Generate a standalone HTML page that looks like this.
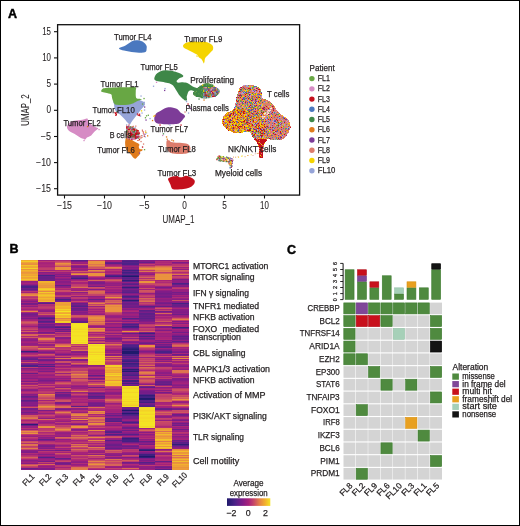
<!DOCTYPE html>
<html><head><meta charset="utf-8"><style>
html,body{margin:0;padding:0;background:#fff;}
body{width:520px;height:526px;overflow:hidden;position:relative;}
svg{position:absolute;left:0;top:0;font-family:"Liberation Sans", sans-serif;fill:#231f20;will-change:transform;}
text{stroke:#231f20;stroke-width:0.25px;}
text[font-weight]{stroke:#000;stroke-width:0.45px;}
.ax{stroke-width:0.08px;}
.frame{position:absolute;left:0;top:0;width:520px;height:526px;box-sizing:border-box;border:1px solid #000;}
</style></head><body>
<svg width="520" height="526" viewBox="0 0 520 526">
<text x="8.0" y="18.0" font-size="12.5" font-weight="bold" fill="#000">A</text>
<rect x="57.6" y="24.7" width="242.0" height="170.4" fill="none" stroke="#111" stroke-width="1.3"/>
<line x1="54" y1="31.7" x2="57.6" y2="31.7" stroke="#111" stroke-width="1.1"/>
<text x="51.0" y="34.7" font-size="10.2" text-anchor="end" textLength="8.8" lengthAdjust="spacingAndGlyphs" class="ax">15</text>
<line x1="54" y1="57.9" x2="57.6" y2="57.9" stroke="#111" stroke-width="1.1"/>
<text x="51.0" y="60.9" font-size="10.2" text-anchor="end" textLength="8.8" lengthAdjust="spacingAndGlyphs" class="ax">10</text>
<line x1="54" y1="84.1" x2="57.6" y2="84.1" stroke="#111" stroke-width="1.1"/>
<text x="51.0" y="87.1" font-size="10.2" text-anchor="end" textLength="4.6" lengthAdjust="spacingAndGlyphs" class="ax">5</text>
<line x1="54" y1="110.3" x2="57.6" y2="110.3" stroke="#111" stroke-width="1.1"/>
<text x="51.0" y="113.3" font-size="10.2" text-anchor="end" textLength="4.6" lengthAdjust="spacingAndGlyphs" class="ax">0</text>
<line x1="54" y1="136.5" x2="57.6" y2="136.5" stroke="#111" stroke-width="1.1"/>
<text x="51.0" y="139.5" font-size="10.2" text-anchor="end" textLength="10.3" lengthAdjust="spacingAndGlyphs" class="ax">−5</text>
<line x1="54" y1="162.6" x2="57.6" y2="162.6" stroke="#111" stroke-width="1.1"/>
<text x="51.0" y="165.6" font-size="10.2" text-anchor="end" textLength="15.0" lengthAdjust="spacingAndGlyphs" class="ax">−10</text>
<line x1="54" y1="188.7" x2="57.6" y2="188.7" stroke="#111" stroke-width="1.1"/>
<text x="51.0" y="191.7" font-size="10.2" text-anchor="end" textLength="15.0" lengthAdjust="spacingAndGlyphs" class="ax">−15</text>
<line x1="64.5" y1="195.1" x2="64.5" y2="198.5" stroke="#111" stroke-width="1.1"/>
<text x="64.5" y="209.4" font-size="10.2" text-anchor="middle" textLength="15.0" lengthAdjust="spacingAndGlyphs" class="ax">−15</text>
<line x1="104.5" y1="195.1" x2="104.5" y2="198.5" stroke="#111" stroke-width="1.1"/>
<text x="104.5" y="209.4" font-size="10.2" text-anchor="middle" textLength="15.0" lengthAdjust="spacingAndGlyphs" class="ax">−10</text>
<line x1="144.5" y1="195.1" x2="144.5" y2="198.5" stroke="#111" stroke-width="1.1"/>
<text x="144.5" y="209.4" font-size="10.2" text-anchor="middle" textLength="10.3" lengthAdjust="spacingAndGlyphs" class="ax">−5</text>
<line x1="184.5" y1="195.1" x2="184.5" y2="198.5" stroke="#111" stroke-width="1.1"/>
<text x="184.5" y="209.4" font-size="10.2" text-anchor="middle" textLength="4.6" lengthAdjust="spacingAndGlyphs" class="ax">0</text>
<line x1="224.5" y1="195.1" x2="224.5" y2="198.5" stroke="#111" stroke-width="1.1"/>
<text x="224.5" y="209.4" font-size="10.2" text-anchor="middle" textLength="4.6" lengthAdjust="spacingAndGlyphs" class="ax">5</text>
<line x1="264.5" y1="195.1" x2="264.5" y2="198.5" stroke="#111" stroke-width="1.1"/>
<text x="264.5" y="209.4" font-size="10.2" text-anchor="middle" textLength="8.8" lengthAdjust="spacingAndGlyphs" class="ax">10</text>
<text x="178.5" y="223.4" font-size="10.5" text-anchor="middle" textLength="32.0" lengthAdjust="spacingAndGlyphs" class="ax">UMAP_1</text>
<text x="29.4" y="110.0" font-size="10.5" text-anchor="middle" textLength="31.4" lengthAdjust="spacingAndGlyphs" transform="rotate(-90 29.4 110.0)" class="ax">UMAP_2</text>
<path d="M119.0,48.4C119.0,48.0 120.2,47.7 121.0,47.3C121.8,46.9 123.0,46.7 124.0,46.2C125.0,45.8 126.0,45.2 127.0,44.6C128.0,44.0 129.0,43.1 130.0,42.5C131.0,41.9 132.0,41.2 133.0,40.8C134.0,40.4 134.9,40.2 136.0,40.2C137.1,40.2 138.4,40.3 139.5,40.5C140.6,40.7 141.6,41.1 142.5,41.6C143.4,42.1 144.3,42.8 145.0,43.5C145.7,44.2 146.3,45.1 146.6,46.0C146.9,46.9 146.7,48.1 146.6,49.0C146.5,49.9 146.6,50.9 146.0,51.5C145.4,52.1 144.2,52.4 143.0,52.6C141.8,52.8 140.5,52.8 139.0,52.7C137.5,52.6 135.7,52.4 134.0,52.2C132.3,52.0 130.7,51.8 129.0,51.5C127.3,51.2 125.3,50.9 124.0,50.6C122.7,50.3 121.8,50.2 121.0,49.8C120.2,49.4 119.0,48.8 119.0,48.4Z" fill="#4a78bf"/>
<path d="M183.0,45.7C183.1,44.9 184.1,44.0 184.9,43.4C185.7,42.8 186.6,42.5 188.0,42.2C189.4,41.9 191.2,41.6 193.4,41.5C195.6,41.4 198.8,41.7 201.1,41.8C203.4,41.9 205.5,41.8 207.2,42.2C208.9,42.6 210.1,43.5 211.1,44.2C212.1,44.9 212.7,45.6 213.0,46.5C213.3,47.4 213.3,48.6 213.0,49.5C212.7,50.4 211.8,51.0 211.1,51.8C210.4,52.6 209.6,53.4 208.8,54.2C208.0,55.0 207.2,55.7 206.5,56.5C205.8,57.3 205.2,57.9 204.9,58.8C204.6,59.7 204.7,61.0 204.5,61.8C204.3,62.6 204.1,63.5 203.8,63.4C203.5,63.3 203.1,61.9 202.6,61.1C202.1,60.3 201.7,59.4 201.1,58.8C200.5,58.1 199.4,57.9 198.8,57.2C198.2,56.6 198.2,55.5 197.6,54.9C196.9,54.3 196.0,54.0 194.9,53.4C193.8,52.8 192.4,52.1 191.1,51.5C189.8,50.9 188.3,50.1 187.2,49.5C186.0,48.9 184.9,48.6 184.2,48.0C183.5,47.4 182.9,46.5 183.0,45.7Z" fill="#f5d400"/>
<path d="M154.3,78.5C154.4,77.8 154.8,76.5 155.3,75.6C155.8,74.7 156.3,73.9 157.2,73.2C158.1,72.5 159.2,71.8 160.6,71.3C162.0,70.8 163.6,70.4 165.4,70.3C167.2,70.2 169.3,70.5 171.2,70.8C173.1,71.1 175.3,71.8 176.9,72.2C178.5,72.7 179.8,73.1 180.8,73.7C181.9,74.3 182.9,75.0 183.2,75.6C183.5,76.2 183.3,76.7 182.7,77.1C182.1,77.5 180.6,77.6 179.8,78.0C179.0,78.4 178.4,79.0 177.9,79.5C177.4,80.0 176.6,80.7 176.6,81.2C176.6,81.7 177.1,82.4 177.9,82.6C178.8,82.8 180.3,82.3 181.7,82.3C183.1,82.3 185.2,82.5 186.5,82.8C187.8,83.1 188.4,83.7 189.4,84.3C190.4,84.9 191.3,85.7 192.3,86.2C193.3,86.8 194.2,87.1 195.2,87.6C196.2,88.1 198.1,88.4 198.1,89.1C198.1,89.8 196.3,91.3 195.2,91.5C194.1,91.7 192.4,90.3 191.3,90.3C190.2,90.3 189.3,90.7 188.7,91.3C188.1,91.9 187.8,93.0 187.5,93.9C187.2,94.8 186.8,95.8 186.7,96.8C186.6,97.8 187.2,99.5 187.0,100.1C186.8,100.7 186.3,100.8 185.6,100.6C184.9,100.4 183.7,99.5 182.7,98.7C181.7,97.9 180.6,96.8 179.8,95.8C179.0,94.8 178.5,93.9 177.9,92.9C177.3,91.9 176.7,91.0 176.0,90.0C175.3,89.0 174.7,87.6 174.0,86.7C173.3,85.8 172.9,85.3 172.1,84.8C171.3,84.2 170.2,83.6 169.2,83.3C168.2,83.0 167.2,83.0 166.3,82.8C165.4,82.6 164.6,82.1 163.5,81.9C162.4,81.7 160.7,81.6 159.6,81.4C158.5,81.2 157.5,81.2 156.7,80.9C155.9,80.7 155.2,80.3 154.8,79.9C154.4,79.5 154.2,79.2 154.3,78.5Z" fill="#3e8748"/>
<path d="M113.5,101.0C114.5,100.3 117.2,100.3 120.0,100.0C122.8,99.7 127.0,99.1 130.0,99.0C133.0,98.9 135.8,99.1 138.0,99.5C140.2,99.9 141.8,100.8 143.0,101.5C144.2,102.2 144.9,103.2 145.0,104.0C145.1,104.8 144.4,105.6 143.7,106.5C143.0,107.4 141.9,108.3 141.0,109.5C140.1,110.7 139.1,112.1 138.0,113.5C136.9,114.9 135.6,116.6 134.5,118.0C133.4,119.4 132.3,120.9 131.5,122.0C130.7,123.1 130.6,124.3 129.9,124.4C129.2,124.5 128.5,123.5 127.5,122.5C126.5,121.5 125.2,119.8 124.0,118.5C122.8,117.2 121.3,115.6 120.0,114.5C118.7,113.4 117.1,112.8 116.2,111.7C115.3,110.6 114.9,109.2 114.5,108.0C114.1,106.8 114.2,105.5 114.0,104.3C113.8,103.1 112.5,101.7 113.5,101.0Z" fill="#96a4d8"/>
<path d="M101.3,90.5C101.5,90.0 102.1,88.9 103.0,88.5C103.9,88.1 104.4,88.1 106.6,87.9C108.8,87.7 113.1,87.5 116.2,87.4C119.3,87.3 121.8,87.3 125.0,87.3C128.2,87.3 133.4,86.7 135.2,87.2C137.0,87.8 135.7,89.3 135.8,90.6C135.9,91.9 135.6,93.7 135.7,95.0C135.8,96.3 135.9,97.7 136.5,98.3C137.1,98.9 138.1,98.6 139.0,98.8C139.9,99.0 141.8,99.0 141.8,99.3C141.8,99.6 140.0,100.1 139.0,100.5C138.0,100.9 137.0,101.3 136.0,101.8C135.0,102.3 134.3,103.0 133.0,103.5C131.7,104.0 129.8,104.5 128.0,104.8C126.2,105.0 124.0,105.0 122.0,105.0C120.0,105.0 117.3,105.0 116.0,104.8C114.7,104.5 114.8,104.4 114.2,103.5C113.6,102.6 112.9,100.6 112.5,99.5C112.1,98.4 112.2,97.8 111.9,96.9C111.7,96.0 112.0,95.0 111.0,94.3C110.0,93.6 107.2,93.1 105.6,92.7C104.0,92.3 102.3,92.2 101.6,91.8C100.9,91.4 101.1,91.0 101.3,90.5Z" fill="#68a744"/>
<path d="M67.0,126.5C67.1,125.8 67.3,125.2 67.8,124.6C68.2,124.0 69.0,123.3 69.7,122.7C70.4,122.1 71.0,121.6 72.0,121.2C73.0,120.8 74.4,120.6 75.8,120.4C77.2,120.2 79.1,120.2 80.5,120.0C81.9,119.8 83.1,119.5 84.3,119.2C85.5,119.0 86.8,118.2 87.4,118.5C88.1,118.8 87.7,120.3 88.2,121.2C88.7,122.1 89.7,123.0 90.5,123.8C91.3,124.6 91.9,125.2 92.8,125.8C93.7,126.4 94.9,126.8 95.8,127.3C96.7,127.8 98.2,128.0 98.2,128.5C98.2,129.0 96.6,129.7 95.8,130.4C95.0,131.1 94.3,131.9 93.5,132.7C92.7,133.5 92.2,134.6 91.2,135.4C90.2,136.2 88.4,136.6 87.4,137.3C86.4,138.0 85.8,139.3 85.1,139.6C84.4,139.8 84.3,139.1 83.5,138.8C82.7,138.5 81.5,138.2 80.5,137.7C79.5,137.2 78.4,136.5 77.4,135.8C76.4,135.2 75.3,134.4 74.3,133.8C73.3,133.2 72.1,132.8 71.2,132.3C70.3,131.8 69.5,131.4 68.9,130.8C68.3,130.2 67.7,129.5 67.4,128.8C67.1,128.1 66.9,127.2 67.0,126.5Z" fill="#d68cc4"/>
<path d="M125.9,138.3C126.4,138.0 127.3,137.9 128.1,138.0C128.9,138.1 129.9,138.6 130.8,139.1C131.7,139.6 132.6,140.4 133.5,141.0C134.4,141.6 135.4,142.2 136.2,142.6C137.0,143.0 137.8,143.0 138.3,143.4C138.8,143.8 139.3,144.2 139.4,144.8C139.5,145.4 138.7,146.2 138.8,146.9C138.9,147.6 139.3,148.7 139.9,149.1C140.5,149.5 142.2,149.3 142.6,149.6C143.0,149.9 142.5,150.3 142.1,150.7C141.7,151.1 140.3,151.2 139.9,151.8C139.5,152.4 140.0,153.7 139.7,154.5C139.3,155.3 138.5,155.9 137.8,156.6C137.1,157.3 136.3,158.6 135.6,158.8C134.9,159.0 134.2,158.3 133.5,157.7C132.8,157.1 132.0,155.8 131.3,155.0C130.6,154.2 130.0,153.6 129.2,152.8C128.4,152.0 127.1,151.3 126.5,150.2C125.9,149.1 125.6,147.7 125.4,146.4C125.2,145.1 125.1,143.7 125.1,142.6C125.1,141.5 125.3,140.6 125.4,139.9C125.5,139.2 125.5,138.6 125.9,138.3Z" fill="#e07b1c"/>
<path d="M154.3,118.1C154.4,117.0 154.7,115.7 155.3,114.7C155.9,113.7 156.7,113.0 157.7,112.3C158.7,111.6 160.0,111.0 161.1,110.4C162.2,109.8 163.2,109.0 164.4,108.5C165.6,108.0 167.0,107.5 168.3,107.3C169.6,107.1 170.8,107.3 172.1,107.5C173.4,107.7 174.9,108.0 176.0,108.5C177.1,109.0 178.0,109.7 178.8,110.4C179.6,111.1 179.9,112.1 180.8,112.8C181.7,113.5 183.4,114.1 184.1,114.7C184.8,115.3 185.2,115.9 185.1,116.6C184.9,117.3 183.9,118.1 183.2,119.0C182.5,119.9 181.7,121.1 180.8,121.9C179.9,122.7 179.4,123.4 177.9,123.8C176.4,124.2 174.2,124.2 172.1,124.3C170.0,124.4 167.5,124.4 165.4,124.3C163.3,124.2 161.1,124.0 159.6,123.8C158.1,123.6 157.1,123.4 156.3,122.9C155.5,122.4 154.9,121.8 154.6,121.0C154.3,120.2 154.2,119.1 154.3,118.1Z" fill="#7d3c98"/>
<path d="M166.5,141.5C166.7,140.4 167.0,140.2 167.5,140.0C168.0,139.8 168.9,140.2 169.5,140.5C170.1,140.8 170.2,141.7 171.0,142.0C171.8,142.3 172.8,142.4 174.0,142.5C175.2,142.6 176.7,142.7 178.0,142.8C179.3,142.9 180.7,142.9 182.0,143.0C183.3,143.1 184.8,143.2 186.0,143.5C187.2,143.8 188.2,144.2 189.0,145.0C189.8,145.8 190.4,146.9 190.5,148.0C190.6,149.1 190.2,150.6 189.5,151.5C188.8,152.4 187.9,153.1 186.5,153.5C185.1,153.9 182.9,153.9 181.0,154.0C179.1,154.1 176.8,154.0 175.0,153.8C173.2,153.6 171.7,153.4 170.5,152.8C169.3,152.2 168.5,151.6 167.8,150.5C167.1,149.4 166.7,148.0 166.5,146.5C166.3,145.0 166.3,142.6 166.5,141.5Z" fill="#dc7c6c"/>
<path d="M168.1,178.8C168.4,178.1 169.5,177.6 170.4,177.2C171.3,176.8 172.3,176.5 173.5,176.3C174.7,176.1 176.3,175.8 177.3,175.9C178.3,176.1 178.8,177.0 179.6,177.2C180.4,177.4 181.0,177.4 181.9,177.2C182.8,177.0 184.0,176.1 185.0,175.9C186.0,175.8 186.9,175.9 188.1,176.3C189.2,176.7 190.8,177.4 191.9,178.1C193.0,178.8 194.2,179.6 194.6,180.5C195.0,181.4 194.8,182.8 194.2,183.8C193.6,184.8 192.5,185.9 191.2,186.7C189.9,187.5 188.3,188.0 186.5,188.4C184.7,188.8 182.3,189.0 180.4,189.2C178.5,189.4 176.4,189.7 175.0,189.6C173.6,189.5 172.7,189.2 171.9,188.4C171.1,187.6 170.9,185.8 170.4,184.6C169.9,183.4 169.2,182.3 168.8,181.3C168.4,180.3 167.8,179.5 168.1,178.8Z" fill="#c40f1c"/>
<path fill="#d68cc4" d="M243.0 85.0h1v1h-1zM247.0 85.0h1v1h-1zM251.0 86.0h1v1h-1zM255.0 87.0h1v1h-1zM240.0 88.0h1v1h-1zM254.0 88.0h1v1h-1zM255.0 88.0h1v1h-1zM256.0 89.0h1v1h-1zM252.0 90.0h1v1h-1zM258.0 90.0h1v1h-1zM252.0 91.0h1v1h-1zM253.0 91.0h1v1h-1zM255.0 91.0h1v1h-1zM258.0 91.0h1v1h-1zM242.0 92.0h1v1h-1zM254.0 92.0h1v1h-1zM255.0 92.0h1v1h-1zM257.0 92.0h1v1h-1zM258.0 92.0h1v1h-1zM242.0 93.0h1v1h-1zM249.0 93.0h1v1h-1zM250.0 93.0h1v1h-1zM248.0 95.0h1v1h-1zM250.0 95.0h1v1h-1zM238.0 96.0h1v1h-1zM250.0 96.0h1v1h-1zM250.0 97.0h1v1h-1zM261.0 97.0h1v1h-1zM236.0 98.0h1v1h-1zM260.0 99.0h1v1h-1zM257.0 100.0h1v1h-1zM253.0 101.0h1v1h-1zM266.0 101.0h1v1h-1zM240.0 102.0h1v1h-1zM243.0 102.0h1v1h-1zM254.0 102.0h1v1h-1zM256.0 102.0h1v1h-1zM258.0 103.0h1v1h-1zM255.0 104.0h1v1h-1zM235.0 105.0h1v1h-1zM238.0 105.0h1v1h-1zM239.0 105.0h1v1h-1zM242.0 106.0h1v1h-1zM250.0 106.0h1v1h-1zM253.0 106.0h1v1h-1zM262.0 106.0h1v1h-1zM268.0 106.0h1v1h-1zM270.0 106.0h1v1h-1zM235.0 107.0h1v1h-1zM247.0 107.0h1v1h-1zM259.0 107.0h1v1h-1zM271.0 108.0h1v1h-1zM254.0 109.0h1v1h-1zM256.0 109.0h1v1h-1zM275.0 109.0h1v1h-1zM246.0 110.0h1v1h-1zM263.0 110.0h1v1h-1zM268.0 110.0h1v1h-1zM276.0 111.0h1v1h-1zM231.0 112.0h1v1h-1zM229.0 113.0h1v1h-1zM234.0 114.0h1v1h-1zM251.0 114.0h1v1h-1zM260.0 114.0h1v1h-1zM224.0 115.0h1v1h-1zM236.0 115.0h1v1h-1zM270.0 115.0h1v1h-1zM264.0 116.0h1v1h-1zM267.0 116.0h1v1h-1zM283.0 116.0h1v1h-1zM270.0 117.0h1v1h-1zM231.0 118.0h1v1h-1zM265.0 118.0h1v1h-1zM271.0 118.0h1v1h-1zM278.0 118.0h1v1h-1zM231.0 119.0h1v1h-1zM254.0 119.0h1v1h-1zM255.0 119.0h1v1h-1zM266.0 119.0h1v1h-1zM273.0 119.0h1v1h-1zM223.0 120.0h1v1h-1zM236.0 120.0h1v1h-1zM254.0 120.0h1v1h-1zM256.0 120.0h1v1h-1zM282.0 120.0h1v1h-1zM224.0 121.0h1v1h-1zM249.0 121.0h1v1h-1zM269.0 121.0h1v1h-1zM272.0 121.0h1v1h-1zM279.0 121.0h1v1h-1zM286.0 121.0h1v1h-1zM251.0 122.0h1v1h-1zM266.0 122.0h1v1h-1zM274.0 122.0h1v1h-1zM287.0 122.0h1v1h-1zM254.0 123.0h1v1h-1zM276.0 123.0h1v1h-1zM280.0 123.0h1v1h-1zM272.0 124.0h1v1h-1zM234.0 125.0h1v1h-1zM244.0 125.0h1v1h-1zM245.0 125.0h1v1h-1zM255.0 125.0h1v1h-1zM269.0 125.0h1v1h-1zM275.0 125.0h1v1h-1zM229.0 127.0h1v1h-1zM252.0 128.0h1v1h-1zM246.0 129.0h1v1h-1zM257.0 129.0h1v1h-1zM234.0 130.0h1v1h-1zM268.0 130.0h1v1h-1zM271.0 130.0h1v1h-1zM236.0 131.0h1v1h-1zM274.0 131.0h1v1h-1zM275.0 132.0h1v1h-1zM284.0 132.0h1v1h-1zM271.0 133.0h1v1h-1zM287.0 133.0h1v1h-1zM278.0 134.0h1v1h-1zM283.0 135.0h1v1h-1zM263.0 136.0h1v1h-1zM282.0 136.0h1v1h-1zM285.0 136.0h1v1h-1zM260.0 137.0h1v1h-1zM258.0 138.0h1v1h-1z"/>
<path fill="#96a4d8" d="M244.0 85.0h1v1h-1zM246.0 85.0h1v1h-1zM246.0 86.0h1v1h-1zM247.0 86.0h1v1h-1zM248.0 86.0h1v1h-1zM251.0 87.0h1v1h-1zM251.0 88.0h1v1h-1zM246.0 90.0h1v1h-1zM249.0 91.0h1v1h-1zM239.0 92.0h1v1h-1zM244.0 92.0h1v1h-1zM241.0 93.0h1v1h-1zM243.0 93.0h1v1h-1zM252.0 95.0h1v1h-1zM261.0 96.0h1v1h-1zM261.0 98.0h1v1h-1zM238.0 99.0h1v1h-1zM246.0 99.0h1v1h-1zM248.0 100.0h1v1h-1zM236.0 102.0h1v1h-1zM264.0 102.0h1v1h-1zM236.0 103.0h1v1h-1zM253.0 103.0h1v1h-1zM249.0 104.0h1v1h-1zM261.0 104.0h1v1h-1zM246.0 105.0h1v1h-1zM253.0 105.0h1v1h-1zM261.0 105.0h1v1h-1zM243.0 107.0h1v1h-1zM245.0 107.0h1v1h-1zM240.0 108.0h1v1h-1zM258.0 111.0h1v1h-1zM252.0 112.0h1v1h-1zM260.0 112.0h1v1h-1zM266.0 112.0h1v1h-1zM270.0 112.0h1v1h-1zM273.0 112.0h1v1h-1zM275.0 112.0h1v1h-1zM277.0 113.0h1v1h-1zM246.0 114.0h1v1h-1zM246.0 115.0h1v1h-1zM262.0 115.0h1v1h-1zM269.0 115.0h1v1h-1zM232.0 116.0h1v1h-1zM239.0 116.0h1v1h-1zM254.0 116.0h1v1h-1zM255.0 116.0h1v1h-1zM235.0 117.0h1v1h-1zM279.0 117.0h1v1h-1zM280.0 117.0h1v1h-1zM250.0 118.0h1v1h-1zM260.0 118.0h1v1h-1zM266.0 118.0h1v1h-1zM281.0 119.0h1v1h-1zM224.0 120.0h1v1h-1zM268.0 120.0h1v1h-1zM273.0 120.0h1v1h-1zM287.0 120.0h1v1h-1zM251.0 121.0h1v1h-1zM258.0 121.0h1v1h-1zM273.0 121.0h1v1h-1zM257.0 122.0h1v1h-1zM275.0 122.0h1v1h-1zM283.0 122.0h1v1h-1zM226.0 123.0h1v1h-1zM230.0 123.0h1v1h-1zM252.0 123.0h1v1h-1zM256.0 123.0h1v1h-1zM262.0 123.0h1v1h-1zM264.0 123.0h1v1h-1zM253.0 124.0h1v1h-1zM269.0 124.0h1v1h-1zM279.0 124.0h1v1h-1zM282.0 124.0h1v1h-1zM284.0 124.0h1v1h-1zM229.0 125.0h1v1h-1zM231.0 125.0h1v1h-1zM254.0 125.0h1v1h-1zM280.0 125.0h1v1h-1zM284.0 125.0h1v1h-1zM287.0 125.0h1v1h-1zM269.0 126.0h1v1h-1zM271.0 126.0h1v1h-1zM279.0 126.0h1v1h-1zM288.0 127.0h1v1h-1zM289.0 127.0h1v1h-1zM265.0 128.0h1v1h-1zM273.0 128.0h1v1h-1zM287.0 128.0h1v1h-1zM242.0 129.0h1v1h-1zM262.0 129.0h1v1h-1zM257.0 130.0h1v1h-1zM280.0 130.0h1v1h-1zM250.0 132.0h1v1h-1zM269.0 132.0h1v1h-1zM253.0 133.0h1v1h-1zM256.0 133.0h1v1h-1zM257.0 133.0h1v1h-1zM276.0 133.0h1v1h-1zM258.0 134.0h1v1h-1zM265.0 134.0h1v1h-1zM256.0 136.0h1v1h-1zM260.0 136.0h1v1h-1zM263.0 137.0h1v1h-1zM269.0 137.0h1v1h-1zM282.0 137.0h1v1h-1zM256.0 138.0h1v1h-1zM274.0 138.0h1v1h-1zM271.0 139.0h1v1h-1zM274.0 139.0h1v1h-1zM276.0 139.0h1v1h-1z"/>
<path fill="#dc7c6c" d="M245.0 85.0h1v1h-1zM249.0 85.0h1v1h-1zM250.0 85.0h1v1h-1zM251.0 85.0h1v1h-1zM252.0 85.0h1v1h-1zM253.0 85.0h1v1h-1zM242.0 86.0h1v1h-1zM243.0 86.0h1v1h-1zM244.0 86.0h1v1h-1zM245.0 86.0h1v1h-1zM242.0 87.0h1v1h-1zM244.0 87.0h1v1h-1zM245.0 87.0h1v1h-1zM246.0 87.0h1v1h-1zM247.0 87.0h1v1h-1zM248.0 87.0h1v1h-1zM249.0 87.0h1v1h-1zM250.0 87.0h1v1h-1zM254.0 87.0h1v1h-1zM256.0 87.0h1v1h-1zM257.0 87.0h1v1h-1zM239.0 88.0h1v1h-1zM241.0 88.0h1v1h-1zM245.0 88.0h1v1h-1zM246.0 88.0h1v1h-1zM247.0 88.0h1v1h-1zM253.0 88.0h1v1h-1zM258.0 88.0h1v1h-1zM242.0 89.0h1v1h-1zM244.0 89.0h1v1h-1zM246.0 89.0h1v1h-1zM248.0 89.0h1v1h-1zM252.0 89.0h1v1h-1zM257.0 89.0h1v1h-1zM260.0 89.0h1v1h-1zM242.0 90.0h1v1h-1zM243.0 90.0h1v1h-1zM250.0 90.0h1v1h-1zM251.0 90.0h1v1h-1zM254.0 90.0h1v1h-1zM257.0 90.0h1v1h-1zM259.0 90.0h1v1h-1zM260.0 90.0h1v1h-1zM241.0 91.0h1v1h-1zM243.0 91.0h1v1h-1zM250.0 91.0h1v1h-1zM251.0 91.0h1v1h-1zM256.0 91.0h1v1h-1zM257.0 91.0h1v1h-1zM238.0 92.0h1v1h-1zM240.0 92.0h1v1h-1zM241.0 92.0h1v1h-1zM247.0 92.0h1v1h-1zM251.0 92.0h1v1h-1zM256.0 92.0h1v1h-1zM260.0 92.0h1v1h-1zM238.0 93.0h1v1h-1zM239.0 93.0h1v1h-1zM240.0 93.0h1v1h-1zM245.0 93.0h1v1h-1zM251.0 93.0h1v1h-1zM253.0 93.0h1v1h-1zM254.0 93.0h1v1h-1zM257.0 93.0h1v1h-1zM259.0 93.0h1v1h-1zM260.0 93.0h1v1h-1zM238.0 94.0h1v1h-1zM239.0 94.0h1v1h-1zM241.0 94.0h1v1h-1zM242.0 94.0h1v1h-1zM243.0 94.0h1v1h-1zM244.0 94.0h1v1h-1zM247.0 94.0h1v1h-1zM248.0 94.0h1v1h-1zM237.0 95.0h1v1h-1zM242.0 95.0h1v1h-1zM243.0 95.0h1v1h-1zM245.0 95.0h1v1h-1zM246.0 95.0h1v1h-1zM251.0 95.0h1v1h-1zM253.0 95.0h1v1h-1zM255.0 95.0h1v1h-1zM256.0 95.0h1v1h-1zM257.0 95.0h1v1h-1zM258.0 95.0h1v1h-1zM259.0 95.0h1v1h-1zM261.0 95.0h1v1h-1zM237.0 96.0h1v1h-1zM240.0 96.0h1v1h-1zM244.0 96.0h1v1h-1zM246.0 96.0h1v1h-1zM247.0 96.0h1v1h-1zM254.0 96.0h1v1h-1zM257.0 96.0h1v1h-1zM260.0 96.0h1v1h-1zM239.0 97.0h1v1h-1zM242.0 97.0h1v1h-1zM245.0 97.0h1v1h-1zM246.0 97.0h1v1h-1zM248.0 97.0h1v1h-1zM253.0 97.0h1v1h-1zM255.0 97.0h1v1h-1zM260.0 97.0h1v1h-1zM237.0 98.0h1v1h-1zM238.0 98.0h1v1h-1zM239.0 98.0h1v1h-1zM240.0 98.0h1v1h-1zM241.0 98.0h1v1h-1zM242.0 98.0h1v1h-1zM247.0 98.0h1v1h-1zM250.0 98.0h1v1h-1zM253.0 98.0h1v1h-1zM254.0 98.0h1v1h-1zM255.0 98.0h1v1h-1zM256.0 98.0h1v1h-1zM258.0 98.0h1v1h-1zM262.0 98.0h1v1h-1zM239.0 99.0h1v1h-1zM241.0 99.0h1v1h-1zM245.0 99.0h1v1h-1zM247.0 99.0h1v1h-1zM249.0 99.0h1v1h-1zM254.0 99.0h1v1h-1zM257.0 99.0h1v1h-1zM262.0 99.0h1v1h-1zM263.0 99.0h1v1h-1zM237.0 100.0h1v1h-1zM239.0 100.0h1v1h-1zM242.0 100.0h1v1h-1zM244.0 100.0h1v1h-1zM245.0 100.0h1v1h-1zM246.0 100.0h1v1h-1zM250.0 100.0h1v1h-1zM253.0 100.0h1v1h-1zM254.0 100.0h1v1h-1zM256.0 100.0h1v1h-1zM258.0 100.0h1v1h-1zM259.0 100.0h1v1h-1zM263.0 100.0h1v1h-1zM265.0 100.0h1v1h-1zM266.0 100.0h1v1h-1zM267.0 100.0h1v1h-1zM242.0 101.0h1v1h-1zM247.0 101.0h1v1h-1zM248.0 101.0h1v1h-1zM251.0 101.0h1v1h-1zM252.0 101.0h1v1h-1zM254.0 101.0h1v1h-1zM257.0 101.0h1v1h-1zM261.0 101.0h1v1h-1zM262.0 101.0h1v1h-1zM263.0 101.0h1v1h-1zM265.0 101.0h1v1h-1zM267.0 101.0h1v1h-1zM268.0 101.0h1v1h-1zM269.0 101.0h1v1h-1zM237.0 102.0h1v1h-1zM238.0 102.0h1v1h-1zM239.0 102.0h1v1h-1zM241.0 102.0h1v1h-1zM244.0 102.0h1v1h-1zM246.0 102.0h1v1h-1zM248.0 102.0h1v1h-1zM260.0 102.0h1v1h-1zM261.0 102.0h1v1h-1zM263.0 102.0h1v1h-1zM265.0 102.0h1v1h-1zM267.0 102.0h1v1h-1zM269.0 102.0h1v1h-1zM270.0 102.0h1v1h-1zM235.0 103.0h1v1h-1zM238.0 103.0h1v1h-1zM239.0 103.0h1v1h-1zM240.0 103.0h1v1h-1zM241.0 103.0h1v1h-1zM244.0 103.0h1v1h-1zM246.0 103.0h1v1h-1zM249.0 103.0h1v1h-1zM255.0 103.0h1v1h-1zM261.0 103.0h1v1h-1zM262.0 103.0h1v1h-1zM263.0 103.0h1v1h-1zM264.0 103.0h1v1h-1zM265.0 103.0h1v1h-1zM266.0 103.0h1v1h-1zM267.0 103.0h1v1h-1zM268.0 103.0h1v1h-1zM269.0 103.0h1v1h-1zM270.0 103.0h1v1h-1zM235.0 104.0h1v1h-1zM237.0 104.0h1v1h-1zM238.0 104.0h1v1h-1zM240.0 104.0h1v1h-1zM243.0 104.0h1v1h-1zM244.0 104.0h1v1h-1zM245.0 104.0h1v1h-1zM246.0 104.0h1v1h-1zM248.0 104.0h1v1h-1zM251.0 104.0h1v1h-1zM253.0 104.0h1v1h-1zM256.0 104.0h1v1h-1zM257.0 104.0h1v1h-1zM260.0 104.0h1v1h-1zM263.0 104.0h1v1h-1zM264.0 104.0h1v1h-1zM265.0 104.0h1v1h-1zM266.0 104.0h1v1h-1zM267.0 104.0h1v1h-1zM268.0 104.0h1v1h-1zM269.0 104.0h1v1h-1zM271.0 104.0h1v1h-1zM272.0 104.0h1v1h-1zM237.0 105.0h1v1h-1zM240.0 105.0h1v1h-1zM244.0 105.0h1v1h-1zM248.0 105.0h1v1h-1zM249.0 105.0h1v1h-1zM252.0 105.0h1v1h-1zM257.0 105.0h1v1h-1zM258.0 105.0h1v1h-1zM263.0 105.0h1v1h-1zM264.0 105.0h1v1h-1zM266.0 105.0h1v1h-1zM267.0 105.0h1v1h-1zM268.0 105.0h1v1h-1zM269.0 105.0h1v1h-1zM271.0 105.0h1v1h-1zM272.0 105.0h1v1h-1zM273.0 105.0h1v1h-1zM237.0 106.0h1v1h-1zM238.0 106.0h1v1h-1zM239.0 106.0h1v1h-1zM241.0 106.0h1v1h-1zM243.0 106.0h1v1h-1zM244.0 106.0h1v1h-1zM247.0 106.0h1v1h-1zM248.0 106.0h1v1h-1zM256.0 106.0h1v1h-1zM257.0 106.0h1v1h-1zM259.0 106.0h1v1h-1zM263.0 106.0h1v1h-1zM264.0 106.0h1v1h-1zM265.0 106.0h1v1h-1zM267.0 106.0h1v1h-1zM271.0 106.0h1v1h-1zM239.0 107.0h1v1h-1zM240.0 107.0h1v1h-1zM241.0 107.0h1v1h-1zM244.0 107.0h1v1h-1zM258.0 107.0h1v1h-1zM261.0 107.0h1v1h-1zM262.0 107.0h1v1h-1zM265.0 107.0h1v1h-1zM266.0 107.0h1v1h-1zM268.0 107.0h1v1h-1zM269.0 107.0h1v1h-1zM271.0 107.0h1v1h-1zM273.0 107.0h1v1h-1zM274.0 107.0h1v1h-1zM234.0 108.0h1v1h-1zM235.0 108.0h1v1h-1zM237.0 108.0h1v1h-1zM241.0 108.0h1v1h-1zM245.0 108.0h1v1h-1zM247.0 108.0h1v1h-1zM250.0 108.0h1v1h-1zM256.0 108.0h1v1h-1zM258.0 108.0h1v1h-1zM261.0 108.0h1v1h-1zM266.0 108.0h1v1h-1zM267.0 108.0h1v1h-1zM269.0 108.0h1v1h-1zM270.0 108.0h1v1h-1zM272.0 108.0h1v1h-1zM274.0 108.0h1v1h-1zM275.0 108.0h1v1h-1zM244.0 109.0h1v1h-1zM246.0 109.0h1v1h-1zM247.0 109.0h1v1h-1zM250.0 109.0h1v1h-1zM262.0 109.0h1v1h-1zM265.0 109.0h1v1h-1zM267.0 109.0h1v1h-1zM268.0 109.0h1v1h-1zM270.0 109.0h1v1h-1zM271.0 109.0h1v1h-1zM272.0 109.0h1v1h-1zM274.0 109.0h1v1h-1zM252.0 110.0h1v1h-1zM253.0 110.0h1v1h-1zM254.0 110.0h1v1h-1zM255.0 110.0h1v1h-1zM256.0 110.0h1v1h-1zM260.0 110.0h1v1h-1zM262.0 110.0h1v1h-1zM264.0 110.0h1v1h-1zM265.0 110.0h1v1h-1zM266.0 110.0h1v1h-1zM267.0 110.0h1v1h-1zM269.0 110.0h1v1h-1zM270.0 110.0h1v1h-1zM271.0 110.0h1v1h-1zM272.0 110.0h1v1h-1zM274.0 110.0h1v1h-1zM275.0 110.0h1v1h-1zM276.0 110.0h1v1h-1zM250.0 111.0h1v1h-1zM251.0 111.0h1v1h-1zM256.0 111.0h1v1h-1zM259.0 111.0h1v1h-1zM260.0 111.0h1v1h-1zM262.0 111.0h1v1h-1zM264.0 111.0h1v1h-1zM266.0 111.0h1v1h-1zM267.0 111.0h1v1h-1zM269.0 111.0h1v1h-1zM271.0 111.0h1v1h-1zM272.0 111.0h1v1h-1zM273.0 111.0h1v1h-1zM274.0 111.0h1v1h-1zM275.0 111.0h1v1h-1zM277.0 111.0h1v1h-1zM245.0 112.0h1v1h-1zM254.0 112.0h1v1h-1zM255.0 112.0h1v1h-1zM256.0 112.0h1v1h-1zM258.0 112.0h1v1h-1zM264.0 112.0h1v1h-1zM267.0 112.0h1v1h-1zM268.0 112.0h1v1h-1zM271.0 112.0h1v1h-1zM276.0 112.0h1v1h-1zM278.0 112.0h1v1h-1zM247.0 113.0h1v1h-1zM250.0 113.0h1v1h-1zM254.0 113.0h1v1h-1zM255.0 113.0h1v1h-1zM259.0 113.0h1v1h-1zM261.0 113.0h1v1h-1zM264.0 113.0h1v1h-1zM266.0 113.0h1v1h-1zM268.0 113.0h1v1h-1zM269.0 113.0h1v1h-1zM270.0 113.0h1v1h-1zM272.0 113.0h1v1h-1zM273.0 113.0h1v1h-1zM275.0 113.0h1v1h-1zM276.0 113.0h1v1h-1zM278.0 113.0h1v1h-1zM232.0 114.0h1v1h-1zM242.0 114.0h1v1h-1zM243.0 114.0h1v1h-1zM250.0 114.0h1v1h-1zM262.0 114.0h1v1h-1zM265.0 114.0h1v1h-1zM266.0 114.0h1v1h-1zM267.0 114.0h1v1h-1zM270.0 114.0h1v1h-1zM271.0 114.0h1v1h-1zM273.0 114.0h1v1h-1zM274.0 114.0h1v1h-1zM275.0 114.0h1v1h-1zM280.0 114.0h1v1h-1zM233.0 115.0h1v1h-1zM242.0 115.0h1v1h-1zM245.0 115.0h1v1h-1zM252.0 115.0h1v1h-1zM253.0 115.0h1v1h-1zM259.0 115.0h1v1h-1zM265.0 115.0h1v1h-1zM266.0 115.0h1v1h-1zM272.0 115.0h1v1h-1zM273.0 115.0h1v1h-1zM274.0 115.0h1v1h-1zM276.0 115.0h1v1h-1zM277.0 115.0h1v1h-1zM278.0 115.0h1v1h-1zM280.0 115.0h1v1h-1zM281.0 115.0h1v1h-1zM223.0 116.0h1v1h-1zM250.0 116.0h1v1h-1zM257.0 116.0h1v1h-1zM259.0 116.0h1v1h-1zM262.0 116.0h1v1h-1zM266.0 116.0h1v1h-1zM268.0 116.0h1v1h-1zM269.0 116.0h1v1h-1zM270.0 116.0h1v1h-1zM272.0 116.0h1v1h-1zM273.0 116.0h1v1h-1zM275.0 116.0h1v1h-1zM276.0 116.0h1v1h-1zM277.0 116.0h1v1h-1zM278.0 116.0h1v1h-1zM280.0 116.0h1v1h-1zM281.0 116.0h1v1h-1zM282.0 116.0h1v1h-1zM231.0 117.0h1v1h-1zM242.0 117.0h1v1h-1zM246.0 117.0h1v1h-1zM260.0 117.0h1v1h-1zM262.0 117.0h1v1h-1zM263.0 117.0h1v1h-1zM264.0 117.0h1v1h-1zM265.0 117.0h1v1h-1zM266.0 117.0h1v1h-1zM272.0 117.0h1v1h-1zM273.0 117.0h1v1h-1zM275.0 117.0h1v1h-1zM276.0 117.0h1v1h-1zM278.0 117.0h1v1h-1zM281.0 117.0h1v1h-1zM284.0 117.0h1v1h-1zM233.0 118.0h1v1h-1zM240.0 118.0h1v1h-1zM242.0 118.0h1v1h-1zM244.0 118.0h1v1h-1zM251.0 118.0h1v1h-1zM256.0 118.0h1v1h-1zM258.0 118.0h1v1h-1zM268.0 118.0h1v1h-1zM269.0 118.0h1v1h-1zM273.0 118.0h1v1h-1zM274.0 118.0h1v1h-1zM275.0 118.0h1v1h-1zM276.0 118.0h1v1h-1zM277.0 118.0h1v1h-1zM280.0 118.0h1v1h-1zM281.0 118.0h1v1h-1zM282.0 118.0h1v1h-1zM285.0 118.0h1v1h-1zM286.0 118.0h1v1h-1zM257.0 119.0h1v1h-1zM267.0 119.0h1v1h-1zM269.0 119.0h1v1h-1zM271.0 119.0h1v1h-1zM272.0 119.0h1v1h-1zM274.0 119.0h1v1h-1zM275.0 119.0h1v1h-1zM277.0 119.0h1v1h-1zM278.0 119.0h1v1h-1zM279.0 119.0h1v1h-1zM280.0 119.0h1v1h-1zM282.0 119.0h1v1h-1zM283.0 119.0h1v1h-1zM284.0 119.0h1v1h-1zM287.0 119.0h1v1h-1zM227.0 120.0h1v1h-1zM249.0 120.0h1v1h-1zM251.0 120.0h1v1h-1zM255.0 120.0h1v1h-1zM259.0 120.0h1v1h-1zM262.0 120.0h1v1h-1zM263.0 120.0h1v1h-1zM265.0 120.0h1v1h-1zM266.0 120.0h1v1h-1zM267.0 120.0h1v1h-1zM269.0 120.0h1v1h-1zM271.0 120.0h1v1h-1zM272.0 120.0h1v1h-1zM276.0 120.0h1v1h-1zM278.0 120.0h1v1h-1zM279.0 120.0h1v1h-1zM280.0 120.0h1v1h-1zM283.0 120.0h1v1h-1zM284.0 120.0h1v1h-1zM285.0 120.0h1v1h-1zM286.0 120.0h1v1h-1zM288.0 120.0h1v1h-1zM260.0 121.0h1v1h-1zM261.0 121.0h1v1h-1zM267.0 121.0h1v1h-1zM270.0 121.0h1v1h-1zM271.0 121.0h1v1h-1zM276.0 121.0h1v1h-1zM278.0 121.0h1v1h-1zM282.0 121.0h1v1h-1zM283.0 121.0h1v1h-1zM285.0 121.0h1v1h-1zM287.0 121.0h1v1h-1zM288.0 121.0h1v1h-1zM223.0 122.0h1v1h-1zM245.0 122.0h1v1h-1zM249.0 122.0h1v1h-1zM250.0 122.0h1v1h-1zM252.0 122.0h1v1h-1zM258.0 122.0h1v1h-1zM261.0 122.0h1v1h-1zM264.0 122.0h1v1h-1zM265.0 122.0h1v1h-1zM267.0 122.0h1v1h-1zM268.0 122.0h1v1h-1zM270.0 122.0h1v1h-1zM271.0 122.0h1v1h-1zM272.0 122.0h1v1h-1zM273.0 122.0h1v1h-1zM281.0 122.0h1v1h-1zM282.0 122.0h1v1h-1zM285.0 122.0h1v1h-1zM286.0 122.0h1v1h-1zM288.0 122.0h1v1h-1zM289.0 122.0h1v1h-1zM224.0 123.0h1v1h-1zM229.0 123.0h1v1h-1zM237.0 123.0h1v1h-1zM243.0 123.0h1v1h-1zM259.0 123.0h1v1h-1zM265.0 123.0h1v1h-1zM266.0 123.0h1v1h-1zM267.0 123.0h1v1h-1zM269.0 123.0h1v1h-1zM270.0 123.0h1v1h-1zM271.0 123.0h1v1h-1zM273.0 123.0h1v1h-1zM275.0 123.0h1v1h-1zM277.0 123.0h1v1h-1zM282.0 123.0h1v1h-1zM283.0 123.0h1v1h-1zM284.0 123.0h1v1h-1zM285.0 123.0h1v1h-1zM286.0 123.0h1v1h-1zM287.0 123.0h1v1h-1zM228.0 124.0h1v1h-1zM233.0 124.0h1v1h-1zM246.0 124.0h1v1h-1zM250.0 124.0h1v1h-1zM255.0 124.0h1v1h-1zM259.0 124.0h1v1h-1zM263.0 124.0h1v1h-1zM265.0 124.0h1v1h-1zM266.0 124.0h1v1h-1zM267.0 124.0h1v1h-1zM270.0 124.0h1v1h-1zM271.0 124.0h1v1h-1zM273.0 124.0h1v1h-1zM274.0 124.0h1v1h-1zM275.0 124.0h1v1h-1zM277.0 124.0h1v1h-1zM285.0 124.0h1v1h-1zM287.0 124.0h1v1h-1zM288.0 124.0h1v1h-1zM289.0 124.0h1v1h-1zM266.0 125.0h1v1h-1zM267.0 125.0h1v1h-1zM268.0 125.0h1v1h-1zM270.0 125.0h1v1h-1zM271.0 125.0h1v1h-1zM273.0 125.0h1v1h-1zM274.0 125.0h1v1h-1zM279.0 125.0h1v1h-1zM281.0 125.0h1v1h-1zM282.0 125.0h1v1h-1zM283.0 125.0h1v1h-1zM285.0 125.0h1v1h-1zM286.0 125.0h1v1h-1zM224.0 126.0h1v1h-1zM252.0 126.0h1v1h-1zM253.0 126.0h1v1h-1zM254.0 126.0h1v1h-1zM259.0 126.0h1v1h-1zM261.0 126.0h1v1h-1zM265.0 126.0h1v1h-1zM268.0 126.0h1v1h-1zM270.0 126.0h1v1h-1zM272.0 126.0h1v1h-1zM273.0 126.0h1v1h-1zM274.0 126.0h1v1h-1zM275.0 126.0h1v1h-1zM276.0 126.0h1v1h-1zM277.0 126.0h1v1h-1zM280.0 126.0h1v1h-1zM281.0 126.0h1v1h-1zM284.0 126.0h1v1h-1zM285.0 126.0h1v1h-1zM286.0 126.0h1v1h-1zM287.0 126.0h1v1h-1zM289.0 126.0h1v1h-1zM290.0 126.0h1v1h-1zM239.0 127.0h1v1h-1zM241.0 127.0h1v1h-1zM249.0 127.0h1v1h-1zM250.0 127.0h1v1h-1zM252.0 127.0h1v1h-1zM263.0 127.0h1v1h-1zM266.0 127.0h1v1h-1zM269.0 127.0h1v1h-1zM271.0 127.0h1v1h-1zM274.0 127.0h1v1h-1zM276.0 127.0h1v1h-1zM278.0 127.0h1v1h-1zM279.0 127.0h1v1h-1zM280.0 127.0h1v1h-1zM282.0 127.0h1v1h-1zM283.0 127.0h1v1h-1zM284.0 127.0h1v1h-1zM285.0 127.0h1v1h-1zM286.0 127.0h1v1h-1zM229.0 128.0h1v1h-1zM235.0 128.0h1v1h-1zM238.0 128.0h1v1h-1zM245.0 128.0h1v1h-1zM246.0 128.0h1v1h-1zM254.0 128.0h1v1h-1zM255.0 128.0h1v1h-1zM261.0 128.0h1v1h-1zM262.0 128.0h1v1h-1zM264.0 128.0h1v1h-1zM267.0 128.0h1v1h-1zM268.0 128.0h1v1h-1zM269.0 128.0h1v1h-1zM270.0 128.0h1v1h-1zM271.0 128.0h1v1h-1zM272.0 128.0h1v1h-1zM275.0 128.0h1v1h-1zM276.0 128.0h1v1h-1zM277.0 128.0h1v1h-1zM278.0 128.0h1v1h-1zM280.0 128.0h1v1h-1zM281.0 128.0h1v1h-1zM282.0 128.0h1v1h-1zM284.0 128.0h1v1h-1zM289.0 128.0h1v1h-1zM228.0 129.0h1v1h-1zM234.0 129.0h1v1h-1zM236.0 129.0h1v1h-1zM239.0 129.0h1v1h-1zM240.0 129.0h1v1h-1zM259.0 129.0h1v1h-1zM265.0 129.0h1v1h-1zM268.0 129.0h1v1h-1zM271.0 129.0h1v1h-1zM273.0 129.0h1v1h-1zM274.0 129.0h1v1h-1zM275.0 129.0h1v1h-1zM276.0 129.0h1v1h-1zM279.0 129.0h1v1h-1zM280.0 129.0h1v1h-1zM282.0 129.0h1v1h-1zM283.0 129.0h1v1h-1zM284.0 129.0h1v1h-1zM286.0 129.0h1v1h-1zM287.0 129.0h1v1h-1zM289.0 129.0h1v1h-1zM246.0 130.0h1v1h-1zM253.0 130.0h1v1h-1zM265.0 130.0h1v1h-1zM266.0 130.0h1v1h-1zM267.0 130.0h1v1h-1zM270.0 130.0h1v1h-1zM275.0 130.0h1v1h-1zM279.0 130.0h1v1h-1zM281.0 130.0h1v1h-1zM282.0 130.0h1v1h-1zM283.0 130.0h1v1h-1zM284.0 130.0h1v1h-1zM285.0 130.0h1v1h-1zM288.0 130.0h1v1h-1zM246.0 131.0h1v1h-1zM259.0 131.0h1v1h-1zM263.0 131.0h1v1h-1zM267.0 131.0h1v1h-1zM270.0 131.0h1v1h-1zM271.0 131.0h1v1h-1zM272.0 131.0h1v1h-1zM278.0 131.0h1v1h-1zM279.0 131.0h1v1h-1zM283.0 131.0h1v1h-1zM284.0 131.0h1v1h-1zM286.0 131.0h1v1h-1zM288.0 131.0h1v1h-1zM252.0 132.0h1v1h-1zM253.0 132.0h1v1h-1zM256.0 132.0h1v1h-1zM257.0 132.0h1v1h-1zM261.0 132.0h1v1h-1zM265.0 132.0h1v1h-1zM267.0 132.0h1v1h-1zM270.0 132.0h1v1h-1zM271.0 132.0h1v1h-1zM272.0 132.0h1v1h-1zM276.0 132.0h1v1h-1zM277.0 132.0h1v1h-1zM278.0 132.0h1v1h-1zM279.0 132.0h1v1h-1zM281.0 132.0h1v1h-1zM282.0 132.0h1v1h-1zM283.0 132.0h1v1h-1zM285.0 132.0h1v1h-1zM286.0 132.0h1v1h-1zM287.0 132.0h1v1h-1zM288.0 132.0h1v1h-1zM251.0 133.0h1v1h-1zM254.0 133.0h1v1h-1zM259.0 133.0h1v1h-1zM265.0 133.0h1v1h-1zM266.0 133.0h1v1h-1zM269.0 133.0h1v1h-1zM270.0 133.0h1v1h-1zM272.0 133.0h1v1h-1zM274.0 133.0h1v1h-1zM275.0 133.0h1v1h-1zM277.0 133.0h1v1h-1zM278.0 133.0h1v1h-1zM279.0 133.0h1v1h-1zM283.0 133.0h1v1h-1zM284.0 133.0h1v1h-1zM286.0 133.0h1v1h-1zM251.0 134.0h1v1h-1zM256.0 134.0h1v1h-1zM261.0 134.0h1v1h-1zM266.0 134.0h1v1h-1zM269.0 134.0h1v1h-1zM271.0 134.0h1v1h-1zM272.0 134.0h1v1h-1zM273.0 134.0h1v1h-1zM277.0 134.0h1v1h-1zM279.0 134.0h1v1h-1zM280.0 134.0h1v1h-1zM282.0 134.0h1v1h-1zM283.0 134.0h1v1h-1zM285.0 134.0h1v1h-1zM286.0 134.0h1v1h-1zM256.0 135.0h1v1h-1zM259.0 135.0h1v1h-1zM263.0 135.0h1v1h-1zM264.0 135.0h1v1h-1zM266.0 135.0h1v1h-1zM268.0 135.0h1v1h-1zM269.0 135.0h1v1h-1zM273.0 135.0h1v1h-1zM274.0 135.0h1v1h-1zM275.0 135.0h1v1h-1zM276.0 135.0h1v1h-1zM277.0 135.0h1v1h-1zM279.0 135.0h1v1h-1zM281.0 135.0h1v1h-1zM284.0 135.0h1v1h-1zM285.0 135.0h1v1h-1zM257.0 136.0h1v1h-1zM264.0 136.0h1v1h-1zM266.0 136.0h1v1h-1zM267.0 136.0h1v1h-1zM268.0 136.0h1v1h-1zM270.0 136.0h1v1h-1zM271.0 136.0h1v1h-1zM272.0 136.0h1v1h-1zM273.0 136.0h1v1h-1zM274.0 136.0h1v1h-1zM276.0 136.0h1v1h-1zM278.0 136.0h1v1h-1zM279.0 136.0h1v1h-1zM281.0 136.0h1v1h-1zM283.0 136.0h1v1h-1zM284.0 136.0h1v1h-1zM254.0 137.0h1v1h-1zM256.0 137.0h1v1h-1zM257.0 137.0h1v1h-1zM264.0 137.0h1v1h-1zM265.0 137.0h1v1h-1zM267.0 137.0h1v1h-1zM270.0 137.0h1v1h-1zM271.0 137.0h1v1h-1zM273.0 137.0h1v1h-1zM274.0 137.0h1v1h-1zM275.0 137.0h1v1h-1zM277.0 137.0h1v1h-1zM279.0 137.0h1v1h-1zM284.0 137.0h1v1h-1zM254.0 138.0h1v1h-1zM265.0 138.0h1v1h-1zM266.0 138.0h1v1h-1zM268.0 138.0h1v1h-1zM271.0 138.0h1v1h-1zM272.0 138.0h1v1h-1zM273.0 138.0h1v1h-1zM275.0 138.0h1v1h-1zM277.0 138.0h1v1h-1zM279.0 138.0h1v1h-1zM281.0 138.0h1v1h-1zM282.0 138.0h1v1h-1zM283.0 138.0h1v1h-1zM272.0 139.0h1v1h-1zM275.0 139.0h1v1h-1zM278.0 139.0h1v1h-1zM280.0 139.0h1v1h-1zM281.0 139.0h1v1h-1zM255.0 140.0h1v1h-1zM259.0 140.0h1v1h-1zM260.0 143.0h1v1h-1zM262.0 145.0h1v1h-1zM263.0 145.0h1v1h-1zM259.0 148.0h1v1h-1zM262.0 149.0h1v1h-1zM261.0 153.0h1v1h-1zM259.0 157.0h1v1h-1z"/>
<path fill="#68a744" d="M248.0 85.0h1v1h-1zM253.0 86.0h1v1h-1zM256.0 86.0h1v1h-1zM252.0 87.0h1v1h-1zM253.0 87.0h1v1h-1zM258.0 87.0h1v1h-1zM242.0 88.0h1v1h-1zM252.0 88.0h1v1h-1zM247.0 89.0h1v1h-1zM249.0 89.0h1v1h-1zM240.0 90.0h1v1h-1zM249.0 90.0h1v1h-1zM242.0 91.0h1v1h-1zM246.0 91.0h1v1h-1zM260.0 91.0h1v1h-1zM244.0 93.0h1v1h-1zM247.0 93.0h1v1h-1zM248.0 93.0h1v1h-1zM255.0 93.0h1v1h-1zM237.0 94.0h1v1h-1zM253.0 94.0h1v1h-1zM247.0 95.0h1v1h-1zM239.0 96.0h1v1h-1zM237.0 97.0h1v1h-1zM247.0 97.0h1v1h-1zM252.0 97.0h1v1h-1zM245.0 98.0h1v1h-1zM251.0 98.0h1v1h-1zM257.0 98.0h1v1h-1zM260.0 98.0h1v1h-1zM253.0 99.0h1v1h-1zM265.0 99.0h1v1h-1zM240.0 100.0h1v1h-1zM240.0 101.0h1v1h-1zM260.0 101.0h1v1h-1zM251.0 102.0h1v1h-1zM253.0 102.0h1v1h-1zM268.0 102.0h1v1h-1zM237.0 103.0h1v1h-1zM243.0 103.0h1v1h-1zM250.0 103.0h1v1h-1zM271.0 103.0h1v1h-1zM242.0 104.0h1v1h-1zM247.0 104.0h1v1h-1zM252.0 104.0h1v1h-1zM245.0 105.0h1v1h-1zM247.0 105.0h1v1h-1zM265.0 105.0h1v1h-1zM270.0 105.0h1v1h-1zM236.0 106.0h1v1h-1zM240.0 106.0h1v1h-1zM252.0 106.0h1v1h-1zM258.0 106.0h1v1h-1zM246.0 107.0h1v1h-1zM249.0 107.0h1v1h-1zM251.0 107.0h1v1h-1zM253.0 107.0h1v1h-1zM257.0 107.0h1v1h-1zM243.0 108.0h1v1h-1zM257.0 108.0h1v1h-1zM260.0 108.0h1v1h-1zM241.0 109.0h1v1h-1zM234.0 110.0h1v1h-1zM247.0 110.0h1v1h-1zM248.0 111.0h1v1h-1zM261.0 111.0h1v1h-1zM263.0 111.0h1v1h-1zM265.0 111.0h1v1h-1zM248.0 112.0h1v1h-1zM251.0 112.0h1v1h-1zM262.0 112.0h1v1h-1zM269.0 112.0h1v1h-1zM274.0 113.0h1v1h-1zM249.0 114.0h1v1h-1zM259.0 114.0h1v1h-1zM277.0 114.0h1v1h-1zM278.0 114.0h1v1h-1zM254.0 115.0h1v1h-1zM267.0 115.0h1v1h-1zM258.0 116.0h1v1h-1zM247.0 117.0h1v1h-1zM253.0 117.0h1v1h-1zM269.0 117.0h1v1h-1zM252.0 119.0h1v1h-1zM258.0 119.0h1v1h-1zM260.0 119.0h1v1h-1zM247.0 120.0h1v1h-1zM252.0 120.0h1v1h-1zM258.0 120.0h1v1h-1zM261.0 120.0h1v1h-1zM230.0 121.0h1v1h-1zM277.0 121.0h1v1h-1zM281.0 121.0h1v1h-1zM242.0 122.0h1v1h-1zM245.0 123.0h1v1h-1zM278.0 123.0h1v1h-1zM235.0 124.0h1v1h-1zM239.0 124.0h1v1h-1zM244.0 124.0h1v1h-1zM254.0 124.0h1v1h-1zM278.0 124.0h1v1h-1zM286.0 124.0h1v1h-1zM238.0 125.0h1v1h-1zM276.0 125.0h1v1h-1zM277.0 125.0h1v1h-1zM256.0 126.0h1v1h-1zM278.0 126.0h1v1h-1zM283.0 126.0h1v1h-1zM248.0 127.0h1v1h-1zM267.0 127.0h1v1h-1zM275.0 127.0h1v1h-1zM249.0 128.0h1v1h-1zM251.0 128.0h1v1h-1zM285.0 128.0h1v1h-1zM266.0 129.0h1v1h-1zM269.0 129.0h1v1h-1zM278.0 129.0h1v1h-1zM285.0 129.0h1v1h-1zM237.0 130.0h1v1h-1zM263.0 130.0h1v1h-1zM248.0 131.0h1v1h-1zM255.0 131.0h1v1h-1zM257.0 131.0h1v1h-1zM265.0 131.0h1v1h-1zM268.0 131.0h1v1h-1zM255.0 132.0h1v1h-1zM258.0 132.0h1v1h-1zM273.0 132.0h1v1h-1zM274.0 132.0h1v1h-1zM258.0 133.0h1v1h-1zM260.0 133.0h1v1h-1zM267.0 133.0h1v1h-1zM285.0 133.0h1v1h-1zM252.0 134.0h1v1h-1zM260.0 134.0h1v1h-1zM272.0 135.0h1v1h-1zM259.0 136.0h1v1h-1zM262.0 136.0h1v1h-1zM253.0 137.0h1v1h-1zM266.0 137.0h1v1h-1zM268.0 137.0h1v1h-1zM276.0 138.0h1v1h-1zM273.0 139.0h1v1h-1zM277.0 139.0h1v1h-1z"/>
<path fill="#f5d400" d="M249.0 86.0h1v1h-1zM250.0 86.0h1v1h-1zM252.0 86.0h1v1h-1zM259.0 88.0h1v1h-1zM239.0 89.0h1v1h-1zM251.0 89.0h1v1h-1zM255.0 89.0h1v1h-1zM239.0 90.0h1v1h-1zM244.0 90.0h1v1h-1zM245.0 90.0h1v1h-1zM247.0 90.0h1v1h-1zM245.0 91.0h1v1h-1zM256.0 93.0h1v1h-1zM246.0 94.0h1v1h-1zM251.0 94.0h1v1h-1zM252.0 94.0h1v1h-1zM254.0 94.0h1v1h-1zM256.0 94.0h1v1h-1zM260.0 94.0h1v1h-1zM261.0 94.0h1v1h-1zM242.0 96.0h1v1h-1zM243.0 96.0h1v1h-1zM249.0 96.0h1v1h-1zM256.0 96.0h1v1h-1zM259.0 96.0h1v1h-1zM241.0 97.0h1v1h-1zM259.0 98.0h1v1h-1zM237.0 99.0h1v1h-1zM240.0 99.0h1v1h-1zM251.0 99.0h1v1h-1zM258.0 99.0h1v1h-1zM243.0 100.0h1v1h-1zM249.0 100.0h1v1h-1zM262.0 100.0h1v1h-1zM239.0 101.0h1v1h-1zM244.0 101.0h1v1h-1zM250.0 101.0h1v1h-1zM259.0 101.0h1v1h-1zM252.0 102.0h1v1h-1zM257.0 102.0h1v1h-1zM266.0 102.0h1v1h-1zM248.0 103.0h1v1h-1zM257.0 103.0h1v1h-1zM241.0 104.0h1v1h-1zM254.0 104.0h1v1h-1zM258.0 104.0h1v1h-1zM259.0 104.0h1v1h-1zM262.0 104.0h1v1h-1zM270.0 104.0h1v1h-1zM242.0 105.0h1v1h-1zM243.0 105.0h1v1h-1zM262.0 105.0h1v1h-1zM246.0 106.0h1v1h-1zM261.0 106.0h1v1h-1zM269.0 106.0h1v1h-1zM274.0 106.0h1v1h-1zM236.0 107.0h1v1h-1zM242.0 107.0h1v1h-1zM255.0 107.0h1v1h-1zM256.0 107.0h1v1h-1zM236.0 108.0h1v1h-1zM244.0 108.0h1v1h-1zM248.0 108.0h1v1h-1zM249.0 108.0h1v1h-1zM252.0 108.0h1v1h-1zM236.0 109.0h1v1h-1zM259.0 109.0h1v1h-1zM260.0 109.0h1v1h-1zM261.0 109.0h1v1h-1zM232.0 110.0h1v1h-1zM235.0 110.0h1v1h-1zM238.0 110.0h1v1h-1zM245.0 110.0h1v1h-1zM259.0 110.0h1v1h-1zM231.0 111.0h1v1h-1zM236.0 111.0h1v1h-1zM246.0 111.0h1v1h-1zM247.0 111.0h1v1h-1zM252.0 111.0h1v1h-1zM227.0 112.0h1v1h-1zM230.0 112.0h1v1h-1zM232.0 112.0h1v1h-1zM236.0 112.0h1v1h-1zM259.0 112.0h1v1h-1zM265.0 112.0h1v1h-1zM227.0 113.0h1v1h-1zM236.0 113.0h1v1h-1zM238.0 113.0h1v1h-1zM242.0 113.0h1v1h-1zM248.0 113.0h1v1h-1zM263.0 113.0h1v1h-1zM226.0 114.0h1v1h-1zM239.0 114.0h1v1h-1zM241.0 114.0h1v1h-1zM244.0 114.0h1v1h-1zM245.0 114.0h1v1h-1zM258.0 114.0h1v1h-1zM279.0 114.0h1v1h-1zM231.0 115.0h1v1h-1zM240.0 115.0h1v1h-1zM244.0 115.0h1v1h-1zM256.0 115.0h1v1h-1zM268.0 115.0h1v1h-1zM271.0 115.0h1v1h-1zM279.0 115.0h1v1h-1zM282.0 115.0h1v1h-1zM224.0 116.0h1v1h-1zM227.0 116.0h1v1h-1zM228.0 116.0h1v1h-1zM231.0 116.0h1v1h-1zM233.0 116.0h1v1h-1zM235.0 116.0h1v1h-1zM236.0 116.0h1v1h-1zM238.0 116.0h1v1h-1zM241.0 116.0h1v1h-1zM244.0 116.0h1v1h-1zM260.0 116.0h1v1h-1zM271.0 116.0h1v1h-1zM224.0 117.0h1v1h-1zM225.0 117.0h1v1h-1zM226.0 117.0h1v1h-1zM230.0 117.0h1v1h-1zM236.0 117.0h1v1h-1zM245.0 117.0h1v1h-1zM248.0 117.0h1v1h-1zM252.0 117.0h1v1h-1zM255.0 117.0h1v1h-1zM268.0 117.0h1v1h-1zM285.0 117.0h1v1h-1zM224.0 118.0h1v1h-1zM229.0 118.0h1v1h-1zM230.0 118.0h1v1h-1zM236.0 118.0h1v1h-1zM238.0 118.0h1v1h-1zM241.0 118.0h1v1h-1zM245.0 118.0h1v1h-1zM257.0 118.0h1v1h-1zM262.0 118.0h1v1h-1zM263.0 118.0h1v1h-1zM227.0 119.0h1v1h-1zM233.0 119.0h1v1h-1zM234.0 119.0h1v1h-1zM239.0 119.0h1v1h-1zM242.0 119.0h1v1h-1zM244.0 119.0h1v1h-1zM249.0 119.0h1v1h-1zM264.0 119.0h1v1h-1zM222.0 120.0h1v1h-1zM225.0 120.0h1v1h-1zM233.0 120.0h1v1h-1zM234.0 120.0h1v1h-1zM235.0 120.0h1v1h-1zM237.0 120.0h1v1h-1zM240.0 120.0h1v1h-1zM241.0 120.0h1v1h-1zM242.0 120.0h1v1h-1zM243.0 120.0h1v1h-1zM250.0 120.0h1v1h-1zM260.0 120.0h1v1h-1zM264.0 120.0h1v1h-1zM225.0 121.0h1v1h-1zM226.0 121.0h1v1h-1zM231.0 121.0h1v1h-1zM234.0 121.0h1v1h-1zM238.0 121.0h1v1h-1zM245.0 121.0h1v1h-1zM248.0 121.0h1v1h-1zM254.0 121.0h1v1h-1zM255.0 121.0h1v1h-1zM280.0 121.0h1v1h-1zM222.0 122.0h1v1h-1zM227.0 122.0h1v1h-1zM233.0 122.0h1v1h-1zM235.0 122.0h1v1h-1zM239.0 122.0h1v1h-1zM240.0 122.0h1v1h-1zM260.0 122.0h1v1h-1zM263.0 122.0h1v1h-1zM279.0 122.0h1v1h-1zM228.0 123.0h1v1h-1zM231.0 123.0h1v1h-1zM232.0 123.0h1v1h-1zM234.0 123.0h1v1h-1zM235.0 123.0h1v1h-1zM238.0 123.0h1v1h-1zM240.0 123.0h1v1h-1zM241.0 123.0h1v1h-1zM242.0 123.0h1v1h-1zM253.0 123.0h1v1h-1zM260.0 123.0h1v1h-1zM288.0 123.0h1v1h-1zM289.0 123.0h1v1h-1zM225.0 124.0h1v1h-1zM226.0 124.0h1v1h-1zM230.0 124.0h1v1h-1zM231.0 124.0h1v1h-1zM234.0 124.0h1v1h-1zM237.0 124.0h1v1h-1zM240.0 124.0h1v1h-1zM249.0 124.0h1v1h-1zM260.0 124.0h1v1h-1zM268.0 124.0h1v1h-1zM276.0 124.0h1v1h-1zM283.0 124.0h1v1h-1zM224.0 125.0h1v1h-1zM237.0 125.0h1v1h-1zM239.0 125.0h1v1h-1zM241.0 125.0h1v1h-1zM246.0 125.0h1v1h-1zM247.0 125.0h1v1h-1zM250.0 125.0h1v1h-1zM260.0 125.0h1v1h-1zM261.0 125.0h1v1h-1zM265.0 125.0h1v1h-1zM288.0 125.0h1v1h-1zM230.0 126.0h1v1h-1zM232.0 126.0h1v1h-1zM234.0 126.0h1v1h-1zM236.0 126.0h1v1h-1zM243.0 126.0h1v1h-1zM245.0 126.0h1v1h-1zM246.0 126.0h1v1h-1zM247.0 126.0h1v1h-1zM257.0 126.0h1v1h-1zM262.0 126.0h1v1h-1zM263.0 126.0h1v1h-1zM282.0 126.0h1v1h-1zM225.0 127.0h1v1h-1zM228.0 127.0h1v1h-1zM230.0 127.0h1v1h-1zM236.0 127.0h1v1h-1zM243.0 127.0h1v1h-1zM251.0 127.0h1v1h-1zM253.0 127.0h1v1h-1zM257.0 127.0h1v1h-1zM260.0 127.0h1v1h-1zM287.0 127.0h1v1h-1zM227.0 128.0h1v1h-1zM240.0 128.0h1v1h-1zM247.0 128.0h1v1h-1zM248.0 128.0h1v1h-1zM227.0 129.0h1v1h-1zM231.0 129.0h1v1h-1zM235.0 129.0h1v1h-1zM237.0 129.0h1v1h-1zM241.0 129.0h1v1h-1zM243.0 129.0h1v1h-1zM251.0 129.0h1v1h-1zM252.0 129.0h1v1h-1zM267.0 129.0h1v1h-1zM229.0 130.0h1v1h-1zM235.0 130.0h1v1h-1zM236.0 130.0h1v1h-1zM242.0 130.0h1v1h-1zM243.0 130.0h1v1h-1zM244.0 130.0h1v1h-1zM251.0 130.0h1v1h-1zM252.0 130.0h1v1h-1zM254.0 130.0h1v1h-1zM260.0 130.0h1v1h-1zM269.0 130.0h1v1h-1zM231.0 131.0h1v1h-1zM235.0 131.0h1v1h-1zM239.0 131.0h1v1h-1zM240.0 131.0h1v1h-1zM242.0 131.0h1v1h-1zM243.0 131.0h1v1h-1zM247.0 131.0h1v1h-1zM250.0 131.0h1v1h-1zM254.0 131.0h1v1h-1zM269.0 131.0h1v1h-1zM273.0 131.0h1v1h-1zM281.0 131.0h1v1h-1zM287.0 131.0h1v1h-1zM237.0 132.0h1v1h-1zM238.0 132.0h1v1h-1zM241.0 132.0h1v1h-1zM242.0 132.0h1v1h-1zM251.0 132.0h1v1h-1zM264.0 132.0h1v1h-1zM282.0 133.0h1v1h-1zM255.0 134.0h1v1h-1zM257.0 134.0h1v1h-1zM259.0 134.0h1v1h-1zM268.0 134.0h1v1h-1zM270.0 134.0h1v1h-1zM255.0 135.0h1v1h-1zM280.0 135.0h1v1h-1zM265.0 136.0h1v1h-1zM277.0 136.0h1v1h-1zM262.0 137.0h1v1h-1zM259.0 138.0h1v1h-1zM262.0 138.0h1v1h-1zM264.0 138.0h1v1h-1zM259.0 142.0h1v1h-1zM264.0 143.0h1v1h-1zM261.0 144.0h1v1h-1zM258.0 145.0h1v1h-1zM260.0 148.0h1v1h-1zM260.0 155.0h1v1h-1z"/>
<path fill="#4a78bf" d="M254.0 86.0h1v1h-1zM255.0 86.0h1v1h-1zM241.0 90.0h1v1h-1zM253.0 90.0h1v1h-1zM255.0 90.0h1v1h-1zM244.0 91.0h1v1h-1zM243.0 92.0h1v1h-1zM246.0 92.0h1v1h-1zM261.0 92.0h1v1h-1zM250.0 94.0h1v1h-1zM257.0 94.0h1v1h-1zM258.0 94.0h1v1h-1zM260.0 95.0h1v1h-1zM255.0 96.0h1v1h-1zM258.0 96.0h1v1h-1zM243.0 97.0h1v1h-1zM244.0 97.0h1v1h-1zM244.0 98.0h1v1h-1zM249.0 98.0h1v1h-1zM236.0 99.0h1v1h-1zM243.0 99.0h1v1h-1zM256.0 99.0h1v1h-1zM247.0 100.0h1v1h-1zM241.0 101.0h1v1h-1zM249.0 101.0h1v1h-1zM255.0 101.0h1v1h-1zM264.0 101.0h1v1h-1zM250.0 102.0h1v1h-1zM259.0 102.0h1v1h-1zM245.0 103.0h1v1h-1zM247.0 103.0h1v1h-1zM251.0 103.0h1v1h-1zM256.0 103.0h1v1h-1zM251.0 105.0h1v1h-1zM260.0 105.0h1v1h-1zM235.0 106.0h1v1h-1zM254.0 106.0h1v1h-1zM234.0 107.0h1v1h-1zM248.0 107.0h1v1h-1zM239.0 108.0h1v1h-1zM246.0 108.0h1v1h-1zM264.0 108.0h1v1h-1zM249.0 109.0h1v1h-1zM253.0 109.0h1v1h-1zM269.0 109.0h1v1h-1zM242.0 110.0h1v1h-1zM250.0 110.0h1v1h-1zM253.0 111.0h1v1h-1zM239.0 112.0h1v1h-1zM241.0 112.0h1v1h-1zM246.0 112.0h1v1h-1zM274.0 112.0h1v1h-1zM230.0 113.0h1v1h-1zM235.0 113.0h1v1h-1zM279.0 113.0h1v1h-1zM255.0 114.0h1v1h-1zM256.0 114.0h1v1h-1zM261.0 114.0h1v1h-1zM272.0 114.0h1v1h-1zM228.0 115.0h1v1h-1zM257.0 115.0h1v1h-1zM249.0 116.0h1v1h-1zM251.0 117.0h1v1h-1zM267.0 117.0h1v1h-1zM274.0 117.0h1v1h-1zM277.0 117.0h1v1h-1zM283.0 117.0h1v1h-1zM243.0 118.0h1v1h-1zM249.0 118.0h1v1h-1zM267.0 118.0h1v1h-1zM279.0 118.0h1v1h-1zM283.0 118.0h1v1h-1zM238.0 119.0h1v1h-1zM241.0 119.0h1v1h-1zM262.0 119.0h1v1h-1zM270.0 120.0h1v1h-1zM274.0 120.0h1v1h-1zM237.0 121.0h1v1h-1zM266.0 121.0h1v1h-1zM268.0 121.0h1v1h-1zM284.0 121.0h1v1h-1zM237.0 122.0h1v1h-1zM262.0 122.0h1v1h-1zM276.0 122.0h1v1h-1zM280.0 122.0h1v1h-1zM225.0 123.0h1v1h-1zM268.0 123.0h1v1h-1zM272.0 123.0h1v1h-1zM279.0 123.0h1v1h-1zM226.0 125.0h1v1h-1zM246.0 127.0h1v1h-1zM259.0 127.0h1v1h-1zM273.0 127.0h1v1h-1zM232.0 128.0h1v1h-1zM274.0 128.0h1v1h-1zM283.0 128.0h1v1h-1zM286.0 128.0h1v1h-1zM238.0 129.0h1v1h-1zM247.0 129.0h1v1h-1zM253.0 129.0h1v1h-1zM256.0 129.0h1v1h-1zM272.0 129.0h1v1h-1zM259.0 130.0h1v1h-1zM238.0 131.0h1v1h-1zM244.0 131.0h1v1h-1zM245.0 131.0h1v1h-1zM251.0 131.0h1v1h-1zM277.0 131.0h1v1h-1zM282.0 131.0h1v1h-1zM254.0 132.0h1v1h-1zM263.0 132.0h1v1h-1zM266.0 132.0h1v1h-1zM268.0 133.0h1v1h-1zM252.0 135.0h1v1h-1zM282.0 135.0h1v1h-1zM254.0 136.0h1v1h-1zM258.0 136.0h1v1h-1zM255.0 137.0h1v1h-1zM272.0 137.0h1v1h-1zM276.0 137.0h1v1h-1zM278.0 137.0h1v1h-1zM280.0 138.0h1v1h-1z"/>
<path fill="#7d3c98" d="M240.0 87.0h1v1h-1zM243.0 87.0h1v1h-1zM244.0 88.0h1v1h-1zM250.0 88.0h1v1h-1zM257.0 88.0h1v1h-1zM254.0 89.0h1v1h-1zM240.0 91.0h1v1h-1zM254.0 91.0h1v1h-1zM245.0 92.0h1v1h-1zM248.0 92.0h1v1h-1zM249.0 92.0h1v1h-1zM240.0 94.0h1v1h-1zM259.0 94.0h1v1h-1zM238.0 95.0h1v1h-1zM249.0 95.0h1v1h-1zM241.0 96.0h1v1h-1zM248.0 96.0h1v1h-1zM252.0 96.0h1v1h-1zM249.0 97.0h1v1h-1zM258.0 97.0h1v1h-1zM243.0 98.0h1v1h-1zM246.0 98.0h1v1h-1zM252.0 98.0h1v1h-1zM252.0 99.0h1v1h-1zM252.0 100.0h1v1h-1zM255.0 100.0h1v1h-1zM261.0 100.0h1v1h-1zM238.0 101.0h1v1h-1zM245.0 101.0h1v1h-1zM256.0 101.0h1v1h-1zM242.0 102.0h1v1h-1zM247.0 102.0h1v1h-1zM249.0 102.0h1v1h-1zM242.0 103.0h1v1h-1zM254.0 103.0h1v1h-1zM236.0 104.0h1v1h-1zM239.0 104.0h1v1h-1zM241.0 105.0h1v1h-1zM254.0 105.0h1v1h-1zM259.0 105.0h1v1h-1zM260.0 106.0h1v1h-1zM273.0 106.0h1v1h-1zM237.0 107.0h1v1h-1zM250.0 107.0h1v1h-1zM252.0 107.0h1v1h-1zM263.0 107.0h1v1h-1zM253.0 108.0h1v1h-1zM255.0 108.0h1v1h-1zM248.0 109.0h1v1h-1zM251.0 109.0h1v1h-1zM255.0 109.0h1v1h-1zM258.0 109.0h1v1h-1zM263.0 109.0h1v1h-1zM266.0 109.0h1v1h-1zM273.0 109.0h1v1h-1zM233.0 110.0h1v1h-1zM248.0 110.0h1v1h-1zM251.0 110.0h1v1h-1zM232.0 111.0h1v1h-1zM238.0 111.0h1v1h-1zM254.0 111.0h1v1h-1zM270.0 111.0h1v1h-1zM251.0 113.0h1v1h-1zM258.0 113.0h1v1h-1zM271.0 113.0h1v1h-1zM236.0 114.0h1v1h-1zM253.0 114.0h1v1h-1zM257.0 114.0h1v1h-1zM269.0 114.0h1v1h-1zM276.0 114.0h1v1h-1zM235.0 115.0h1v1h-1zM230.0 116.0h1v1h-1zM248.0 116.0h1v1h-1zM251.0 116.0h1v1h-1zM253.0 116.0h1v1h-1zM263.0 116.0h1v1h-1zM241.0 117.0h1v1h-1zM227.0 118.0h1v1h-1zM247.0 118.0h1v1h-1zM261.0 118.0h1v1h-1zM224.0 119.0h1v1h-1zM245.0 119.0h1v1h-1zM247.0 119.0h1v1h-1zM263.0 119.0h1v1h-1zM265.0 119.0h1v1h-1zM285.0 119.0h1v1h-1zM286.0 119.0h1v1h-1zM228.0 120.0h1v1h-1zM230.0 120.0h1v1h-1zM231.0 120.0h1v1h-1zM246.0 120.0h1v1h-1zM248.0 120.0h1v1h-1zM275.0 120.0h1v1h-1zM236.0 121.0h1v1h-1zM240.0 121.0h1v1h-1zM247.0 121.0h1v1h-1zM262.0 121.0h1v1h-1zM263.0 121.0h1v1h-1zM274.0 121.0h1v1h-1zM275.0 121.0h1v1h-1zM232.0 122.0h1v1h-1zM248.0 122.0h1v1h-1zM269.0 122.0h1v1h-1zM246.0 123.0h1v1h-1zM255.0 123.0h1v1h-1zM257.0 123.0h1v1h-1zM281.0 123.0h1v1h-1zM242.0 124.0h1v1h-1zM256.0 124.0h1v1h-1zM280.0 124.0h1v1h-1zM233.0 125.0h1v1h-1zM242.0 125.0h1v1h-1zM249.0 125.0h1v1h-1zM272.0 125.0h1v1h-1zM266.0 126.0h1v1h-1zM288.0 126.0h1v1h-1zM226.0 127.0h1v1h-1zM256.0 127.0h1v1h-1zM268.0 127.0h1v1h-1zM277.0 127.0h1v1h-1zM253.0 128.0h1v1h-1zM259.0 128.0h1v1h-1zM266.0 128.0h1v1h-1zM288.0 128.0h1v1h-1zM244.0 129.0h1v1h-1zM250.0 129.0h1v1h-1zM255.0 129.0h1v1h-1zM261.0 129.0h1v1h-1zM264.0 129.0h1v1h-1zM270.0 129.0h1v1h-1zM281.0 129.0h1v1h-1zM288.0 129.0h1v1h-1zM233.0 130.0h1v1h-1zM238.0 130.0h1v1h-1zM272.0 130.0h1v1h-1zM277.0 130.0h1v1h-1zM253.0 131.0h1v1h-1zM260.0 131.0h1v1h-1zM266.0 131.0h1v1h-1zM276.0 131.0h1v1h-1zM285.0 131.0h1v1h-1zM239.0 132.0h1v1h-1zM263.0 133.0h1v1h-1zM280.0 133.0h1v1h-1zM281.0 133.0h1v1h-1zM267.0 134.0h1v1h-1zM274.0 134.0h1v1h-1zM254.0 135.0h1v1h-1zM257.0 135.0h1v1h-1zM267.0 135.0h1v1h-1zM271.0 135.0h1v1h-1zM278.0 135.0h1v1h-1zM286.0 135.0h1v1h-1zM280.0 136.0h1v1h-1zM261.0 137.0h1v1h-1zM280.0 137.0h1v1h-1zM270.0 138.0h1v1h-1zM279.0 139.0h1v1h-1z"/>
<path fill="#c40f1c" d="M241.0 87.0h1v1h-1zM248.0 88.0h1v1h-1zM249.0 88.0h1v1h-1zM256.0 88.0h1v1h-1zM240.0 89.0h1v1h-1zM250.0 89.0h1v1h-1zM258.0 89.0h1v1h-1zM259.0 89.0h1v1h-1zM256.0 90.0h1v1h-1zM239.0 91.0h1v1h-1zM259.0 91.0h1v1h-1zM246.0 93.0h1v1h-1zM261.0 93.0h1v1h-1zM245.0 94.0h1v1h-1zM249.0 94.0h1v1h-1zM239.0 95.0h1v1h-1zM240.0 95.0h1v1h-1zM245.0 96.0h1v1h-1zM236.0 97.0h1v1h-1zM238.0 97.0h1v1h-1zM240.0 97.0h1v1h-1zM256.0 97.0h1v1h-1zM259.0 97.0h1v1h-1zM248.0 98.0h1v1h-1zM242.0 99.0h1v1h-1zM255.0 99.0h1v1h-1zM236.0 100.0h1v1h-1zM251.0 100.0h1v1h-1zM237.0 101.0h1v1h-1zM258.0 101.0h1v1h-1zM245.0 102.0h1v1h-1zM255.0 102.0h1v1h-1zM250.0 105.0h1v1h-1zM256.0 105.0h1v1h-1zM249.0 106.0h1v1h-1zM266.0 106.0h1v1h-1zM272.0 106.0h1v1h-1zM264.0 107.0h1v1h-1zM242.0 108.0h1v1h-1zM262.0 108.0h1v1h-1zM263.0 108.0h1v1h-1zM268.0 108.0h1v1h-1zM273.0 108.0h1v1h-1zM234.0 109.0h1v1h-1zM264.0 109.0h1v1h-1zM237.0 110.0h1v1h-1zM273.0 110.0h1v1h-1zM241.0 111.0h1v1h-1zM243.0 111.0h1v1h-1zM244.0 111.0h1v1h-1zM249.0 111.0h1v1h-1zM255.0 111.0h1v1h-1zM268.0 111.0h1v1h-1zM233.0 112.0h1v1h-1zM238.0 112.0h1v1h-1zM243.0 112.0h1v1h-1zM261.0 112.0h1v1h-1zM263.0 112.0h1v1h-1zM272.0 112.0h1v1h-1zM231.0 113.0h1v1h-1zM233.0 113.0h1v1h-1zM240.0 113.0h1v1h-1zM243.0 113.0h1v1h-1zM244.0 113.0h1v1h-1zM252.0 113.0h1v1h-1zM256.0 113.0h1v1h-1zM262.0 113.0h1v1h-1zM265.0 113.0h1v1h-1zM230.0 114.0h1v1h-1zM233.0 114.0h1v1h-1zM240.0 114.0h1v1h-1zM268.0 114.0h1v1h-1zM229.0 115.0h1v1h-1zM230.0 115.0h1v1h-1zM241.0 115.0h1v1h-1zM248.0 115.0h1v1h-1zM261.0 115.0h1v1h-1zM275.0 115.0h1v1h-1zM229.0 116.0h1v1h-1zM234.0 116.0h1v1h-1zM245.0 116.0h1v1h-1zM279.0 116.0h1v1h-1zM237.0 117.0h1v1h-1zM250.0 117.0h1v1h-1zM256.0 117.0h1v1h-1zM271.0 117.0h1v1h-1zM232.0 118.0h1v1h-1zM284.0 118.0h1v1h-1zM223.0 119.0h1v1h-1zM230.0 119.0h1v1h-1zM237.0 119.0h1v1h-1zM250.0 119.0h1v1h-1zM259.0 119.0h1v1h-1zM268.0 119.0h1v1h-1zM270.0 119.0h1v1h-1zM276.0 119.0h1v1h-1zM244.0 120.0h1v1h-1zM253.0 120.0h1v1h-1zM277.0 120.0h1v1h-1zM223.0 121.0h1v1h-1zM229.0 121.0h1v1h-1zM233.0 121.0h1v1h-1zM243.0 121.0h1v1h-1zM244.0 121.0h1v1h-1zM250.0 121.0h1v1h-1zM253.0 121.0h1v1h-1zM265.0 121.0h1v1h-1zM229.0 122.0h1v1h-1zM230.0 122.0h1v1h-1zM234.0 122.0h1v1h-1zM238.0 122.0h1v1h-1zM241.0 122.0h1v1h-1zM246.0 122.0h1v1h-1zM247.0 122.0h1v1h-1zM278.0 122.0h1v1h-1zM284.0 122.0h1v1h-1zM249.0 123.0h1v1h-1zM258.0 123.0h1v1h-1zM274.0 123.0h1v1h-1zM223.0 124.0h1v1h-1zM227.0 124.0h1v1h-1zM232.0 124.0h1v1h-1zM247.0 124.0h1v1h-1zM252.0 124.0h1v1h-1zM261.0 124.0h1v1h-1zM264.0 124.0h1v1h-1zM235.0 125.0h1v1h-1zM236.0 125.0h1v1h-1zM252.0 125.0h1v1h-1zM256.0 125.0h1v1h-1zM259.0 125.0h1v1h-1zM278.0 125.0h1v1h-1zM237.0 126.0h1v1h-1zM239.0 126.0h1v1h-1zM240.0 126.0h1v1h-1zM241.0 126.0h1v1h-1zM244.0 126.0h1v1h-1zM255.0 126.0h1v1h-1zM258.0 126.0h1v1h-1zM264.0 126.0h1v1h-1zM267.0 126.0h1v1h-1zM227.0 127.0h1v1h-1zM233.0 127.0h1v1h-1zM238.0 127.0h1v1h-1zM244.0 127.0h1v1h-1zM262.0 127.0h1v1h-1zM265.0 127.0h1v1h-1zM270.0 127.0h1v1h-1zM272.0 127.0h1v1h-1zM281.0 127.0h1v1h-1zM290.0 127.0h1v1h-1zM226.0 128.0h1v1h-1zM233.0 128.0h1v1h-1zM239.0 128.0h1v1h-1zM250.0 128.0h1v1h-1zM257.0 128.0h1v1h-1zM258.0 128.0h1v1h-1zM260.0 128.0h1v1h-1zM249.0 129.0h1v1h-1zM254.0 129.0h1v1h-1zM260.0 129.0h1v1h-1zM263.0 129.0h1v1h-1zM228.0 130.0h1v1h-1zM247.0 130.0h1v1h-1zM248.0 130.0h1v1h-1zM249.0 130.0h1v1h-1zM250.0 130.0h1v1h-1zM256.0 130.0h1v1h-1zM261.0 130.0h1v1h-1zM262.0 130.0h1v1h-1zM264.0 130.0h1v1h-1zM273.0 130.0h1v1h-1zM252.0 131.0h1v1h-1zM256.0 131.0h1v1h-1zM258.0 131.0h1v1h-1zM264.0 131.0h1v1h-1zM275.0 131.0h1v1h-1zM280.0 131.0h1v1h-1zM240.0 132.0h1v1h-1zM260.0 132.0h1v1h-1zM280.0 132.0h1v1h-1zM252.0 133.0h1v1h-1zM255.0 133.0h1v1h-1zM261.0 133.0h1v1h-1zM262.0 133.0h1v1h-1zM264.0 133.0h1v1h-1zM273.0 133.0h1v1h-1zM254.0 134.0h1v1h-1zM275.0 134.0h1v1h-1zM284.0 134.0h1v1h-1zM253.0 135.0h1v1h-1zM260.0 135.0h1v1h-1zM261.0 135.0h1v1h-1zM262.0 135.0h1v1h-1zM252.0 136.0h1v1h-1zM261.0 136.0h1v1h-1zM281.0 137.0h1v1h-1zM255.0 138.0h1v1h-1zM269.0 138.0h1v1h-1zM278.0 138.0h1v1h-1zM254.0 139.0h1v1h-1zM255.0 139.0h1v1h-1zM256.0 139.0h1v1h-1zM258.0 139.0h1v1h-1zM259.0 139.0h1v1h-1zM260.0 139.0h1v1h-1zM261.0 139.0h1v1h-1zM262.0 139.0h1v1h-1zM263.0 139.0h1v1h-1zM264.0 139.0h1v1h-1zM265.0 139.0h1v1h-1zM256.0 140.0h1v1h-1zM257.0 140.0h1v1h-1zM258.0 140.0h1v1h-1zM260.0 140.0h1v1h-1zM261.0 140.0h1v1h-1zM262.0 140.0h1v1h-1zM263.0 140.0h1v1h-1zM264.0 140.0h1v1h-1zM265.0 140.0h1v1h-1zM266.0 140.0h1v1h-1zM257.0 141.0h1v1h-1zM258.0 141.0h1v1h-1zM259.0 141.0h1v1h-1zM260.0 141.0h1v1h-1zM261.0 141.0h1v1h-1zM262.0 141.0h1v1h-1zM263.0 141.0h1v1h-1zM264.0 141.0h1v1h-1zM265.0 141.0h1v1h-1zM257.0 142.0h1v1h-1zM260.0 142.0h1v1h-1zM261.0 142.0h1v1h-1zM262.0 142.0h1v1h-1zM263.0 142.0h1v1h-1zM264.0 142.0h1v1h-1zM257.0 143.0h1v1h-1zM258.0 143.0h1v1h-1zM259.0 143.0h1v1h-1zM261.0 143.0h1v1h-1zM262.0 143.0h1v1h-1zM263.0 143.0h1v1h-1zM258.0 144.0h1v1h-1zM259.0 144.0h1v1h-1zM260.0 144.0h1v1h-1zM262.0 144.0h1v1h-1zM263.0 144.0h1v1h-1zM259.0 145.0h1v1h-1zM260.0 145.0h1v1h-1zM261.0 145.0h1v1h-1zM258.0 146.0h1v1h-1zM259.0 146.0h1v1h-1zM260.0 146.0h1v1h-1zM261.0 146.0h1v1h-1zM262.0 146.0h1v1h-1zM259.0 147.0h1v1h-1zM260.0 147.0h1v1h-1zM261.0 147.0h1v1h-1zM262.0 147.0h1v1h-1zM261.0 148.0h1v1h-1zM262.0 148.0h1v1h-1zM259.0 149.0h1v1h-1zM260.0 149.0h1v1h-1zM261.0 149.0h1v1h-1zM260.0 150.0h1v1h-1zM261.0 150.0h1v1h-1zM262.0 150.0h1v1h-1zM259.0 151.0h1v1h-1zM260.0 151.0h1v1h-1zM261.0 151.0h1v1h-1zM262.0 151.0h1v1h-1zM259.0 152.0h1v1h-1zM260.0 152.0h1v1h-1zM261.0 152.0h1v1h-1zM262.0 152.0h1v1h-1zM259.0 153.0h1v1h-1zM260.0 153.0h1v1h-1zM262.0 153.0h1v1h-1zM259.0 154.0h1v1h-1zM260.0 154.0h1v1h-1zM261.0 154.0h1v1h-1zM262.0 154.0h1v1h-1zM259.0 155.0h1v1h-1zM261.0 155.0h1v1h-1zM262.0 155.0h1v1h-1zM259.0 156.0h1v1h-1zM260.0 156.0h1v1h-1zM262.0 156.0h1v1h-1zM260.0 157.0h1v1h-1zM261.0 157.0h1v1h-1zM262.0 157.0h1v1h-1z"/>
<path fill="#e07b1c" d="M243.0 88.0h1v1h-1zM243.0 89.0h1v1h-1zM253.0 89.0h1v1h-1zM248.0 90.0h1v1h-1zM238.0 91.0h1v1h-1zM247.0 91.0h1v1h-1zM248.0 91.0h1v1h-1zM250.0 92.0h1v1h-1zM252.0 92.0h1v1h-1zM253.0 92.0h1v1h-1zM259.0 92.0h1v1h-1zM258.0 93.0h1v1h-1zM255.0 94.0h1v1h-1zM244.0 95.0h1v1h-1zM254.0 95.0h1v1h-1zM251.0 96.0h1v1h-1zM253.0 96.0h1v1h-1zM251.0 97.0h1v1h-1zM254.0 97.0h1v1h-1zM257.0 97.0h1v1h-1zM248.0 99.0h1v1h-1zM259.0 99.0h1v1h-1zM261.0 99.0h1v1h-1zM264.0 99.0h1v1h-1zM241.0 100.0h1v1h-1zM264.0 100.0h1v1h-1zM236.0 101.0h1v1h-1zM246.0 101.0h1v1h-1zM258.0 102.0h1v1h-1zM252.0 103.0h1v1h-1zM259.0 103.0h1v1h-1zM260.0 103.0h1v1h-1zM250.0 104.0h1v1h-1zM236.0 105.0h1v1h-1zM255.0 105.0h1v1h-1zM245.0 106.0h1v1h-1zM251.0 106.0h1v1h-1zM254.0 107.0h1v1h-1zM260.0 107.0h1v1h-1zM267.0 107.0h1v1h-1zM270.0 107.0h1v1h-1zM272.0 107.0h1v1h-1zM251.0 108.0h1v1h-1zM254.0 108.0h1v1h-1zM265.0 108.0h1v1h-1zM233.0 109.0h1v1h-1zM235.0 109.0h1v1h-1zM237.0 109.0h1v1h-1zM238.0 109.0h1v1h-1zM239.0 109.0h1v1h-1zM240.0 109.0h1v1h-1zM242.0 109.0h1v1h-1zM243.0 109.0h1v1h-1zM245.0 109.0h1v1h-1zM257.0 109.0h1v1h-1zM236.0 110.0h1v1h-1zM239.0 110.0h1v1h-1zM240.0 110.0h1v1h-1zM241.0 110.0h1v1h-1zM243.0 110.0h1v1h-1zM244.0 110.0h1v1h-1zM249.0 110.0h1v1h-1zM257.0 110.0h1v1h-1zM258.0 110.0h1v1h-1zM230.0 111.0h1v1h-1zM233.0 111.0h1v1h-1zM234.0 111.0h1v1h-1zM235.0 111.0h1v1h-1zM237.0 111.0h1v1h-1zM239.0 111.0h1v1h-1zM240.0 111.0h1v1h-1zM242.0 111.0h1v1h-1zM245.0 111.0h1v1h-1zM257.0 111.0h1v1h-1zM228.0 112.0h1v1h-1zM229.0 112.0h1v1h-1zM234.0 112.0h1v1h-1zM235.0 112.0h1v1h-1zM237.0 112.0h1v1h-1zM240.0 112.0h1v1h-1zM242.0 112.0h1v1h-1zM244.0 112.0h1v1h-1zM247.0 112.0h1v1h-1zM249.0 112.0h1v1h-1zM250.0 112.0h1v1h-1zM253.0 112.0h1v1h-1zM277.0 112.0h1v1h-1zM226.0 113.0h1v1h-1zM228.0 113.0h1v1h-1zM232.0 113.0h1v1h-1zM234.0 113.0h1v1h-1zM237.0 113.0h1v1h-1zM239.0 113.0h1v1h-1zM241.0 113.0h1v1h-1zM245.0 113.0h1v1h-1zM246.0 113.0h1v1h-1zM249.0 113.0h1v1h-1zM253.0 113.0h1v1h-1zM257.0 113.0h1v1h-1zM260.0 113.0h1v1h-1zM267.0 113.0h1v1h-1zM225.0 114.0h1v1h-1zM227.0 114.0h1v1h-1zM228.0 114.0h1v1h-1zM229.0 114.0h1v1h-1zM231.0 114.0h1v1h-1zM235.0 114.0h1v1h-1zM237.0 114.0h1v1h-1zM238.0 114.0h1v1h-1zM247.0 114.0h1v1h-1zM248.0 114.0h1v1h-1zM252.0 114.0h1v1h-1zM254.0 114.0h1v1h-1zM263.0 114.0h1v1h-1zM264.0 114.0h1v1h-1zM225.0 115.0h1v1h-1zM226.0 115.0h1v1h-1zM227.0 115.0h1v1h-1zM232.0 115.0h1v1h-1zM234.0 115.0h1v1h-1zM237.0 115.0h1v1h-1zM238.0 115.0h1v1h-1zM239.0 115.0h1v1h-1zM243.0 115.0h1v1h-1zM247.0 115.0h1v1h-1zM249.0 115.0h1v1h-1zM250.0 115.0h1v1h-1zM251.0 115.0h1v1h-1zM255.0 115.0h1v1h-1zM258.0 115.0h1v1h-1zM260.0 115.0h1v1h-1zM263.0 115.0h1v1h-1zM264.0 115.0h1v1h-1zM225.0 116.0h1v1h-1zM226.0 116.0h1v1h-1zM237.0 116.0h1v1h-1zM240.0 116.0h1v1h-1zM242.0 116.0h1v1h-1zM243.0 116.0h1v1h-1zM246.0 116.0h1v1h-1zM247.0 116.0h1v1h-1zM252.0 116.0h1v1h-1zM256.0 116.0h1v1h-1zM261.0 116.0h1v1h-1zM265.0 116.0h1v1h-1zM274.0 116.0h1v1h-1zM223.0 117.0h1v1h-1zM227.0 117.0h1v1h-1zM228.0 117.0h1v1h-1zM229.0 117.0h1v1h-1zM232.0 117.0h1v1h-1zM233.0 117.0h1v1h-1zM234.0 117.0h1v1h-1zM238.0 117.0h1v1h-1zM239.0 117.0h1v1h-1zM240.0 117.0h1v1h-1zM243.0 117.0h1v1h-1zM244.0 117.0h1v1h-1zM249.0 117.0h1v1h-1zM254.0 117.0h1v1h-1zM257.0 117.0h1v1h-1zM258.0 117.0h1v1h-1zM259.0 117.0h1v1h-1zM261.0 117.0h1v1h-1zM282.0 117.0h1v1h-1zM223.0 118.0h1v1h-1zM225.0 118.0h1v1h-1zM226.0 118.0h1v1h-1zM228.0 118.0h1v1h-1zM234.0 118.0h1v1h-1zM235.0 118.0h1v1h-1zM237.0 118.0h1v1h-1zM239.0 118.0h1v1h-1zM246.0 118.0h1v1h-1zM248.0 118.0h1v1h-1zM252.0 118.0h1v1h-1zM253.0 118.0h1v1h-1zM254.0 118.0h1v1h-1zM255.0 118.0h1v1h-1zM259.0 118.0h1v1h-1zM264.0 118.0h1v1h-1zM270.0 118.0h1v1h-1zM272.0 118.0h1v1h-1zM222.0 119.0h1v1h-1zM225.0 119.0h1v1h-1zM226.0 119.0h1v1h-1zM228.0 119.0h1v1h-1zM229.0 119.0h1v1h-1zM232.0 119.0h1v1h-1zM235.0 119.0h1v1h-1zM236.0 119.0h1v1h-1zM240.0 119.0h1v1h-1zM243.0 119.0h1v1h-1zM246.0 119.0h1v1h-1zM248.0 119.0h1v1h-1zM251.0 119.0h1v1h-1zM253.0 119.0h1v1h-1zM256.0 119.0h1v1h-1zM261.0 119.0h1v1h-1zM226.0 120.0h1v1h-1zM229.0 120.0h1v1h-1zM232.0 120.0h1v1h-1zM238.0 120.0h1v1h-1zM239.0 120.0h1v1h-1zM245.0 120.0h1v1h-1zM257.0 120.0h1v1h-1zM281.0 120.0h1v1h-1zM222.0 121.0h1v1h-1zM227.0 121.0h1v1h-1zM228.0 121.0h1v1h-1zM232.0 121.0h1v1h-1zM235.0 121.0h1v1h-1zM239.0 121.0h1v1h-1zM241.0 121.0h1v1h-1zM242.0 121.0h1v1h-1zM246.0 121.0h1v1h-1zM252.0 121.0h1v1h-1zM256.0 121.0h1v1h-1zM257.0 121.0h1v1h-1zM259.0 121.0h1v1h-1zM264.0 121.0h1v1h-1zM224.0 122.0h1v1h-1zM225.0 122.0h1v1h-1zM226.0 122.0h1v1h-1zM228.0 122.0h1v1h-1zM231.0 122.0h1v1h-1zM236.0 122.0h1v1h-1zM243.0 122.0h1v1h-1zM244.0 122.0h1v1h-1zM253.0 122.0h1v1h-1zM254.0 122.0h1v1h-1zM255.0 122.0h1v1h-1zM256.0 122.0h1v1h-1zM259.0 122.0h1v1h-1zM277.0 122.0h1v1h-1zM222.0 123.0h1v1h-1zM223.0 123.0h1v1h-1zM227.0 123.0h1v1h-1zM233.0 123.0h1v1h-1zM236.0 123.0h1v1h-1zM239.0 123.0h1v1h-1zM244.0 123.0h1v1h-1zM247.0 123.0h1v1h-1zM248.0 123.0h1v1h-1zM250.0 123.0h1v1h-1zM251.0 123.0h1v1h-1zM261.0 123.0h1v1h-1zM263.0 123.0h1v1h-1zM224.0 124.0h1v1h-1zM229.0 124.0h1v1h-1zM236.0 124.0h1v1h-1zM238.0 124.0h1v1h-1zM241.0 124.0h1v1h-1zM243.0 124.0h1v1h-1zM245.0 124.0h1v1h-1zM248.0 124.0h1v1h-1zM251.0 124.0h1v1h-1zM257.0 124.0h1v1h-1zM258.0 124.0h1v1h-1zM262.0 124.0h1v1h-1zM281.0 124.0h1v1h-1zM223.0 125.0h1v1h-1zM225.0 125.0h1v1h-1zM227.0 125.0h1v1h-1zM228.0 125.0h1v1h-1zM230.0 125.0h1v1h-1zM232.0 125.0h1v1h-1zM240.0 125.0h1v1h-1zM243.0 125.0h1v1h-1zM248.0 125.0h1v1h-1zM251.0 125.0h1v1h-1zM253.0 125.0h1v1h-1zM257.0 125.0h1v1h-1zM258.0 125.0h1v1h-1zM262.0 125.0h1v1h-1zM263.0 125.0h1v1h-1zM264.0 125.0h1v1h-1zM289.0 125.0h1v1h-1zM225.0 126.0h1v1h-1zM226.0 126.0h1v1h-1zM227.0 126.0h1v1h-1zM228.0 126.0h1v1h-1zM229.0 126.0h1v1h-1zM231.0 126.0h1v1h-1zM233.0 126.0h1v1h-1zM235.0 126.0h1v1h-1zM238.0 126.0h1v1h-1zM242.0 126.0h1v1h-1zM248.0 126.0h1v1h-1zM249.0 126.0h1v1h-1zM250.0 126.0h1v1h-1zM251.0 126.0h1v1h-1zM260.0 126.0h1v1h-1zM231.0 127.0h1v1h-1zM232.0 127.0h1v1h-1zM234.0 127.0h1v1h-1zM235.0 127.0h1v1h-1zM237.0 127.0h1v1h-1zM240.0 127.0h1v1h-1zM242.0 127.0h1v1h-1zM245.0 127.0h1v1h-1zM247.0 127.0h1v1h-1zM254.0 127.0h1v1h-1zM255.0 127.0h1v1h-1zM258.0 127.0h1v1h-1zM261.0 127.0h1v1h-1zM264.0 127.0h1v1h-1zM228.0 128.0h1v1h-1zM230.0 128.0h1v1h-1zM231.0 128.0h1v1h-1zM234.0 128.0h1v1h-1zM236.0 128.0h1v1h-1zM237.0 128.0h1v1h-1zM241.0 128.0h1v1h-1zM242.0 128.0h1v1h-1zM243.0 128.0h1v1h-1zM244.0 128.0h1v1h-1zM256.0 128.0h1v1h-1zM263.0 128.0h1v1h-1zM279.0 128.0h1v1h-1zM229.0 129.0h1v1h-1zM230.0 129.0h1v1h-1zM232.0 129.0h1v1h-1zM233.0 129.0h1v1h-1zM245.0 129.0h1v1h-1zM248.0 129.0h1v1h-1zM258.0 129.0h1v1h-1zM277.0 129.0h1v1h-1zM230.0 130.0h1v1h-1zM231.0 130.0h1v1h-1zM232.0 130.0h1v1h-1zM239.0 130.0h1v1h-1zM240.0 130.0h1v1h-1zM241.0 130.0h1v1h-1zM245.0 130.0h1v1h-1zM255.0 130.0h1v1h-1zM258.0 130.0h1v1h-1zM274.0 130.0h1v1h-1zM276.0 130.0h1v1h-1zM278.0 130.0h1v1h-1zM286.0 130.0h1v1h-1zM287.0 130.0h1v1h-1zM232.0 131.0h1v1h-1zM233.0 131.0h1v1h-1zM234.0 131.0h1v1h-1zM237.0 131.0h1v1h-1zM241.0 131.0h1v1h-1zM249.0 131.0h1v1h-1zM261.0 131.0h1v1h-1zM262.0 131.0h1v1h-1zM233.0 132.0h1v1h-1zM234.0 132.0h1v1h-1zM235.0 132.0h1v1h-1zM236.0 132.0h1v1h-1zM259.0 132.0h1v1h-1zM262.0 132.0h1v1h-1zM268.0 132.0h1v1h-1zM253.0 134.0h1v1h-1zM262.0 134.0h1v1h-1zM263.0 134.0h1v1h-1zM264.0 134.0h1v1h-1zM276.0 134.0h1v1h-1zM281.0 134.0h1v1h-1zM258.0 135.0h1v1h-1zM265.0 135.0h1v1h-1zM270.0 135.0h1v1h-1zM253.0 136.0h1v1h-1zM255.0 136.0h1v1h-1zM269.0 136.0h1v1h-1zM275.0 136.0h1v1h-1zM258.0 137.0h1v1h-1zM259.0 137.0h1v1h-1zM283.0 137.0h1v1h-1zM257.0 138.0h1v1h-1zM260.0 138.0h1v1h-1zM261.0 138.0h1v1h-1zM263.0 138.0h1v1h-1zM267.0 138.0h1v1h-1zM257.0 139.0h1v1h-1zM266.0 139.0h1v1h-1zM270.0 139.0h1v1h-1zM256.0 141.0h1v1h-1zM258.0 142.0h1v1h-1zM263.0 146.0h1v1h-1zM259.0 150.0h1v1h-1zM261.0 156.0h1v1h-1z"/>
<path fill="#3e8748" d="M241.0 89.0h1v1h-1zM245.0 89.0h1v1h-1zM252.0 93.0h1v1h-1zM241.0 95.0h1v1h-1zM244.0 99.0h1v1h-1zM250.0 99.0h1v1h-1zM238.0 100.0h1v1h-1zM260.0 100.0h1v1h-1zM243.0 101.0h1v1h-1zM262.0 102.0h1v1h-1zM255.0 106.0h1v1h-1zM238.0 107.0h1v1h-1zM238.0 108.0h1v1h-1zM259.0 108.0h1v1h-1zM252.0 109.0h1v1h-1zM261.0 110.0h1v1h-1zM257.0 112.0h1v1h-1z"/>
<path d="M193.0,94.0C192.8,92.9 194.2,91.1 195.0,90.0C195.8,88.9 197.0,88.2 198.0,87.5C199.0,86.8 200.0,86.1 201.0,85.5C202.0,84.9 202.8,84.3 204.0,84.0C205.2,83.7 206.7,83.4 208.0,83.5C209.3,83.6 210.9,84.0 212.0,84.5C213.1,85.0 213.7,85.9 214.5,86.5C215.3,87.1 216.2,87.3 217.0,88.0C217.8,88.7 219.2,89.7 219.5,90.5C219.8,91.3 219.4,92.2 219.0,93.0C218.6,93.8 217.8,94.8 217.0,95.5C216.2,96.2 215.2,96.7 214.0,97.0C212.8,97.3 211.5,97.2 210.0,97.5C208.5,97.8 206.7,98.5 205.0,98.5C203.3,98.5 201.5,97.8 200.0,97.5C198.5,97.2 197.2,97.1 196.0,96.5C194.8,95.9 193.2,95.1 193.0,94.0Z" fill="#5d8a50"/>
<path fill="#68a744" d="M204.5 83.2h1.25v1.25h-1.25zM207.0 83.2h1.25v1.25h-1.25zM208.2 83.2h1.25v1.25h-1.25zM205.8 84.5h1.25v1.25h-1.25zM208.2 84.5h1.25v1.25h-1.25zM210.8 84.5h1.25v1.25h-1.25zM198.2 88.2h1.25v1.25h-1.25zM202.0 88.2h1.25v1.25h-1.25zM205.8 88.2h1.25v1.25h-1.25zM200.8 89.5h1.25v1.25h-1.25zM195.8 90.8h1.25v1.25h-1.25zM218.2 90.8h1.25v1.25h-1.25zM194.5 92.0h1.25v1.25h-1.25zM202.0 92.0h1.25v1.25h-1.25zM207.0 92.0h1.25v1.25h-1.25zM198.2 93.2h1.25v1.25h-1.25zM194.5 94.5h1.25v1.25h-1.25zM200.8 94.5h1.25v1.25h-1.25zM202.0 95.8h1.25v1.25h-1.25zM204.5 95.8h1.25v1.25h-1.25z"/>
<path fill="#3e8748" d="M205.8 83.2h1.25v1.25h-1.25zM203.2 84.5h1.25v1.25h-1.25zM204.5 84.5h1.25v1.25h-1.25zM207.0 84.5h1.25v1.25h-1.25zM209.5 84.5h1.25v1.25h-1.25zM212.0 84.5h1.25v1.25h-1.25zM199.5 85.8h1.25v1.25h-1.25zM200.8 85.8h1.25v1.25h-1.25zM202.0 85.8h1.25v1.25h-1.25zM203.2 85.8h1.25v1.25h-1.25zM204.5 85.8h1.25v1.25h-1.25zM205.8 85.8h1.25v1.25h-1.25zM207.0 85.8h1.25v1.25h-1.25zM208.2 85.8h1.25v1.25h-1.25zM209.5 85.8h1.25v1.25h-1.25zM210.8 85.8h1.25v1.25h-1.25zM212.0 85.8h1.25v1.25h-1.25zM198.2 87.0h1.25v1.25h-1.25zM199.5 87.0h1.25v1.25h-1.25zM200.8 87.0h1.25v1.25h-1.25zM202.0 87.0h1.25v1.25h-1.25zM207.0 87.0h1.25v1.25h-1.25zM209.5 87.0h1.25v1.25h-1.25zM195.8 88.2h1.25v1.25h-1.25zM197.0 88.2h1.25v1.25h-1.25zM199.5 88.2h1.25v1.25h-1.25zM200.8 88.2h1.25v1.25h-1.25zM194.5 89.5h1.25v1.25h-1.25zM195.8 89.5h1.25v1.25h-1.25zM197.0 89.5h1.25v1.25h-1.25zM198.2 89.5h1.25v1.25h-1.25zM199.5 89.5h1.25v1.25h-1.25zM202.0 89.5h1.25v1.25h-1.25zM194.5 90.8h1.25v1.25h-1.25zM197.0 90.8h1.25v1.25h-1.25zM198.2 90.8h1.25v1.25h-1.25zM199.5 90.8h1.25v1.25h-1.25zM200.8 90.8h1.25v1.25h-1.25zM202.0 90.8h1.25v1.25h-1.25zM207.0 90.8h1.25v1.25h-1.25zM193.2 92.0h1.25v1.25h-1.25zM195.8 92.0h1.25v1.25h-1.25zM197.0 92.0h1.25v1.25h-1.25zM198.2 92.0h1.25v1.25h-1.25zM199.5 92.0h1.25v1.25h-1.25zM200.8 92.0h1.25v1.25h-1.25zM203.2 92.0h1.25v1.25h-1.25zM215.8 92.0h1.25v1.25h-1.25zM193.2 93.2h1.25v1.25h-1.25zM194.5 93.2h1.25v1.25h-1.25zM195.8 93.2h1.25v1.25h-1.25zM197.0 93.2h1.25v1.25h-1.25zM199.5 93.2h1.25v1.25h-1.25zM200.8 93.2h1.25v1.25h-1.25zM202.0 93.2h1.25v1.25h-1.25zM209.5 93.2h1.25v1.25h-1.25zM217.0 93.2h1.25v1.25h-1.25zM195.8 94.5h1.25v1.25h-1.25zM197.0 94.5h1.25v1.25h-1.25zM198.2 94.5h1.25v1.25h-1.25zM199.5 94.5h1.25v1.25h-1.25zM202.0 94.5h1.25v1.25h-1.25zM207.0 94.5h1.25v1.25h-1.25zM215.8 94.5h1.25v1.25h-1.25zM195.8 95.8h1.25v1.25h-1.25zM197.0 95.8h1.25v1.25h-1.25zM198.2 95.8h1.25v1.25h-1.25zM199.5 95.8h1.25v1.25h-1.25zM200.8 95.8h1.25v1.25h-1.25zM200.8 97.0h1.25v1.25h-1.25zM202.0 97.0h1.25v1.25h-1.25zM205.8 97.0h1.25v1.25h-1.25zM208.2 97.0h1.25v1.25h-1.25z"/>
<path fill="#f5d400" d="M202.0 84.5h1.25v1.25h-1.25zM213.2 85.8h1.25v1.25h-1.25zM208.2 87.0h1.25v1.25h-1.25zM215.8 88.2h1.25v1.25h-1.25zM203.2 89.5h1.25v1.25h-1.25zM203.2 90.8h1.25v1.25h-1.25zM205.8 90.8h1.25v1.25h-1.25zM213.2 90.8h1.25v1.25h-1.25zM209.5 94.5h1.25v1.25h-1.25zM209.5 95.8h1.25v1.25h-1.25z"/>
<path fill="#e07b1c" d="M203.2 87.0h1.25v1.25h-1.25zM209.5 88.2h1.25v1.25h-1.25zM217.0 89.5h1.25v1.25h-1.25zM208.2 93.2h1.25v1.25h-1.25zM210.8 93.2h1.25v1.25h-1.25zM207.0 95.8h1.25v1.25h-1.25z"/>
<path fill="#d68cc4" d="M204.5 87.0h1.25v1.25h-1.25zM205.8 87.0h1.25v1.25h-1.25zM215.8 87.0h1.25v1.25h-1.25zM210.8 88.2h1.25v1.25h-1.25zM212.0 88.2h1.25v1.25h-1.25zM207.0 89.5h1.25v1.25h-1.25zM209.5 89.5h1.25v1.25h-1.25zM210.8 89.5h1.25v1.25h-1.25zM210.8 92.0h1.25v1.25h-1.25zM213.2 92.0h1.25v1.25h-1.25zM205.8 93.2h1.25v1.25h-1.25zM203.2 94.5h1.25v1.25h-1.25zM212.0 94.5h1.25v1.25h-1.25zM204.5 97.0h1.25v1.25h-1.25z"/>
<path fill="#dc7c6c" d="M210.8 87.0h1.25v1.25h-1.25zM212.0 87.0h1.25v1.25h-1.25zM204.5 88.2h1.25v1.25h-1.25zM213.2 88.2h1.25v1.25h-1.25zM215.8 89.5h1.25v1.25h-1.25zM208.2 90.8h1.25v1.25h-1.25zM212.0 90.8h1.25v1.25h-1.25zM214.5 90.8h1.25v1.25h-1.25zM205.8 92.0h1.25v1.25h-1.25zM218.2 92.0h1.25v1.25h-1.25zM207.0 93.2h1.25v1.25h-1.25zM215.8 93.2h1.25v1.25h-1.25zM213.2 94.5h1.25v1.25h-1.25z"/>
<path fill="#4a78bf" d="M213.2 87.0h1.25v1.25h-1.25zM203.2 88.2h1.25v1.25h-1.25zM208.2 88.2h1.25v1.25h-1.25zM214.5 88.2h1.25v1.25h-1.25zM217.0 88.2h1.25v1.25h-1.25zM204.5 89.5h1.25v1.25h-1.25zM205.8 89.5h1.25v1.25h-1.25zM213.2 89.5h1.25v1.25h-1.25zM204.5 90.8h1.25v1.25h-1.25zM209.5 90.8h1.25v1.25h-1.25zM217.0 90.8h1.25v1.25h-1.25zM208.2 94.5h1.25v1.25h-1.25zM210.8 94.5h1.25v1.25h-1.25zM214.5 94.5h1.25v1.25h-1.25zM203.2 95.8h1.25v1.25h-1.25z"/>
<path fill="#7d3c98" d="M214.5 87.0h1.25v1.25h-1.25zM207.0 88.2h1.25v1.25h-1.25zM212.0 89.5h1.25v1.25h-1.25zM215.8 90.8h1.25v1.25h-1.25zM209.5 92.0h1.25v1.25h-1.25zM217.0 92.0h1.25v1.25h-1.25zM204.5 93.2h1.25v1.25h-1.25zM212.0 93.2h1.25v1.25h-1.25zM205.8 95.8h1.25v1.25h-1.25zM214.5 95.8h1.25v1.25h-1.25z"/>
<path fill="#c40f1c" d="M208.2 89.5h1.25v1.25h-1.25zM214.5 89.5h1.25v1.25h-1.25zM210.8 90.8h1.25v1.25h-1.25zM204.5 92.0h1.25v1.25h-1.25zM212.0 92.0h1.25v1.25h-1.25zM213.2 93.2h1.25v1.25h-1.25zM204.5 94.5h1.25v1.25h-1.25zM205.8 94.5h1.25v1.25h-1.25zM208.2 95.8h1.25v1.25h-1.25zM212.0 95.8h1.25v1.25h-1.25zM213.2 95.8h1.25v1.25h-1.25z"/>
<path fill="#96a4d8" d="M218.2 89.5h1.25v1.25h-1.25zM208.2 92.0h1.25v1.25h-1.25zM214.5 92.0h1.25v1.25h-1.25zM203.2 93.2h1.25v1.25h-1.25zM214.5 93.2h1.25v1.25h-1.25zM210.8 95.8h1.25v1.25h-1.25zM203.2 97.0h1.25v1.25h-1.25zM207.0 97.0h1.25v1.25h-1.25z"/>
<path fill="#96a4d8" d="M126.1 124.3h1.2v1.2h-1.2zM127.9 125.6h1.2v1.2h-1.2zM134.5 126.7h1.2v1.2h-1.2zM127.4 128.4h1.2v1.2h-1.2zM138.2 131.3h1.2v1.2h-1.2zM146.0 132.4h1.2v1.2h-1.2zM130.3 133.3h1.2v1.2h-1.2zM141.6 135.0h1.2v1.2h-1.2zM144.7 136.3h1.2v1.2h-1.2z"/>
<path fill="#c40f1c" d="M128.4 124.4h1.2v1.2h-1.2zM131.4 130.5h1.2v1.2h-1.2zM133.2 131.3h1.2v1.2h-1.2zM142.8 132.4h1.2v1.2h-1.2zM130.2 134.4h1.2v1.2h-1.2zM133.1 134.5h1.2v1.2h-1.2zM143.7 135.6h1.2v1.2h-1.2zM133.0 137.1h1.2v1.2h-1.2zM138.9 138.9h1.2v1.2h-1.2z"/>
<path fill="#dc7c6c" d="M126.0 125.5h1.2v1.2h-1.2zM131.5 126.1h1.2v1.2h-1.2zM132.8 125.8h1.2v1.2h-1.2zM135.2 125.5h1.2v1.2h-1.2zM131.7 126.8h1.2v1.2h-1.2zM126.1 129.8h1.2v1.2h-1.2zM141.8 129.5h1.2v1.2h-1.2zM141.9 130.6h1.2v1.2h-1.2zM142.9 131.3h1.2v1.2h-1.2zM145.0 130.4h1.2v1.2h-1.2zM132.7 132.3h1.2v1.2h-1.2zM126.2 133.6h1.2v1.2h-1.2zM127.8 133.2h1.2v1.2h-1.2zM129.3 133.4h1.2v1.2h-1.2zM131.5 133.5h1.2v1.2h-1.2zM143.4 133.9h1.2v1.2h-1.2zM140.7 135.1h1.2v1.2h-1.2zM136.7 136.3h1.2v1.2h-1.2zM139.3 136.0h1.2v1.2h-1.2zM128.9 137.4h1.2v1.2h-1.2zM139.3 137.6h1.2v1.2h-1.2zM140.6 137.2h1.2v1.2h-1.2zM141.4 136.8h1.2v1.2h-1.2zM127.4 138.6h1.2v1.2h-1.2zM131.7 138.7h1.2v1.2h-1.2zM137.1 139.9h1.2v1.2h-1.2zM138.4 139.8h1.2v1.2h-1.2z"/>
<path fill="#7d3c98" d="M135.2 128.7h1.2v1.2h-1.2zM132.7 129.2h1.2v1.2h-1.2zM144.5 133.6h1.2v1.2h-1.2zM126.6 134.7h1.2v1.2h-1.2zM138.3 136.2h1.2v1.2h-1.2z"/>
<path fill="#d68cc4" d="M130.0 131.1h1.2v1.2h-1.2zM134.2 130.7h1.2v1.2h-1.2zM129.2 132.0h1.2v1.2h-1.2zM132.9 135.6h1.2v1.2h-1.2zM134.0 137.8h1.2v1.2h-1.2z"/>
<path fill="#68a744" d="M137.9 137.6h1.2v1.2h-1.2z"/>
<path d="M126.5,127.0C127.0,126.2 128.1,126.0 129.0,126.0C129.9,126.0 131.0,126.6 132.0,127.0C133.0,127.4 134.0,128.0 135.0,128.5C136.0,129.0 137.2,129.2 138.0,130.0C138.8,130.8 139.3,131.9 139.5,133.0C139.7,134.1 139.5,135.5 139.0,136.5C138.5,137.5 137.7,138.4 136.5,139.0C135.3,139.6 133.4,140.0 132.0,140.0C130.6,140.0 128.9,139.8 128.0,139.0C127.0,138.2 126.6,136.8 126.3,135.5C126.0,134.2 126.0,132.4 126.0,131.0C126.0,129.6 126.0,127.8 126.5,127.0Z" fill="#b04a50"/>
<path fill="#c40f1c" d="M126.2 126.2h1.25v1.25h-1.25zM126.2 127.5h1.25v1.25h-1.25zM127.5 128.8h1.25v1.25h-1.25zM128.8 128.8h1.25v1.25h-1.25zM132.5 128.8h1.25v1.25h-1.25zM133.8 128.8h1.25v1.25h-1.25zM133.8 130.0h1.25v1.25h-1.25zM136.2 130.0h1.25v1.25h-1.25zM137.5 130.0h1.25v1.25h-1.25zM127.5 131.2h1.25v1.25h-1.25zM130.0 131.2h1.25v1.25h-1.25zM136.2 131.2h1.25v1.25h-1.25zM130.0 132.5h1.25v1.25h-1.25zM131.2 132.5h1.25v1.25h-1.25zM135.0 132.5h1.25v1.25h-1.25zM136.2 132.5h1.25v1.25h-1.25zM137.5 132.5h1.25v1.25h-1.25zM138.8 132.5h1.25v1.25h-1.25zM126.2 133.8h1.25v1.25h-1.25zM130.0 133.8h1.25v1.25h-1.25zM131.2 133.8h1.25v1.25h-1.25zM132.5 133.8h1.25v1.25h-1.25zM135.0 133.8h1.25v1.25h-1.25zM136.2 133.8h1.25v1.25h-1.25zM128.8 135.0h1.25v1.25h-1.25zM130.0 135.0h1.25v1.25h-1.25zM131.2 135.0h1.25v1.25h-1.25zM133.8 135.0h1.25v1.25h-1.25zM135.0 135.0h1.25v1.25h-1.25zM127.5 136.2h1.25v1.25h-1.25zM130.0 136.2h1.25v1.25h-1.25zM132.5 136.2h1.25v1.25h-1.25zM135.0 136.2h1.25v1.25h-1.25zM136.2 136.2h1.25v1.25h-1.25zM137.5 136.2h1.25v1.25h-1.25zM135.0 137.5h1.25v1.25h-1.25zM131.2 138.8h1.25v1.25h-1.25z"/>
<path fill="#7d3c98" d="M127.5 126.2h1.25v1.25h-1.25zM130.0 127.5h1.25v1.25h-1.25zM131.2 128.8h1.25v1.25h-1.25zM136.2 137.5h1.25v1.25h-1.25z"/>
<path fill="#d68cc4" d="M128.8 126.2h1.25v1.25h-1.25zM128.8 131.2h1.25v1.25h-1.25zM131.2 131.2h1.25v1.25h-1.25zM127.5 135.0h1.25v1.25h-1.25zM136.2 135.0h1.25v1.25h-1.25zM137.5 135.0h1.25v1.25h-1.25zM127.5 137.5h1.25v1.25h-1.25zM130.0 137.5h1.25v1.25h-1.25zM132.5 137.5h1.25v1.25h-1.25zM130.0 138.8h1.25v1.25h-1.25zM132.5 138.8h1.25v1.25h-1.25zM133.8 138.8h1.25v1.25h-1.25z"/>
<path fill="#68a744" d="M130.0 126.2h1.25v1.25h-1.25zM128.8 127.5h1.25v1.25h-1.25zM131.2 130.0h1.25v1.25h-1.25zM135.0 130.0h1.25v1.25h-1.25zM127.5 132.5h1.25v1.25h-1.25zM126.2 135.0h1.25v1.25h-1.25zM128.8 136.2h1.25v1.25h-1.25z"/>
<path fill="#dc7c6c" d="M127.5 127.5h1.25v1.25h-1.25zM130.0 128.8h1.25v1.25h-1.25zM135.0 128.8h1.25v1.25h-1.25zM127.5 130.0h1.25v1.25h-1.25zM128.8 130.0h1.25v1.25h-1.25zM130.0 130.0h1.25v1.25h-1.25zM132.5 130.0h1.25v1.25h-1.25zM137.5 131.2h1.25v1.25h-1.25zM126.2 132.5h1.25v1.25h-1.25zM128.8 132.5h1.25v1.25h-1.25zM133.8 132.5h1.25v1.25h-1.25zM127.5 133.8h1.25v1.25h-1.25zM128.8 133.8h1.25v1.25h-1.25zM128.8 137.5h1.25v1.25h-1.25zM133.8 137.5h1.25v1.25h-1.25z"/>
<path fill="#96a4d8" d="M131.2 127.5h1.25v1.25h-1.25zM126.2 128.8h1.25v1.25h-1.25zM135.0 131.2h1.25v1.25h-1.25zM132.5 132.5h1.25v1.25h-1.25zM131.2 137.5h1.25v1.25h-1.25z"/>
<path fill="#3e8748" d="M132.5 127.5h1.25v1.25h-1.25zM126.2 130.0h1.25v1.25h-1.25zM126.2 131.2h1.25v1.25h-1.25zM132.5 131.2h1.25v1.25h-1.25zM133.8 131.2h1.25v1.25h-1.25zM133.8 133.8h1.25v1.25h-1.25zM137.5 133.8h1.25v1.25h-1.25zM132.5 135.0h1.25v1.25h-1.25zM131.2 136.2h1.25v1.25h-1.25zM133.8 136.2h1.25v1.25h-1.25z"/>
<path fill="#c40f1c" d="M218.7 155.5h1.3v1.3h-1.3zM218.4 155.6h1.3v1.3h-1.3zM219.4 157.0h1.3v1.3h-1.3zM218.6 158.1h1.3v1.3h-1.3zM216.3 159.0h1.3v1.3h-1.3zM222.8 159.5h1.3v1.3h-1.3zM230.9 159.9h1.3v1.3h-1.3zM229.6 163.0h1.3v1.3h-1.3zM230.5 166.7h1.3v1.3h-1.3z"/>
<path fill="#dc7c6c" d="M217.4 155.9h1.3v1.3h-1.3zM221.2 157.6h1.3v1.3h-1.3zM222.9 158.0h1.3v1.3h-1.3zM229.2 158.0h1.3v1.3h-1.3zM223.0 159.5h1.3v1.3h-1.3zM228.6 159.1h1.3v1.3h-1.3zM232.2 159.6h1.3v1.3h-1.3zM219.5 160.4h1.3v1.3h-1.3zM224.3 159.9h1.3v1.3h-1.3zM227.0 161.0h1.3v1.3h-1.3zM228.3 162.6h1.3v1.3h-1.3zM231.0 162.7h1.3v1.3h-1.3zM230.8 164.6h1.3v1.3h-1.3z"/>
<path fill="#e07b1c" d="M219.5 156.6h1.3v1.3h-1.3zM222.5 157.5h1.3v1.3h-1.3zM224.4 158.4h1.3v1.3h-1.3zM221.2 159.7h1.3v1.3h-1.3zM223.3 160.7h1.3v1.3h-1.3zM225.9 160.1h1.3v1.3h-1.3zM226.5 160.7h1.3v1.3h-1.3zM228.7 160.5h1.3v1.3h-1.3zM229.9 161.5h1.3v1.3h-1.3zM228.7 163.5h1.3v1.3h-1.3zM230.6 163.6h1.3v1.3h-1.3z"/>
<path fill="#68a744" d="M219.9 155.7h1.3v1.3h-1.3zM222.8 156.1h1.3v1.3h-1.3zM220.5 157.2h1.3v1.3h-1.3zM216.5 158.0h1.3v1.3h-1.3zM217.0 158.0h1.3v1.3h-1.3zM220.0 158.5h1.3v1.3h-1.3zM229.5 165.0h1.3v1.3h-1.3z"/>
<path fill="#f5d400" d="M221.5 156.3h1.3v1.3h-1.3zM217.7 156.9h1.3v1.3h-1.3zM224.8 157.2h1.3v1.3h-1.3zM228.2 157.3h1.3v1.3h-1.3zM225.7 158.3h1.3v1.3h-1.3zM226.4 158.6h1.3v1.3h-1.3zM228.8 157.7h1.3v1.3h-1.3zM218.7 159.6h1.3v1.3h-1.3zM220.1 159.5h1.3v1.3h-1.3zM225.5 159.1h1.3v1.3h-1.3zM230.5 161.0h1.3v1.3h-1.3zM230.1 162.6h1.3v1.3h-1.3z"/>
<path fill="#3e8748" d="M226.0 156.4h1.3v1.3h-1.3zM217.6 157.1h1.3v1.3h-1.3zM227.6 157.8h1.3v1.3h-1.3zM218.5 159.9h1.3v1.3h-1.3zM220.3 160.1h1.3v1.3h-1.3zM222.4 160.7h1.3v1.3h-1.3zM229.6 160.0h1.3v1.3h-1.3zM225.6 161.0h1.3v1.3h-1.3zM228.0 161.2h1.3v1.3h-1.3zM230.9 165.5h1.3v1.3h-1.3z"/>
<path fill="#7d3c98" d="M223.6 157.4h1.3v1.3h-1.3zM227.2 157.0h1.3v1.3h-1.3zM222.2 157.9h1.3v1.3h-1.3zM231.2 158.1h1.3v1.3h-1.3zM224.9 158.8h1.3v1.3h-1.3zM229.2 159.0h1.3v1.3h-1.3zM231.7 160.6h1.3v1.3h-1.3zM228.6 161.2h1.3v1.3h-1.3zM231.7 162.4h1.3v1.3h-1.3zM231.3 165.5h1.3v1.3h-1.3z"/>
<path fill="#4a78bf" d="M229.6 157.4h1.3v1.3h-1.3zM219.3 158.4h1.3v1.3h-1.3zM218.4 159.4h1.3v1.3h-1.3zM229.5 167.1h1.3v1.3h-1.3z"/>
<rect x="262.2" y="117.5" width="1.3" height="1.3" fill="#fff" opacity="0.85"/>
<rect x="263.1" y="116.1" width="1.3" height="1.3" fill="#fff" opacity="0.85"/>
<rect x="261.5" y="115.9" width="1.3" height="1.3" fill="#fff" opacity="0.85"/>
<rect x="264.2" y="115.9" width="1.3" height="1.3" fill="#fff" opacity="0.85"/>
<rect x="263.7" y="113.5" width="1.3" height="1.3" fill="#fff" opacity="0.85"/>
<rect x="264.5" y="113.0" width="1.3" height="1.3" fill="#fff" opacity="0.85"/>
<rect x="264.6" y="112.5" width="1.3" height="1.3" fill="#fff" opacity="0.85"/>
<rect x="266.5" y="113.9" width="1.3" height="1.3" fill="#fff" opacity="0.85"/>
<rect x="267.1" y="112.4" width="1.3" height="1.3" fill="#fff" opacity="0.85"/>
<rect x="267.8" y="112.7" width="1.3" height="1.3" fill="#fff" opacity="0.85"/>
<rect x="267.3" y="110.9" width="1.3" height="1.3" fill="#fff" opacity="0.85"/>
<rect x="267.6" y="109.9" width="1.3" height="1.3" fill="#fff" opacity="0.85"/>
<rect x="269.5" y="109.7" width="1.3" height="1.3" fill="#fff" opacity="0.85"/>
<rect x="269.1" y="110.4" width="1.3" height="1.3" fill="#fff" opacity="0.85"/>
<rect x="270.1" y="107.9" width="1.3" height="1.3" fill="#fff" opacity="0.85"/>
<rect x="270.8" y="107.5" width="1.3" height="1.3" fill="#fff" opacity="0.85"/>
<rect x="233.0" y="156.6" width="1" height="1" fill="#e07b1c" opacity="0.7"/>
<rect x="235.1" y="156.7" width="1" height="1" fill="#e07b1c" opacity="0.7"/>
<rect x="237.7" y="156.3" width="1" height="1" fill="#e07b1c" opacity="0.7"/>
<rect x="238.1" y="156.9" width="1" height="1" fill="#f5d400" opacity="0.7"/>
<rect x="241.0" y="155.7" width="1" height="1" fill="#f5d400" opacity="0.7"/>
<rect x="241.9" y="155.5" width="1" height="1" fill="#f5d400" opacity="0.7"/>
<rect x="244.6" y="156.2" width="1" height="1" fill="#e07b1c" opacity="0.7"/>
<rect x="247.2" y="155.0" width="1" height="1" fill="#f5d400" opacity="0.7"/>
<rect x="247.5" y="155.0" width="1" height="1" fill="#dc7c6c" opacity="0.7"/>
<rect x="250.7" y="154.3" width="1" height="1" fill="#f5d400" opacity="0.7"/>
<rect x="252.5" y="155.0" width="1" height="1" fill="#dc7c6c" opacity="0.7"/>
<rect x="254.7" y="153.3" width="1" height="1" fill="#dc7c6c" opacity="0.7"/>
<rect x="256.8" y="153.0" width="1" height="1" fill="#e07b1c" opacity="0.7"/>
<rect x="257.9" y="152.8" width="1" height="1" fill="#e07b1c" opacity="0.7"/>
<rect x="155.9" y="81.7" width="1.3" height="1.3" fill="#d68cc4"/>
<rect x="152.9" y="85.6" width="1.3" height="1.3" fill="#96a4d8"/>
<rect x="164.4" y="87.9" width="1.3" height="1.3" fill="#96a4d8"/>
<rect x="164.0" y="89.8" width="1.3" height="1.3" fill="#7d3c98"/>
<rect x="143.6" y="101.7" width="1.3" height="1.3" fill="#96a4d8"/>
<rect x="144.0" y="106.4" width="1.3" height="1.3" fill="#7d3c98"/>
<rect x="140.9" y="110.2" width="1.3" height="1.3" fill="#f5d400"/>
<rect x="136.9" y="113.4" width="1.3" height="1.3" fill="#c40f1c"/>
<rect x="138.9" y="114.9" width="1.3" height="1.3" fill="#c40f1c"/>
<rect x="145.9" y="115.2" width="1.3" height="1.3" fill="#68a744"/>
<rect x="147.7" y="114.6" width="1.3" height="1.3" fill="#68a744"/>
<rect x="144.8" y="117.1" width="1.3" height="1.3" fill="#68a744"/>
<rect x="153.2" y="115.6" width="1.3" height="1.3" fill="#f5d400"/>
<rect x="154.4" y="114.9" width="1.3" height="1.3" fill="#e07b1c"/>
<rect x="162.8" y="133.2" width="1.3" height="1.3" fill="#3e8748"/>
<rect x="162.0" y="134.8" width="1.3" height="1.3" fill="#d68cc4"/>
<rect x="165.9" y="136.3" width="1.3" height="1.3" fill="#e07b1c"/>
<rect x="166.6" y="138.6" width="1.3" height="1.3" fill="#e07b1c"/>
<rect x="171.2" y="139.4" width="1.3" height="1.3" fill="#e07b1c"/>
<rect x="172.8" y="140.2" width="1.3" height="1.3" fill="#e07b1c"/>
<rect x="143.9" y="149.0" width="1.3" height="1.3" fill="#68a744"/>
<rect x="147.0" y="135.2" width="1.3" height="1.3" fill="#e07b1c"/>
<rect x="145.1" y="131.7" width="1.3" height="1.3" fill="#f5d400"/>
<rect x="142.6" y="103.9" width="1.3" height="1.3" fill="#96a4d8"/>
<rect x="143.9" y="109.4" width="1.3" height="1.3" fill="#96a4d8"/>
<rect x="141.4" y="112.4" width="1.3" height="1.3" fill="#96a4d8"/>
<rect x="139.9" y="115.4" width="1.3" height="1.3" fill="#96a4d8"/>
<rect x="114.9" y="112.9" width="1.3" height="1.3" fill="#c40f1c"/>
<rect x="115.7" y="113.9" width="1.3" height="1.3" fill="#c40f1c"/>
<rect x="114.4" y="111.9" width="1.3" height="1.3" fill="#c40f1c"/>
<rect x="115.9" y="112.2" width="1.3" height="1.3" fill="#c40f1c"/>
<rect x="115.2" y="114.7" width="1.3" height="1.3" fill="#c40f1c"/>
<rect x="116.6" y="110.9" width="1.3" height="1.3" fill="#3e8748"/>
<rect x="137.6" y="114.6" width="1.3" height="1.3" fill="#c40f1c"/>
<rect x="138.9" y="113.6" width="1.3" height="1.3" fill="#c40f1c"/>
<rect x="141.9" y="103.4" width="1.3" height="1.3" fill="#68a744"/>
<rect x="145.4" y="119.4" width="1.3" height="1.3" fill="#7d3c98"/>
<rect x="149.4" y="117.9" width="1.3" height="1.3" fill="#96a4d8"/>
<rect x="151.9" y="119.9" width="1.3" height="1.3" fill="#e07b1c"/>
<rect x="185.9" y="100.9" width="1.3" height="1.3" fill="#96a4d8"/>
<rect x="187.4" y="103.4" width="1.3" height="1.3" fill="#c40f1c"/>
<rect x="188.4" y="105.9" width="1.3" height="1.3" fill="#7d3c98"/>
<rect x="189.9" y="107.9" width="1.3" height="1.3" fill="#7d3c98"/>
<rect x="184.4" y="111.4" width="1.3" height="1.3" fill="#dc7c6c"/>
<rect x="159.4" y="124.4" width="1.3" height="1.3" fill="#c40f1c"/>
<rect x="169.4" y="124.4" width="1.3" height="1.3" fill="#96a4d8"/>
<rect x="180.4" y="124.4" width="1.3" height="1.3" fill="#c40f1c"/>
<rect x="198.4" y="98.4" width="1.3" height="1.3" fill="#3e8748"/>
<rect x="203.4" y="99.4" width="1.3" height="1.3" fill="#e07b1c"/>
<rect x="187.9" y="112.4" width="1.3" height="1.3" fill="#96a4d8"/>
<rect x="119.4" y="87.4" width="1.3" height="1.3" fill="#68a744"/>
<rect x="140.4" y="95.4" width="1.3" height="1.3" fill="#96a4d8"/>
<rect x="143.4" y="97.9" width="1.3" height="1.3" fill="#68a744"/>
<rect x="196.4" y="55.4" width="1.3" height="1.3" fill="#f5d400"/>
<rect x="141.9" y="146.4" width="1.3" height="1.3" fill="#c40f1c"/>
<rect x="142.9" y="143.4" width="1.3" height="1.3" fill="#dc7c6c"/>
<rect x="140.4" y="140.9" width="1.3" height="1.3" fill="#dc7c6c"/>
<rect x="138.9" y="152.4" width="1.3" height="1.3" fill="#7d3c98"/>
<rect x="83.4" y="139.9" width="1.3" height="1.3" fill="#d68cc4"/>
<rect x="98.4" y="128.9" width="1.3" height="1.3" fill="#d68cc4"/>
<rect x="86.9" y="125.9" width="1.3" height="1.3" fill="#e07b1c"/>
<text x="114.1" y="39.7" font-size="8.8" textLength="37.5" lengthAdjust="spacingAndGlyphs">Tumor FL4</text>
<text x="184.2" y="42.1" font-size="8.8" textLength="38.1" lengthAdjust="spacingAndGlyphs">Tumor FL9</text>
<text x="140.5" y="70.1" font-size="8.8" textLength="37.3" lengthAdjust="spacingAndGlyphs">Tumor FL5</text>
<text x="190.2" y="82.5" font-size="8.8" textLength="44.0" lengthAdjust="spacingAndGlyphs">Proliferating</text>
<text x="100.6" y="87.0" font-size="8.8" textLength="38.1" lengthAdjust="spacingAndGlyphs">Tumor FL1</text>
<text x="92.5" y="113.2" font-size="8.8" textLength="42.3" lengthAdjust="spacingAndGlyphs">Tumor FL10</text>
<text x="185.6" y="111.2" font-size="8.8" textLength="43.2" lengthAdjust="spacingAndGlyphs">Plasma cells</text>
<text x="63.4" y="125.8" font-size="8.8" textLength="37.5" lengthAdjust="spacingAndGlyphs">Tumor FL2</text>
<text x="150.6" y="131.9" font-size="8.8" textLength="37.4" lengthAdjust="spacingAndGlyphs">Tumor FL7</text>
<text x="109.8" y="138.3" font-size="8.8" textLength="21.2" lengthAdjust="spacingAndGlyphs">B cells</text>
<text x="267.0" y="96.9" font-size="8.8" textLength="22.4" lengthAdjust="spacingAndGlyphs">T cells</text>
<text x="158.3" y="152.2" font-size="8.8" textLength="37.5" lengthAdjust="spacingAndGlyphs">Tumor FL8</text>
<text x="97.3" y="152.9" font-size="8.8" textLength="37.5" lengthAdjust="spacingAndGlyphs">Tumor FL6</text>
<text x="228.0" y="152.2" font-size="8.8" textLength="48.3" lengthAdjust="spacingAndGlyphs">NK/NKT cells</text>
<text x="157.5" y="176.2" font-size="8.8" textLength="38.8" lengthAdjust="spacingAndGlyphs">Tumor FL3</text>
<text x="215.0" y="176.0" font-size="8.8" textLength="47.0" lengthAdjust="spacingAndGlyphs">Myeloid cells</text>
<text x="309.6" y="71.4" font-size="8.4" textLength="25.1" lengthAdjust="spacingAndGlyphs">Patient</text>
<circle cx="311.9" cy="78.60" r="2.7" fill="#68a744"/>
<text x="317.8" y="81.2" font-size="8.4" textLength="12.2" lengthAdjust="spacingAndGlyphs">FL1</text>
<circle cx="311.9" cy="88.84" r="2.7" fill="#d68cc4"/>
<text x="317.8" y="91.4" font-size="8.4" textLength="12.2" lengthAdjust="spacingAndGlyphs">FL2</text>
<circle cx="311.9" cy="99.08" r="2.7" fill="#c40f1c"/>
<text x="317.8" y="101.7" font-size="8.4" textLength="12.2" lengthAdjust="spacingAndGlyphs">FL3</text>
<circle cx="311.9" cy="109.32" r="2.7" fill="#4a78bf"/>
<text x="317.8" y="111.9" font-size="8.4" textLength="12.2" lengthAdjust="spacingAndGlyphs">FL4</text>
<circle cx="311.9" cy="119.56" r="2.7" fill="#3e8748"/>
<text x="317.8" y="122.2" font-size="8.4" textLength="12.2" lengthAdjust="spacingAndGlyphs">FL5</text>
<circle cx="311.9" cy="129.80" r="2.7" fill="#e07b1c"/>
<text x="317.8" y="132.4" font-size="8.4" textLength="12.2" lengthAdjust="spacingAndGlyphs">FL6</text>
<circle cx="311.9" cy="140.04" r="2.7" fill="#7d3c98"/>
<text x="317.8" y="142.6" font-size="8.4" textLength="12.2" lengthAdjust="spacingAndGlyphs">FL7</text>
<circle cx="311.9" cy="150.28" r="2.7" fill="#dc7c6c"/>
<text x="317.8" y="152.9" font-size="8.4" textLength="12.2" lengthAdjust="spacingAndGlyphs">FL8</text>
<circle cx="311.9" cy="160.52" r="2.7" fill="#f5d400"/>
<text x="317.8" y="163.1" font-size="8.4" textLength="12.2" lengthAdjust="spacingAndGlyphs">FL9</text>
<circle cx="311.9" cy="170.76" r="2.7" fill="#96a4d8"/>
<text x="317.8" y="173.4" font-size="8.4" textLength="17.6" lengthAdjust="spacingAndGlyphs">FL10</text>
<text x="9.5" y="253.2" font-size="12.5" font-weight="bold" fill="#000">B</text>
<g shape-rendering="crispEdges">
<rect x="21.00" y="259.60" width="16.85" height="1.05" fill="#f1ad2f"/>
<rect x="37.80" y="259.60" width="16.85" height="1.05" fill="#9d207e"/>
<rect x="54.60" y="259.60" width="16.85" height="1.05" fill="#b02b76"/>
<rect x="71.40" y="259.60" width="16.85" height="1.05" fill="#5e2088"/>
<rect x="88.20" y="259.60" width="16.85" height="1.05" fill="#c94a67"/>
<rect x="105.00" y="259.60" width="16.85" height="1.05" fill="#a2217c"/>
<rect x="121.80" y="259.60" width="16.85" height="1.05" fill="#5c2088"/>
<rect x="138.60" y="259.60" width="16.85" height="1.05" fill="#801c88"/>
<rect x="155.40" y="259.60" width="16.85" height="1.05" fill="#8c1e84"/>
<rect x="172.20" y="259.60" width="16.85" height="1.05" fill="#a8237a"/>
<rect x="21.00" y="260.60" width="16.85" height="1.05" fill="#f3cb29"/>
<rect x="37.80" y="260.60" width="16.85" height="1.05" fill="#be3c6e"/>
<rect x="54.60" y="260.60" width="16.85" height="1.05" fill="#c54569"/>
<rect x="71.40" y="260.60" width="16.85" height="1.05" fill="#7d1c88"/>
<rect x="88.20" y="260.60" width="16.85" height="1.05" fill="#ea933e"/>
<rect x="105.00" y="260.60" width="16.85" height="1.05" fill="#a7227a"/>
<rect x="121.80" y="260.60" width="16.85" height="1.05" fill="#4a2288"/>
<rect x="138.60" y="260.60" width="16.85" height="1.05" fill="#821c87"/>
<rect x="155.40" y="260.60" width="16.85" height="1.05" fill="#b22e74"/>
<rect x="172.20" y="260.60" width="16.85" height="1.05" fill="#b63372"/>
<rect x="21.00" y="261.60" width="16.85" height="1.05" fill="#efa435"/>
<rect x="37.80" y="261.60" width="16.85" height="1.05" fill="#aa2479"/>
<rect x="54.60" y="261.60" width="16.85" height="1.05" fill="#d15b5d"/>
<rect x="71.40" y="261.60" width="16.85" height="1.05" fill="#a0217d"/>
<rect x="88.20" y="261.60" width="16.85" height="1.05" fill="#ea933e"/>
<rect x="105.00" y="261.60" width="16.85" height="1.05" fill="#6a1e88"/>
<rect x="121.80" y="261.60" width="16.85" height="1.05" fill="#582088"/>
<rect x="138.60" y="261.60" width="16.85" height="1.05" fill="#661f88"/>
<rect x="155.40" y="261.60" width="16.85" height="1.05" fill="#ac2778"/>
<rect x="172.20" y="261.60" width="16.85" height="1.05" fill="#7c1c88"/>
<rect x="21.00" y="262.60" width="16.85" height="1.05" fill="#ea943d"/>
<rect x="37.80" y="262.60" width="16.85" height="1.05" fill="#a6227b"/>
<rect x="54.60" y="262.60" width="16.85" height="1.05" fill="#ea933e"/>
<rect x="71.40" y="262.60" width="16.85" height="1.05" fill="#9b207e"/>
<rect x="88.20" y="262.60" width="16.85" height="1.05" fill="#ea933e"/>
<rect x="105.00" y="262.60" width="16.85" height="1.05" fill="#5f2088"/>
<rect x="121.80" y="262.60" width="16.85" height="1.05" fill="#4b2288"/>
<rect x="138.60" y="262.60" width="16.85" height="1.05" fill="#9e207e"/>
<rect x="155.40" y="262.60" width="16.85" height="1.05" fill="#b33074"/>
<rect x="172.20" y="262.60" width="16.85" height="1.05" fill="#9a207f"/>
<rect x="21.00" y="263.60" width="16.85" height="1.05" fill="#e98f40"/>
<rect x="37.80" y="263.60" width="16.85" height="1.05" fill="#ac2778"/>
<rect x="54.60" y="263.60" width="16.85" height="1.05" fill="#e47f49"/>
<rect x="71.40" y="263.60" width="16.85" height="1.05" fill="#cb4e64"/>
<rect x="88.20" y="263.60" width="16.85" height="1.05" fill="#df764e"/>
<rect x="105.00" y="263.60" width="16.85" height="1.05" fill="#931f81"/>
<rect x="121.80" y="263.60" width="16.85" height="1.05" fill="#4c2288"/>
<rect x="138.60" y="263.60" width="16.85" height="1.05" fill="#c13f6c"/>
<rect x="155.40" y="263.60" width="16.85" height="1.05" fill="#a92379"/>
<rect x="172.20" y="263.60" width="16.85" height="1.05" fill="#ba3870"/>
<rect x="21.00" y="264.60" width="16.85" height="1.05" fill="#f3c42a"/>
<rect x="37.80" y="264.60" width="16.85" height="1.05" fill="#ae2976"/>
<rect x="54.60" y="264.60" width="16.85" height="1.05" fill="#da6b54"/>
<rect x="71.40" y="264.60" width="16.85" height="1.05" fill="#9c207e"/>
<rect x="88.20" y="264.60" width="16.85" height="1.05" fill="#e88a43"/>
<rect x="105.00" y="264.60" width="16.85" height="1.05" fill="#a5227b"/>
<rect x="121.80" y="264.60" width="16.85" height="1.05" fill="#7a1d88"/>
<rect x="138.60" y="264.60" width="16.85" height="1.05" fill="#ad2877"/>
<rect x="155.40" y="264.60" width="16.85" height="1.05" fill="#bf3d6d"/>
<rect x="172.20" y="264.60" width="16.85" height="1.05" fill="#bb396f"/>
<rect x="21.00" y="265.60" width="16.85" height="1.05" fill="#f0aa31"/>
<rect x="37.80" y="265.60" width="16.85" height="1.05" fill="#a92379"/>
<rect x="54.60" y="265.60" width="16.85" height="1.05" fill="#c94a67"/>
<rect x="71.40" y="265.60" width="16.85" height="1.05" fill="#7f1c88"/>
<rect x="88.20" y="265.60" width="16.85" height="1.05" fill="#db6d53"/>
<rect x="105.00" y="265.60" width="16.85" height="1.05" fill="#b83471"/>
<rect x="121.80" y="265.60" width="16.85" height="1.05" fill="#951f81"/>
<rect x="138.60" y="265.60" width="16.85" height="1.05" fill="#cb4f64"/>
<rect x="155.40" y="265.60" width="16.85" height="1.05" fill="#da6b54"/>
<rect x="172.20" y="265.60" width="16.85" height="1.05" fill="#c94967"/>
<rect x="21.00" y="266.60" width="16.85" height="1.05" fill="#f0a932"/>
<rect x="37.80" y="266.60" width="16.85" height="1.05" fill="#b83571"/>
<rect x="54.60" y="266.60" width="16.85" height="1.05" fill="#ea933e"/>
<rect x="71.40" y="266.60" width="16.85" height="1.05" fill="#851d86"/>
<rect x="88.20" y="266.60" width="16.85" height="1.05" fill="#ce5461"/>
<rect x="105.00" y="266.60" width="16.85" height="1.05" fill="#e27c4b"/>
<rect x="121.80" y="266.60" width="16.85" height="1.05" fill="#821c87"/>
<rect x="138.60" y="266.60" width="16.85" height="1.05" fill="#db6d53"/>
<rect x="155.40" y="266.60" width="16.85" height="1.05" fill="#e58347"/>
<rect x="172.20" y="266.60" width="16.85" height="1.05" fill="#9e217d"/>
<rect x="21.00" y="267.60" width="16.85" height="1.05" fill="#f3d128"/>
<rect x="37.80" y="267.60" width="16.85" height="1.05" fill="#c13f6c"/>
<rect x="54.60" y="267.60" width="16.85" height="1.05" fill="#ea933e"/>
<rect x="71.40" y="267.60" width="16.85" height="1.05" fill="#a7227a"/>
<rect x="88.20" y="267.60" width="16.85" height="1.05" fill="#d0575f"/>
<rect x="105.00" y="267.60" width="16.85" height="1.05" fill="#d86856"/>
<rect x="121.80" y="267.60" width="16.85" height="1.05" fill="#8c1e84"/>
<rect x="138.60" y="267.60" width="16.85" height="1.05" fill="#ea933e"/>
<rect x="155.40" y="267.60" width="16.85" height="1.05" fill="#ea933e"/>
<rect x="172.20" y="267.60" width="16.85" height="1.05" fill="#b83571"/>
<rect x="21.00" y="268.60" width="16.85" height="1.05" fill="#ea943d"/>
<rect x="37.80" y="268.60" width="16.85" height="1.05" fill="#c03f6c"/>
<rect x="54.60" y="268.60" width="16.85" height="1.05" fill="#ea933e"/>
<rect x="71.40" y="268.60" width="16.85" height="1.05" fill="#961f80"/>
<rect x="88.20" y="268.60" width="16.85" height="1.05" fill="#a5217b"/>
<rect x="105.00" y="268.60" width="16.85" height="1.05" fill="#aa2479"/>
<rect x="121.80" y="268.60" width="16.85" height="1.05" fill="#761d88"/>
<rect x="138.60" y="268.60" width="16.85" height="1.05" fill="#e27d4a"/>
<rect x="155.40" y="268.60" width="16.85" height="1.05" fill="#ea933e"/>
<rect x="172.20" y="268.60" width="16.85" height="1.05" fill="#921f82"/>
<rect x="21.00" y="269.60" width="16.85" height="1.05" fill="#f2b42d"/>
<rect x="37.80" y="269.60" width="16.85" height="1.05" fill="#9e207e"/>
<rect x="54.60" y="269.60" width="16.85" height="1.05" fill="#a92479"/>
<rect x="71.40" y="269.60" width="16.85" height="1.05" fill="#a4217b"/>
<rect x="88.20" y="269.60" width="16.85" height="1.05" fill="#e88a43"/>
<rect x="105.00" y="269.60" width="16.85" height="1.05" fill="#ba3770"/>
<rect x="121.80" y="269.60" width="16.85" height="1.05" fill="#402082"/>
<rect x="138.60" y="269.60" width="16.85" height="1.05" fill="#bc3a6f"/>
<rect x="155.40" y="269.60" width="16.85" height="1.05" fill="#e0794c"/>
<rect x="172.20" y="269.60" width="16.85" height="1.05" fill="#d25d5c"/>
<rect x="21.00" y="270.60" width="16.85" height="1.05" fill="#f0a833"/>
<rect x="37.80" y="270.60" width="16.85" height="1.05" fill="#c84868"/>
<rect x="54.60" y="270.60" width="16.85" height="1.05" fill="#bd3b6e"/>
<rect x="71.40" y="270.60" width="16.85" height="1.05" fill="#d35e5c"/>
<rect x="88.20" y="270.60" width="16.85" height="1.05" fill="#d76657"/>
<rect x="105.00" y="270.60" width="16.85" height="1.05" fill="#a92379"/>
<rect x="121.80" y="270.60" width="16.85" height="1.05" fill="#602088"/>
<rect x="138.60" y="270.60" width="16.85" height="1.05" fill="#de744f"/>
<rect x="155.40" y="270.60" width="16.85" height="1.05" fill="#e58247"/>
<rect x="172.20" y="270.60" width="16.85" height="1.05" fill="#cc5063"/>
<rect x="21.00" y="271.60" width="16.85" height="1.05" fill="#eb953d"/>
<rect x="37.80" y="271.60" width="16.85" height="1.05" fill="#851d86"/>
<rect x="54.60" y="271.60" width="16.85" height="1.05" fill="#9d207e"/>
<rect x="71.40" y="271.60" width="16.85" height="1.05" fill="#b12d75"/>
<rect x="88.20" y="271.60" width="16.85" height="1.05" fill="#b93770"/>
<rect x="105.00" y="271.60" width="16.85" height="1.05" fill="#a4217b"/>
<rect x="121.80" y="271.60" width="16.85" height="1.05" fill="#412082"/>
<rect x="138.60" y="271.60" width="16.85" height="1.05" fill="#ac2778"/>
<rect x="155.40" y="271.60" width="16.85" height="1.05" fill="#c3426b"/>
<rect x="172.20" y="271.60" width="16.85" height="1.05" fill="#ae2976"/>
<rect x="21.00" y="272.60" width="16.85" height="1.05" fill="#ec9a3a"/>
<rect x="37.80" y="272.60" width="16.85" height="1.05" fill="#982080"/>
<rect x="54.60" y="272.60" width="16.85" height="1.05" fill="#a1217c"/>
<rect x="71.40" y="272.60" width="16.85" height="1.05" fill="#de744f"/>
<rect x="88.20" y="272.60" width="16.85" height="1.05" fill="#ea933e"/>
<rect x="105.00" y="272.60" width="16.85" height="1.05" fill="#b32f74"/>
<rect x="121.80" y="272.60" width="16.85" height="1.05" fill="#4c2288"/>
<rect x="138.60" y="272.60" width="16.85" height="1.05" fill="#a0217d"/>
<rect x="155.40" y="272.60" width="16.85" height="1.05" fill="#d66359"/>
<rect x="172.20" y="272.60" width="16.85" height="1.05" fill="#c2416b"/>
<rect x="21.00" y="273.60" width="16.85" height="1.05" fill="#f0aa31"/>
<rect x="37.80" y="273.60" width="16.85" height="1.05" fill="#911f82"/>
<rect x="54.60" y="273.60" width="16.85" height="1.05" fill="#831c87"/>
<rect x="71.40" y="273.60" width="16.85" height="1.05" fill="#ea933e"/>
<rect x="88.20" y="273.60" width="16.85" height="1.05" fill="#ea933e"/>
<rect x="105.00" y="273.60" width="16.85" height="1.05" fill="#911f82"/>
<rect x="121.80" y="273.60" width="16.85" height="1.05" fill="#651f88"/>
<rect x="138.60" y="273.60" width="16.85" height="1.05" fill="#8d1e83"/>
<rect x="155.40" y="273.60" width="16.85" height="1.05" fill="#ea933e"/>
<rect x="172.20" y="273.60" width="16.85" height="1.05" fill="#df754e"/>
<rect x="21.00" y="274.60" width="16.85" height="1.05" fill="#eea136"/>
<rect x="37.80" y="274.60" width="16.85" height="1.05" fill="#492287"/>
<rect x="54.60" y="274.60" width="16.85" height="1.05" fill="#99207f"/>
<rect x="71.40" y="274.60" width="16.85" height="1.05" fill="#9b207f"/>
<rect x="88.20" y="274.60" width="16.85" height="1.05" fill="#ea933e"/>
<rect x="105.00" y="274.60" width="16.85" height="1.05" fill="#522188"/>
<rect x="121.80" y="274.60" width="16.85" height="1.05" fill="#3a1f7e"/>
<rect x="138.60" y="274.60" width="16.85" height="1.05" fill="#b83571"/>
<rect x="155.40" y="274.60" width="16.85" height="1.05" fill="#ea933e"/>
<rect x="172.20" y="274.60" width="16.85" height="1.05" fill="#a0217d"/>
<rect x="21.00" y="275.60" width="16.85" height="1.05" fill="#f2ba2c"/>
<rect x="37.80" y="275.60" width="16.85" height="1.05" fill="#6c1e88"/>
<rect x="54.60" y="275.60" width="16.85" height="1.05" fill="#7f1c88"/>
<rect x="71.40" y="275.60" width="16.85" height="1.05" fill="#6e1e88"/>
<rect x="88.20" y="275.60" width="16.85" height="1.05" fill="#c5446a"/>
<rect x="105.00" y="275.60" width="16.85" height="1.05" fill="#402081"/>
<rect x="121.80" y="275.60" width="16.85" height="1.05" fill="#1f1a6c"/>
<rect x="138.60" y="275.60" width="16.85" height="1.05" fill="#c2416b"/>
<rect x="155.40" y="275.60" width="16.85" height="1.05" fill="#e9913f"/>
<rect x="172.20" y="275.60" width="16.85" height="1.05" fill="#c5446a"/>
<rect x="21.00" y="276.60" width="16.85" height="1.05" fill="#eea236"/>
<rect x="37.80" y="276.60" width="16.85" height="1.05" fill="#671f88"/>
<rect x="54.60" y="276.60" width="16.85" height="1.05" fill="#a7227a"/>
<rect x="71.40" y="276.60" width="16.85" height="1.05" fill="#611f88"/>
<rect x="88.20" y="276.60" width="16.85" height="1.05" fill="#a6227b"/>
<rect x="105.00" y="276.60" width="16.85" height="1.05" fill="#891d85"/>
<rect x="121.80" y="276.60" width="16.85" height="1.05" fill="#611f88"/>
<rect x="138.60" y="276.60" width="16.85" height="1.05" fill="#d56259"/>
<rect x="155.40" y="276.60" width="16.85" height="1.05" fill="#ea933e"/>
<rect x="172.20" y="276.60" width="16.85" height="1.05" fill="#c4436a"/>
<rect x="21.00" y="277.60" width="16.85" height="1.05" fill="#f0a733"/>
<rect x="37.80" y="277.60" width="16.85" height="1.05" fill="#661f88"/>
<rect x="54.60" y="277.60" width="16.85" height="1.05" fill="#911f82"/>
<rect x="71.40" y="277.60" width="16.85" height="1.05" fill="#402082"/>
<rect x="88.20" y="277.60" width="16.85" height="1.05" fill="#8c1e84"/>
<rect x="105.00" y="277.60" width="16.85" height="1.05" fill="#8d1e84"/>
<rect x="121.80" y="277.60" width="16.85" height="1.05" fill="#532188"/>
<rect x="138.60" y="277.60" width="16.85" height="1.05" fill="#b22e74"/>
<rect x="155.40" y="277.60" width="16.85" height="1.05" fill="#ea933e"/>
<rect x="172.20" y="277.60" width="16.85" height="1.05" fill="#b32f74"/>
<rect x="21.00" y="278.60" width="16.85" height="1.05" fill="#f3c32a"/>
<rect x="37.80" y="278.60" width="16.85" height="1.05" fill="#6c1e88"/>
<rect x="54.60" y="278.60" width="16.85" height="1.05" fill="#7f1c88"/>
<rect x="71.40" y="278.60" width="16.85" height="1.05" fill="#871d86"/>
<rect x="88.20" y="278.60" width="16.85" height="1.05" fill="#a7227a"/>
<rect x="105.00" y="278.60" width="16.85" height="1.05" fill="#c5446a"/>
<rect x="121.80" y="278.60" width="16.85" height="1.05" fill="#651f88"/>
<rect x="138.60" y="278.60" width="16.85" height="1.05" fill="#d45f5b"/>
<rect x="155.40" y="278.60" width="16.85" height="1.05" fill="#ea933e"/>
<rect x="172.20" y="278.60" width="16.85" height="1.05" fill="#7b1d88"/>
<rect x="21.00" y="279.60" width="16.85" height="1.05" fill="#eb963c"/>
<rect x="37.80" y="279.60" width="16.85" height="1.05" fill="#6a1e88"/>
<rect x="54.60" y="279.60" width="16.85" height="1.05" fill="#9a207f"/>
<rect x="71.40" y="279.60" width="16.85" height="1.05" fill="#a7227a"/>
<rect x="88.20" y="279.60" width="16.85" height="1.05" fill="#d66358"/>
<rect x="105.00" y="279.60" width="16.85" height="1.05" fill="#d25c5c"/>
<rect x="121.80" y="279.60" width="16.85" height="1.05" fill="#321e78"/>
<rect x="138.60" y="279.60" width="16.85" height="1.05" fill="#ba3770"/>
<rect x="155.40" y="279.60" width="16.85" height="1.05" fill="#a92379"/>
<rect x="172.20" y="279.60" width="16.85" height="1.05" fill="#8f1e83"/>
<rect x="21.00" y="280.60" width="16.85" height="1.05" fill="#931f81"/>
<rect x="37.80" y="280.60" width="16.85" height="1.05" fill="#f2b22e"/>
<rect x="54.60" y="280.60" width="16.85" height="1.05" fill="#871d86"/>
<rect x="71.40" y="280.60" width="16.85" height="1.05" fill="#c2406c"/>
<rect x="88.20" y="280.60" width="16.85" height="1.05" fill="#961f80"/>
<rect x="105.00" y="280.60" width="16.85" height="1.05" fill="#b83571"/>
<rect x="121.80" y="280.60" width="16.85" height="1.05" fill="#522188"/>
<rect x="138.60" y="280.60" width="16.85" height="1.05" fill="#ea933e"/>
<rect x="155.40" y="280.60" width="16.85" height="1.05" fill="#b73472"/>
<rect x="172.20" y="280.60" width="16.85" height="1.05" fill="#8e1e83"/>
<rect x="21.00" y="281.60" width="16.85" height="1.05" fill="#9c207e"/>
<rect x="37.80" y="281.60" width="16.85" height="1.05" fill="#f2b12e"/>
<rect x="54.60" y="281.60" width="16.85" height="1.05" fill="#881d85"/>
<rect x="71.40" y="281.60" width="16.85" height="1.05" fill="#a6227b"/>
<rect x="88.20" y="281.60" width="16.85" height="1.05" fill="#7a1d88"/>
<rect x="105.00" y="281.60" width="16.85" height="1.05" fill="#a2217c"/>
<rect x="121.80" y="281.60" width="16.85" height="1.05" fill="#921f82"/>
<rect x="138.60" y="281.60" width="16.85" height="1.05" fill="#ea933e"/>
<rect x="155.40" y="281.60" width="16.85" height="1.05" fill="#ae2a76"/>
<rect x="172.20" y="281.60" width="16.85" height="1.05" fill="#8c1e84"/>
<rect x="21.00" y="282.60" width="16.85" height="1.05" fill="#a8227a"/>
<rect x="37.80" y="282.60" width="16.85" height="1.05" fill="#ed9e38"/>
<rect x="54.60" y="282.60" width="16.85" height="1.05" fill="#951f81"/>
<rect x="71.40" y="282.60" width="16.85" height="1.05" fill="#a7227a"/>
<rect x="88.20" y="282.60" width="16.85" height="1.05" fill="#7a1d88"/>
<rect x="105.00" y="282.60" width="16.85" height="1.05" fill="#911f82"/>
<rect x="121.80" y="282.60" width="16.85" height="1.05" fill="#681f88"/>
<rect x="138.60" y="282.60" width="16.85" height="1.05" fill="#ca4c66"/>
<rect x="155.40" y="282.60" width="16.85" height="1.05" fill="#c03f6c"/>
<rect x="172.20" y="282.60" width="16.85" height="1.05" fill="#4b2288"/>
<rect x="21.00" y="283.60" width="16.85" height="1.05" fill="#911f82"/>
<rect x="37.80" y="283.60" width="16.85" height="1.05" fill="#ed9f37"/>
<rect x="54.60" y="283.60" width="16.85" height="1.05" fill="#961f80"/>
<rect x="71.40" y="283.60" width="16.85" height="1.05" fill="#bc3a6f"/>
<rect x="88.20" y="283.60" width="16.85" height="1.05" fill="#8f1e83"/>
<rect x="105.00" y="283.60" width="16.85" height="1.05" fill="#982080"/>
<rect x="121.80" y="283.60" width="16.85" height="1.05" fill="#592088"/>
<rect x="138.60" y="283.60" width="16.85" height="1.05" fill="#c64669"/>
<rect x="155.40" y="283.60" width="16.85" height="1.05" fill="#c84868"/>
<rect x="172.20" y="283.60" width="16.85" height="1.05" fill="#602088"/>
<rect x="21.00" y="284.60" width="16.85" height="1.05" fill="#681f88"/>
<rect x="37.80" y="284.60" width="16.85" height="1.05" fill="#ea943d"/>
<rect x="54.60" y="284.60" width="16.85" height="1.05" fill="#631f88"/>
<rect x="71.40" y="284.60" width="16.85" height="1.05" fill="#c03e6d"/>
<rect x="88.20" y="284.60" width="16.85" height="1.05" fill="#9a207f"/>
<rect x="105.00" y="284.60" width="16.85" height="1.05" fill="#911f82"/>
<rect x="121.80" y="284.60" width="16.85" height="1.05" fill="#861d86"/>
<rect x="138.60" y="284.60" width="16.85" height="1.05" fill="#af2a76"/>
<rect x="155.40" y="284.60" width="16.85" height="1.05" fill="#c13f6c"/>
<rect x="172.20" y="284.60" width="16.85" height="1.05" fill="#861d86"/>
<rect x="21.00" y="285.60" width="16.85" height="1.05" fill="#492288"/>
<rect x="37.80" y="285.60" width="16.85" height="1.05" fill="#eb983b"/>
<rect x="54.60" y="285.60" width="16.85" height="1.05" fill="#8c1e84"/>
<rect x="71.40" y="285.60" width="16.85" height="1.05" fill="#c84868"/>
<rect x="88.20" y="285.60" width="16.85" height="1.05" fill="#741d88"/>
<rect x="105.00" y="285.60" width="16.85" height="1.05" fill="#b22e74"/>
<rect x="121.80" y="285.60" width="16.85" height="1.05" fill="#691f88"/>
<rect x="138.60" y="285.60" width="16.85" height="1.05" fill="#a92479"/>
<rect x="155.40" y="285.60" width="16.85" height="1.05" fill="#9a207f"/>
<rect x="172.20" y="285.60" width="16.85" height="1.05" fill="#7b1d88"/>
<rect x="21.00" y="286.60" width="16.85" height="1.05" fill="#492287"/>
<rect x="37.80" y="286.60" width="16.85" height="1.05" fill="#ea913f"/>
<rect x="54.60" y="286.60" width="16.85" height="1.05" fill="#951f81"/>
<rect x="71.40" y="286.60" width="16.85" height="1.05" fill="#dc7051"/>
<rect x="88.20" y="286.60" width="16.85" height="1.05" fill="#cc5063"/>
<rect x="105.00" y="286.60" width="16.85" height="1.05" fill="#9d207e"/>
<rect x="121.80" y="286.60" width="16.85" height="1.05" fill="#351e7a"/>
<rect x="138.60" y="286.60" width="16.85" height="1.05" fill="#a5227b"/>
<rect x="155.40" y="286.60" width="16.85" height="1.05" fill="#771d88"/>
<rect x="172.20" y="286.60" width="16.85" height="1.05" fill="#b63272"/>
<rect x="21.00" y="287.60" width="16.85" height="1.05" fill="#6f1e88"/>
<rect x="37.80" y="287.60" width="16.85" height="1.05" fill="#f3c42a"/>
<rect x="54.60" y="287.60" width="16.85" height="1.05" fill="#b73471"/>
<rect x="71.40" y="287.60" width="16.85" height="1.05" fill="#a7227a"/>
<rect x="88.20" y="287.60" width="16.85" height="1.05" fill="#c03f6c"/>
<rect x="105.00" y="287.60" width="16.85" height="1.05" fill="#b02c75"/>
<rect x="121.80" y="287.60" width="16.85" height="1.05" fill="#631f88"/>
<rect x="138.60" y="287.60" width="16.85" height="1.05" fill="#cc5064"/>
<rect x="155.40" y="287.60" width="16.85" height="1.05" fill="#931f81"/>
<rect x="172.20" y="287.60" width="16.85" height="1.05" fill="#bf3e6d"/>
<rect x="21.00" y="288.60" width="16.85" height="1.05" fill="#611f88"/>
<rect x="37.80" y="288.60" width="16.85" height="1.05" fill="#f3d327"/>
<rect x="54.60" y="288.60" width="16.85" height="1.05" fill="#aa2579"/>
<rect x="71.40" y="288.60" width="16.85" height="1.05" fill="#a3217c"/>
<rect x="88.20" y="288.60" width="16.85" height="1.05" fill="#801c88"/>
<rect x="105.00" y="288.60" width="16.85" height="1.05" fill="#a2217c"/>
<rect x="121.80" y="288.60" width="16.85" height="1.05" fill="#7a1d88"/>
<rect x="138.60" y="288.60" width="16.85" height="1.05" fill="#a2217c"/>
<rect x="155.40" y="288.60" width="16.85" height="1.05" fill="#af2a76"/>
<rect x="172.20" y="288.60" width="16.85" height="1.05" fill="#9a207f"/>
<rect x="21.00" y="289.60" width="16.85" height="1.05" fill="#841d87"/>
<rect x="37.80" y="289.60" width="16.85" height="1.05" fill="#f2b12e"/>
<rect x="54.60" y="289.60" width="16.85" height="1.05" fill="#cb4d65"/>
<rect x="71.40" y="289.60" width="16.85" height="1.05" fill="#9c207e"/>
<rect x="88.20" y="289.60" width="16.85" height="1.05" fill="#c64669"/>
<rect x="105.00" y="289.60" width="16.85" height="1.05" fill="#9a207f"/>
<rect x="121.80" y="289.60" width="16.85" height="1.05" fill="#651f88"/>
<rect x="138.60" y="289.60" width="16.85" height="1.05" fill="#d0575f"/>
<rect x="155.40" y="289.60" width="16.85" height="1.05" fill="#931f81"/>
<rect x="172.20" y="289.60" width="16.85" height="1.05" fill="#982080"/>
<rect x="21.00" y="290.60" width="16.85" height="1.05" fill="#bb3870"/>
<rect x="37.80" y="290.60" width="16.85" height="1.05" fill="#e68545"/>
<rect x="54.60" y="290.60" width="16.85" height="1.05" fill="#ca4b66"/>
<rect x="71.40" y="290.60" width="16.85" height="1.05" fill="#d35d5c"/>
<rect x="88.20" y="290.60" width="16.85" height="1.05" fill="#dc7051"/>
<rect x="105.00" y="290.60" width="16.85" height="1.05" fill="#a5227b"/>
<rect x="121.80" y="290.60" width="16.85" height="1.05" fill="#641f88"/>
<rect x="138.60" y="290.60" width="16.85" height="1.05" fill="#cf5560"/>
<rect x="155.40" y="290.60" width="16.85" height="1.05" fill="#811c88"/>
<rect x="172.20" y="290.60" width="16.85" height="1.05" fill="#99207f"/>
<rect x="21.00" y="291.60" width="16.85" height="1.05" fill="#a4217b"/>
<rect x="37.80" y="291.60" width="16.85" height="1.05" fill="#f3ca29"/>
<rect x="54.60" y="291.60" width="16.85" height="1.05" fill="#a7227a"/>
<rect x="71.40" y="291.60" width="16.85" height="1.05" fill="#8b1e84"/>
<rect x="88.20" y="291.60" width="16.85" height="1.05" fill="#d96a55"/>
<rect x="105.00" y="291.60" width="16.85" height="1.05" fill="#841d87"/>
<rect x="121.80" y="291.60" width="16.85" height="1.05" fill="#572188"/>
<rect x="138.60" y="291.60" width="16.85" height="1.05" fill="#c5456a"/>
<rect x="155.40" y="291.60" width="16.85" height="1.05" fill="#7e1c88"/>
<rect x="172.20" y="291.60" width="16.85" height="1.05" fill="#741d88"/>
<rect x="21.00" y="292.60" width="16.85" height="1.05" fill="#d86955"/>
<rect x="37.80" y="292.60" width="16.85" height="1.05" fill="#ed9f37"/>
<rect x="54.60" y="292.60" width="16.85" height="1.05" fill="#9c207e"/>
<rect x="71.40" y="292.60" width="16.85" height="1.05" fill="#af2b76"/>
<rect x="88.20" y="292.60" width="16.85" height="1.05" fill="#d56359"/>
<rect x="105.00" y="292.60" width="16.85" height="1.05" fill="#ac2778"/>
<rect x="121.80" y="292.60" width="16.85" height="1.05" fill="#7d1c88"/>
<rect x="138.60" y="292.60" width="16.85" height="1.05" fill="#931f81"/>
<rect x="155.40" y="292.60" width="16.85" height="1.05" fill="#731d88"/>
<rect x="172.20" y="292.60" width="16.85" height="1.05" fill="#871d85"/>
<rect x="21.00" y="293.60" width="16.85" height="1.05" fill="#e58147"/>
<rect x="37.80" y="293.60" width="16.85" height="1.05" fill="#f2b82c"/>
<rect x="54.60" y="293.60" width="16.85" height="1.05" fill="#9b207e"/>
<rect x="71.40" y="293.60" width="16.85" height="1.05" fill="#ae2977"/>
<rect x="88.20" y="293.60" width="16.85" height="1.05" fill="#c5456a"/>
<rect x="105.00" y="293.60" width="16.85" height="1.05" fill="#bb396f"/>
<rect x="121.80" y="293.60" width="16.85" height="1.05" fill="#951f81"/>
<rect x="138.60" y="293.60" width="16.85" height="1.05" fill="#ad2877"/>
<rect x="155.40" y="293.60" width="16.85" height="1.05" fill="#791d88"/>
<rect x="172.20" y="293.60" width="16.85" height="1.05" fill="#7e1c88"/>
<rect x="21.00" y="294.60" width="16.85" height="1.05" fill="#e99040"/>
<rect x="37.80" y="294.60" width="16.85" height="1.05" fill="#f3c52a"/>
<rect x="54.60" y="294.60" width="16.85" height="1.05" fill="#bb396f"/>
<rect x="71.40" y="294.60" width="16.85" height="1.05" fill="#c4446a"/>
<rect x="88.20" y="294.60" width="16.85" height="1.05" fill="#c2416b"/>
<rect x="105.00" y="294.60" width="16.85" height="1.05" fill="#cf5660"/>
<rect x="121.80" y="294.60" width="16.85" height="1.05" fill="#731d88"/>
<rect x="138.60" y="294.60" width="16.85" height="1.05" fill="#c03e6d"/>
<rect x="155.40" y="294.60" width="16.85" height="1.05" fill="#801c88"/>
<rect x="172.20" y="294.60" width="16.85" height="1.05" fill="#a9237a"/>
<rect x="21.00" y="295.60" width="16.85" height="1.05" fill="#c1406c"/>
<rect x="37.80" y="295.60" width="16.85" height="1.05" fill="#f2b62d"/>
<rect x="54.60" y="295.60" width="16.85" height="1.05" fill="#c4436a"/>
<rect x="71.40" y="295.60" width="16.85" height="1.05" fill="#8e1e83"/>
<rect x="88.20" y="295.60" width="16.85" height="1.05" fill="#901e82"/>
<rect x="105.00" y="295.60" width="16.85" height="1.05" fill="#ca4d65"/>
<rect x="121.80" y="295.60" width="16.85" height="1.05" fill="#462185"/>
<rect x="138.60" y="295.60" width="16.85" height="1.05" fill="#c74669"/>
<rect x="155.40" y="295.60" width="16.85" height="1.05" fill="#711e88"/>
<rect x="172.20" y="295.60" width="16.85" height="1.05" fill="#921f82"/>
<rect x="21.00" y="296.60" width="16.85" height="1.05" fill="#b63372"/>
<rect x="37.80" y="296.60" width="16.85" height="1.05" fill="#eea136"/>
<rect x="54.60" y="296.60" width="16.85" height="1.05" fill="#871d85"/>
<rect x="71.40" y="296.60" width="16.85" height="1.05" fill="#bc3a6f"/>
<rect x="88.20" y="296.60" width="16.85" height="1.05" fill="#9f217d"/>
<rect x="105.00" y="296.60" width="16.85" height="1.05" fill="#ea933e"/>
<rect x="121.80" y="296.60" width="16.85" height="1.05" fill="#562188"/>
<rect x="138.60" y="296.60" width="16.85" height="1.05" fill="#b22d75"/>
<rect x="155.40" y="296.60" width="16.85" height="1.05" fill="#791d88"/>
<rect x="172.20" y="296.60" width="16.85" height="1.05" fill="#b12d75"/>
<rect x="21.00" y="297.60" width="16.85" height="1.05" fill="#c4436a"/>
<rect x="37.80" y="297.60" width="16.85" height="1.05" fill="#f2b92c"/>
<rect x="54.60" y="297.60" width="16.85" height="1.05" fill="#811c88"/>
<rect x="71.40" y="297.60" width="16.85" height="1.05" fill="#bb386f"/>
<rect x="88.20" y="297.60" width="16.85" height="1.05" fill="#a1217c"/>
<rect x="105.00" y="297.60" width="16.85" height="1.05" fill="#cb4e64"/>
<rect x="121.80" y="297.60" width="16.85" height="1.05" fill="#8a1e84"/>
<rect x="138.60" y="297.60" width="16.85" height="1.05" fill="#d86756"/>
<rect x="155.40" y="297.60" width="16.85" height="1.05" fill="#99207f"/>
<rect x="172.20" y="297.60" width="16.85" height="1.05" fill="#982080"/>
<rect x="21.00" y="298.60" width="16.85" height="1.05" fill="#ad2877"/>
<rect x="37.80" y="298.60" width="16.85" height="1.05" fill="#f0aa31"/>
<rect x="54.60" y="298.60" width="16.85" height="1.05" fill="#442184"/>
<rect x="71.40" y="298.60" width="16.85" height="1.05" fill="#941f81"/>
<rect x="88.20" y="298.60" width="16.85" height="1.05" fill="#621f88"/>
<rect x="105.00" y="298.60" width="16.85" height="1.05" fill="#a92479"/>
<rect x="121.80" y="298.60" width="16.85" height="1.05" fill="#6e1e88"/>
<rect x="138.60" y="298.60" width="16.85" height="1.05" fill="#ca4c66"/>
<rect x="155.40" y="298.60" width="16.85" height="1.05" fill="#8d1e84"/>
<rect x="172.20" y="298.60" width="16.85" height="1.05" fill="#871d86"/>
<rect x="21.00" y="299.60" width="16.85" height="1.05" fill="#9d207e"/>
<rect x="37.80" y="299.60" width="16.85" height="1.05" fill="#eea136"/>
<rect x="54.60" y="299.60" width="16.85" height="1.05" fill="#631f88"/>
<rect x="71.40" y="299.60" width="16.85" height="1.05" fill="#9e207e"/>
<rect x="88.20" y="299.60" width="16.85" height="1.05" fill="#951f81"/>
<rect x="105.00" y="299.60" width="16.85" height="1.05" fill="#d5615a"/>
<rect x="121.80" y="299.60" width="16.85" height="1.05" fill="#2c1c75"/>
<rect x="138.60" y="299.60" width="16.85" height="1.05" fill="#d4615a"/>
<rect x="155.40" y="299.60" width="16.85" height="1.05" fill="#901e82"/>
<rect x="172.20" y="299.60" width="16.85" height="1.05" fill="#cc5163"/>
<rect x="21.00" y="300.60" width="16.85" height="1.05" fill="#821c87"/>
<rect x="37.80" y="300.60" width="16.85" height="1.05" fill="#f2b62d"/>
<rect x="54.60" y="300.60" width="16.85" height="1.05" fill="#7f1c88"/>
<rect x="71.40" y="300.60" width="16.85" height="1.05" fill="#c84868"/>
<rect x="88.20" y="300.60" width="16.85" height="1.05" fill="#921f82"/>
<rect x="105.00" y="300.60" width="16.85" height="1.05" fill="#d15b5d"/>
<rect x="121.80" y="300.60" width="16.85" height="1.05" fill="#582088"/>
<rect x="138.60" y="300.60" width="16.85" height="1.05" fill="#dd7250"/>
<rect x="155.40" y="300.60" width="16.85" height="1.05" fill="#9a207f"/>
<rect x="172.20" y="300.60" width="16.85" height="1.05" fill="#951f81"/>
<rect x="21.00" y="301.60" width="16.85" height="1.05" fill="#a4217b"/>
<rect x="37.80" y="301.60" width="16.85" height="1.05" fill="#7f1c88"/>
<rect x="54.60" y="301.60" width="16.85" height="1.05" fill="#eea136"/>
<rect x="71.40" y="301.60" width="16.85" height="1.05" fill="#a6227b"/>
<rect x="88.20" y="301.60" width="16.85" height="1.05" fill="#d0585f"/>
<rect x="105.00" y="301.60" width="16.85" height="1.05" fill="#da6c54"/>
<rect x="121.80" y="301.60" width="16.85" height="1.05" fill="#7d1c88"/>
<rect x="138.60" y="301.60" width="16.85" height="1.05" fill="#b73472"/>
<rect x="155.40" y="301.60" width="16.85" height="1.05" fill="#7d1c88"/>
<rect x="172.20" y="301.60" width="16.85" height="1.05" fill="#871d86"/>
<rect x="21.00" y="302.60" width="16.85" height="1.05" fill="#721e88"/>
<rect x="37.80" y="302.60" width="16.85" height="1.05" fill="#592088"/>
<rect x="54.60" y="302.60" width="16.85" height="1.05" fill="#eea236"/>
<rect x="71.40" y="302.60" width="16.85" height="1.05" fill="#6a1e88"/>
<rect x="88.20" y="302.60" width="16.85" height="1.05" fill="#e37f49"/>
<rect x="105.00" y="302.60" width="16.85" height="1.05" fill="#bc396f"/>
<rect x="121.80" y="302.60" width="16.85" height="1.05" fill="#681f88"/>
<rect x="138.60" y="302.60" width="16.85" height="1.05" fill="#c54569"/>
<rect x="155.40" y="302.60" width="16.85" height="1.05" fill="#731d88"/>
<rect x="172.20" y="302.60" width="16.85" height="1.05" fill="#442184"/>
<rect x="21.00" y="303.60" width="16.85" height="1.05" fill="#7a1d88"/>
<rect x="37.80" y="303.60" width="16.85" height="1.05" fill="#b32f74"/>
<rect x="54.60" y="303.60" width="16.85" height="1.05" fill="#ed9c39"/>
<rect x="71.40" y="303.60" width="16.85" height="1.05" fill="#761d88"/>
<rect x="88.20" y="303.60" width="16.85" height="1.05" fill="#c3426b"/>
<rect x="105.00" y="303.60" width="16.85" height="1.05" fill="#d4605a"/>
<rect x="121.80" y="303.60" width="16.85" height="1.05" fill="#6c1e88"/>
<rect x="138.60" y="303.60" width="16.85" height="1.05" fill="#b83471"/>
<rect x="155.40" y="303.60" width="16.85" height="1.05" fill="#8e1e83"/>
<rect x="172.20" y="303.60" width="16.85" height="1.05" fill="#691f88"/>
<rect x="21.00" y="304.60" width="16.85" height="1.05" fill="#ab2678"/>
<rect x="37.80" y="304.60" width="16.85" height="1.05" fill="#af2a76"/>
<rect x="54.60" y="304.60" width="16.85" height="1.05" fill="#efa435"/>
<rect x="71.40" y="304.60" width="16.85" height="1.05" fill="#661f88"/>
<rect x="88.20" y="304.60" width="16.85" height="1.05" fill="#d5615a"/>
<rect x="105.00" y="304.60" width="16.85" height="1.05" fill="#ea933e"/>
<rect x="121.80" y="304.60" width="16.85" height="1.05" fill="#771d88"/>
<rect x="138.60" y="304.60" width="16.85" height="1.05" fill="#941f81"/>
<rect x="155.40" y="304.60" width="16.85" height="1.05" fill="#8c1e84"/>
<rect x="172.20" y="304.60" width="16.85" height="1.05" fill="#671f88"/>
<rect x="21.00" y="305.60" width="16.85" height="1.05" fill="#8c1e84"/>
<rect x="37.80" y="305.60" width="16.85" height="1.05" fill="#ba3770"/>
<rect x="54.60" y="305.60" width="16.85" height="1.05" fill="#f2b92c"/>
<rect x="71.40" y="305.60" width="16.85" height="1.05" fill="#532188"/>
<rect x="88.20" y="305.60" width="16.85" height="1.05" fill="#982080"/>
<rect x="105.00" y="305.60" width="16.85" height="1.05" fill="#e78745"/>
<rect x="121.80" y="305.60" width="16.85" height="1.05" fill="#6f1e88"/>
<rect x="138.60" y="305.60" width="16.85" height="1.05" fill="#572188"/>
<rect x="155.40" y="305.60" width="16.85" height="1.05" fill="#641f88"/>
<rect x="172.20" y="305.60" width="16.85" height="1.05" fill="#6b1e88"/>
<rect x="21.00" y="306.60" width="16.85" height="1.05" fill="#b53273"/>
<rect x="37.80" y="306.60" width="16.85" height="1.05" fill="#bf3e6d"/>
<rect x="54.60" y="306.60" width="16.85" height="1.05" fill="#f2b02e"/>
<rect x="71.40" y="306.60" width="16.85" height="1.05" fill="#861d86"/>
<rect x="88.20" y="306.60" width="16.85" height="1.05" fill="#c2416b"/>
<rect x="105.00" y="306.60" width="16.85" height="1.05" fill="#ea933e"/>
<rect x="121.80" y="306.60" width="16.85" height="1.05" fill="#6e1e88"/>
<rect x="138.60" y="306.60" width="16.85" height="1.05" fill="#741d88"/>
<rect x="155.40" y="306.60" width="16.85" height="1.05" fill="#b63372"/>
<rect x="172.20" y="306.60" width="16.85" height="1.05" fill="#8b1e84"/>
<rect x="21.00" y="307.60" width="16.85" height="1.05" fill="#b12d75"/>
<rect x="37.80" y="307.60" width="16.85" height="1.05" fill="#ba3770"/>
<rect x="54.60" y="307.60" width="16.85" height="1.05" fill="#f2af2e"/>
<rect x="71.40" y="307.60" width="16.85" height="1.05" fill="#671f88"/>
<rect x="88.20" y="307.60" width="16.85" height="1.05" fill="#b83571"/>
<rect x="105.00" y="307.60" width="16.85" height="1.05" fill="#ea933e"/>
<rect x="121.80" y="307.60" width="16.85" height="1.05" fill="#99207f"/>
<rect x="138.60" y="307.60" width="16.85" height="1.05" fill="#972080"/>
<rect x="155.40" y="307.60" width="16.85" height="1.05" fill="#ce5561"/>
<rect x="172.20" y="307.60" width="16.85" height="1.05" fill="#ab2678"/>
<rect x="21.00" y="308.60" width="16.85" height="1.05" fill="#a2217c"/>
<rect x="37.80" y="308.60" width="16.85" height="1.05" fill="#a6227b"/>
<rect x="54.60" y="308.60" width="16.85" height="1.05" fill="#f3d227"/>
<rect x="71.40" y="308.60" width="16.85" height="1.05" fill="#6d1e88"/>
<rect x="88.20" y="308.60" width="16.85" height="1.05" fill="#a1217c"/>
<rect x="105.00" y="308.60" width="16.85" height="1.05" fill="#ea933e"/>
<rect x="121.80" y="308.60" width="16.85" height="1.05" fill="#881d85"/>
<rect x="138.60" y="308.60" width="16.85" height="1.05" fill="#a4217c"/>
<rect x="155.40" y="308.60" width="16.85" height="1.05" fill="#ab2578"/>
<rect x="172.20" y="308.60" width="16.85" height="1.05" fill="#881d85"/>
<rect x="21.00" y="309.60" width="16.85" height="1.05" fill="#bf3d6d"/>
<rect x="37.80" y="309.60" width="16.85" height="1.05" fill="#921f82"/>
<rect x="54.60" y="309.60" width="16.85" height="1.05" fill="#f2bd2c"/>
<rect x="71.40" y="309.60" width="16.85" height="1.05" fill="#6e1e88"/>
<rect x="88.20" y="309.60" width="16.85" height="1.05" fill="#b53173"/>
<rect x="105.00" y="309.60" width="16.85" height="1.05" fill="#ea933e"/>
<rect x="121.80" y="309.60" width="16.85" height="1.05" fill="#a8227a"/>
<rect x="138.60" y="309.60" width="16.85" height="1.05" fill="#5b2088"/>
<rect x="155.40" y="309.60" width="16.85" height="1.05" fill="#c2416b"/>
<rect x="172.20" y="309.60" width="16.85" height="1.05" fill="#861d86"/>
<rect x="21.00" y="310.60" width="16.85" height="1.05" fill="#e68446"/>
<rect x="37.80" y="310.60" width="16.85" height="1.05" fill="#8d1e84"/>
<rect x="54.60" y="310.60" width="16.85" height="1.05" fill="#f4e424"/>
<rect x="71.40" y="310.60" width="16.85" height="1.05" fill="#931f81"/>
<rect x="88.20" y="310.60" width="16.85" height="1.05" fill="#a4217b"/>
<rect x="105.00" y="310.60" width="16.85" height="1.05" fill="#e9913f"/>
<rect x="121.80" y="310.60" width="16.85" height="1.05" fill="#af2b76"/>
<rect x="138.60" y="310.60" width="16.85" height="1.05" fill="#691f88"/>
<rect x="155.40" y="310.60" width="16.85" height="1.05" fill="#701e88"/>
<rect x="172.20" y="310.60" width="16.85" height="1.05" fill="#831c87"/>
<rect x="21.00" y="311.60" width="16.85" height="1.05" fill="#aa2579"/>
<rect x="37.80" y="311.60" width="16.85" height="1.05" fill="#c2416b"/>
<rect x="54.60" y="311.60" width="16.85" height="1.05" fill="#f2b22e"/>
<rect x="71.40" y="311.60" width="16.85" height="1.05" fill="#821c87"/>
<rect x="88.20" y="311.60" width="16.85" height="1.05" fill="#b02b76"/>
<rect x="105.00" y="311.60" width="16.85" height="1.05" fill="#cf5561"/>
<rect x="121.80" y="311.60" width="16.85" height="1.05" fill="#8a1e84"/>
<rect x="138.60" y="311.60" width="16.85" height="1.05" fill="#791d88"/>
<rect x="155.40" y="311.60" width="16.85" height="1.05" fill="#901e82"/>
<rect x="172.20" y="311.60" width="16.85" height="1.05" fill="#7f1c88"/>
<rect x="21.00" y="312.60" width="16.85" height="1.05" fill="#7b1d88"/>
<rect x="37.80" y="312.60" width="16.85" height="1.05" fill="#bc3a6f"/>
<rect x="54.60" y="312.60" width="16.85" height="1.05" fill="#f0a733"/>
<rect x="71.40" y="312.60" width="16.85" height="1.05" fill="#8a1d85"/>
<rect x="88.20" y="312.60" width="16.85" height="1.05" fill="#a6227b"/>
<rect x="105.00" y="312.60" width="16.85" height="1.05" fill="#c3416b"/>
<rect x="121.80" y="312.60" width="16.85" height="1.05" fill="#931f82"/>
<rect x="138.60" y="312.60" width="16.85" height="1.05" fill="#5b2088"/>
<rect x="155.40" y="312.60" width="16.85" height="1.05" fill="#d76757"/>
<rect x="172.20" y="312.60" width="16.85" height="1.05" fill="#8a1d85"/>
<rect x="21.00" y="313.60" width="16.85" height="1.05" fill="#731d88"/>
<rect x="37.80" y="313.60" width="16.85" height="1.05" fill="#d25d5c"/>
<rect x="54.60" y="313.60" width="16.85" height="1.05" fill="#f4dd25"/>
<rect x="71.40" y="313.60" width="16.85" height="1.05" fill="#901e82"/>
<rect x="88.20" y="313.60" width="16.85" height="1.05" fill="#931f81"/>
<rect x="105.00" y="313.60" width="16.85" height="1.05" fill="#bb386f"/>
<rect x="121.80" y="313.60" width="16.85" height="1.05" fill="#a2217c"/>
<rect x="138.60" y="313.60" width="16.85" height="1.05" fill="#5e2088"/>
<rect x="155.40" y="313.60" width="16.85" height="1.05" fill="#a1217c"/>
<rect x="172.20" y="313.60" width="16.85" height="1.05" fill="#6e1e88"/>
<rect x="21.00" y="314.60" width="16.85" height="1.05" fill="#7d1c88"/>
<rect x="37.80" y="314.60" width="16.85" height="1.05" fill="#9f217d"/>
<rect x="54.60" y="314.60" width="16.85" height="1.05" fill="#f2b92c"/>
<rect x="71.40" y="314.60" width="16.85" height="1.05" fill="#ce5561"/>
<rect x="88.20" y="314.60" width="16.85" height="1.05" fill="#d4605b"/>
<rect x="105.00" y="314.60" width="16.85" height="1.05" fill="#a0217d"/>
<rect x="121.80" y="314.60" width="16.85" height="1.05" fill="#9b207f"/>
<rect x="138.60" y="314.60" width="16.85" height="1.05" fill="#6a1e88"/>
<rect x="155.40" y="314.60" width="16.85" height="1.05" fill="#961f80"/>
<rect x="172.20" y="314.60" width="16.85" height="1.05" fill="#982080"/>
<rect x="21.00" y="315.60" width="16.85" height="1.05" fill="#821c87"/>
<rect x="37.80" y="315.60" width="16.85" height="1.05" fill="#901e82"/>
<rect x="54.60" y="315.60" width="16.85" height="1.05" fill="#f2b62d"/>
<rect x="71.40" y="315.60" width="16.85" height="1.05" fill="#d15a5e"/>
<rect x="88.20" y="315.60" width="16.85" height="1.05" fill="#e37e4a"/>
<rect x="105.00" y="315.60" width="16.85" height="1.05" fill="#921f82"/>
<rect x="121.80" y="315.60" width="16.85" height="1.05" fill="#891d85"/>
<rect x="138.60" y="315.60" width="16.85" height="1.05" fill="#602088"/>
<rect x="155.40" y="315.60" width="16.85" height="1.05" fill="#b32f74"/>
<rect x="172.20" y="315.60" width="16.85" height="1.05" fill="#a0217d"/>
<rect x="21.00" y="316.60" width="16.85" height="1.05" fill="#971f80"/>
<rect x="37.80" y="316.60" width="16.85" height="1.05" fill="#661f88"/>
<rect x="54.60" y="316.60" width="16.85" height="1.05" fill="#f3c42a"/>
<rect x="71.40" y="316.60" width="16.85" height="1.05" fill="#c3426b"/>
<rect x="88.20" y="316.60" width="16.85" height="1.05" fill="#ea913f"/>
<rect x="105.00" y="316.60" width="16.85" height="1.05" fill="#961f80"/>
<rect x="121.80" y="316.60" width="16.85" height="1.05" fill="#9a207f"/>
<rect x="138.60" y="316.60" width="16.85" height="1.05" fill="#691f88"/>
<rect x="155.40" y="316.60" width="16.85" height="1.05" fill="#a4217b"/>
<rect x="172.20" y="316.60" width="16.85" height="1.05" fill="#b32f74"/>
<rect x="21.00" y="317.60" width="16.85" height="1.05" fill="#7d1c88"/>
<rect x="37.80" y="317.60" width="16.85" height="1.05" fill="#472186"/>
<rect x="54.60" y="317.60" width="16.85" height="1.05" fill="#e48048"/>
<rect x="71.40" y="317.60" width="16.85" height="1.05" fill="#961f80"/>
<rect x="88.20" y="317.60" width="16.85" height="1.05" fill="#ea933e"/>
<rect x="105.00" y="317.60" width="16.85" height="1.05" fill="#ae2977"/>
<rect x="121.80" y="317.60" width="16.85" height="1.05" fill="#512188"/>
<rect x="138.60" y="317.60" width="16.85" height="1.05" fill="#5b2088"/>
<rect x="155.40" y="317.60" width="16.85" height="1.05" fill="#ae2977"/>
<rect x="172.20" y="317.60" width="16.85" height="1.05" fill="#d15a5e"/>
<rect x="21.00" y="318.60" width="16.85" height="1.05" fill="#a0217d"/>
<rect x="37.80" y="318.60" width="16.85" height="1.05" fill="#7b1d88"/>
<rect x="54.60" y="318.60" width="16.85" height="1.05" fill="#eea037"/>
<rect x="71.40" y="318.60" width="16.85" height="1.05" fill="#8d1e83"/>
<rect x="88.20" y="318.60" width="16.85" height="1.05" fill="#e68346"/>
<rect x="105.00" y="318.60" width="16.85" height="1.05" fill="#b32f74"/>
<rect x="121.80" y="318.60" width="16.85" height="1.05" fill="#7a1d88"/>
<rect x="138.60" y="318.60" width="16.85" height="1.05" fill="#6e1e88"/>
<rect x="155.40" y="318.60" width="16.85" height="1.05" fill="#bc3a6f"/>
<rect x="172.20" y="318.60" width="16.85" height="1.05" fill="#e47f49"/>
<rect x="21.00" y="319.60" width="16.85" height="1.05" fill="#aa2479"/>
<rect x="37.80" y="319.60" width="16.85" height="1.05" fill="#811c88"/>
<rect x="54.60" y="319.60" width="16.85" height="1.05" fill="#eb963c"/>
<rect x="71.40" y="319.60" width="16.85" height="1.05" fill="#881d85"/>
<rect x="88.20" y="319.60" width="16.85" height="1.05" fill="#e78744"/>
<rect x="105.00" y="319.60" width="16.85" height="1.05" fill="#a6227b"/>
<rect x="121.80" y="319.60" width="16.85" height="1.05" fill="#a8227a"/>
<rect x="138.60" y="319.60" width="16.85" height="1.05" fill="#701e88"/>
<rect x="155.40" y="319.60" width="16.85" height="1.05" fill="#bc396f"/>
<rect x="172.20" y="319.60" width="16.85" height="1.05" fill="#bf3d6d"/>
<rect x="21.00" y="320.60" width="16.85" height="1.05" fill="#c84968"/>
<rect x="37.80" y="320.60" width="16.85" height="1.05" fill="#532188"/>
<rect x="54.60" y="320.60" width="16.85" height="1.05" fill="#f3d128"/>
<rect x="71.40" y="320.60" width="16.85" height="1.05" fill="#621f88"/>
<rect x="88.20" y="320.60" width="16.85" height="1.05" fill="#d4605a"/>
<rect x="105.00" y="320.60" width="16.85" height="1.05" fill="#901e82"/>
<rect x="121.80" y="320.60" width="16.85" height="1.05" fill="#7e1c88"/>
<rect x="138.60" y="320.60" width="16.85" height="1.05" fill="#811c87"/>
<rect x="155.40" y="320.60" width="16.85" height="1.05" fill="#d0595e"/>
<rect x="172.20" y="320.60" width="16.85" height="1.05" fill="#841d87"/>
<rect x="21.00" y="321.60" width="16.85" height="1.05" fill="#d25c5d"/>
<rect x="37.80" y="321.60" width="16.85" height="1.05" fill="#661f88"/>
<rect x="54.60" y="321.60" width="16.85" height="1.05" fill="#f3cb29"/>
<rect x="71.40" y="321.60" width="16.85" height="1.05" fill="#631f88"/>
<rect x="88.20" y="321.60" width="16.85" height="1.05" fill="#e48148"/>
<rect x="105.00" y="321.60" width="16.85" height="1.05" fill="#c1406c"/>
<rect x="121.80" y="321.60" width="16.85" height="1.05" fill="#af2b76"/>
<rect x="138.60" y="321.60" width="16.85" height="1.05" fill="#961f80"/>
<rect x="155.40" y="321.60" width="16.85" height="1.05" fill="#a4217b"/>
<rect x="172.20" y="321.60" width="16.85" height="1.05" fill="#a9237a"/>
<rect x="21.00" y="322.60" width="16.85" height="1.05" fill="#ca4c66"/>
<rect x="37.80" y="322.60" width="16.85" height="1.05" fill="#9a207f"/>
<rect x="54.60" y="322.60" width="16.85" height="1.05" fill="#921f82"/>
<rect x="71.40" y="322.60" width="16.85" height="1.05" fill="#f4de25"/>
<rect x="88.20" y="322.60" width="16.85" height="1.05" fill="#dc6f52"/>
<rect x="105.00" y="322.60" width="16.85" height="1.05" fill="#921f82"/>
<rect x="121.80" y="322.60" width="16.85" height="1.05" fill="#761d88"/>
<rect x="138.60" y="322.60" width="16.85" height="1.05" fill="#8c1e84"/>
<rect x="155.40" y="322.60" width="16.85" height="1.05" fill="#b63272"/>
<rect x="172.20" y="322.60" width="16.85" height="1.05" fill="#871d86"/>
<rect x="21.00" y="323.60" width="16.85" height="1.05" fill="#b73471"/>
<rect x="37.80" y="323.60" width="16.85" height="1.05" fill="#6f1e88"/>
<rect x="54.60" y="323.60" width="16.85" height="1.05" fill="#931f81"/>
<rect x="71.40" y="323.60" width="16.85" height="1.05" fill="#f4e424"/>
<rect x="88.20" y="323.60" width="16.85" height="1.05" fill="#da6b54"/>
<rect x="105.00" y="323.60" width="16.85" height="1.05" fill="#9c207e"/>
<rect x="121.80" y="323.60" width="16.85" height="1.05" fill="#4c2288"/>
<rect x="138.60" y="323.60" width="16.85" height="1.05" fill="#bc3a6f"/>
<rect x="155.40" y="323.60" width="16.85" height="1.05" fill="#c5446a"/>
<rect x="172.20" y="323.60" width="16.85" height="1.05" fill="#b22d75"/>
<rect x="21.00" y="324.60" width="16.85" height="1.05" fill="#af2b76"/>
<rect x="37.80" y="324.60" width="16.85" height="1.05" fill="#7d1c88"/>
<rect x="54.60" y="324.60" width="16.85" height="1.05" fill="#b02c75"/>
<rect x="71.40" y="324.60" width="16.85" height="1.05" fill="#f4e424"/>
<rect x="88.20" y="324.60" width="16.85" height="1.05" fill="#af2b76"/>
<rect x="105.00" y="324.60" width="16.85" height="1.05" fill="#a7227a"/>
<rect x="121.80" y="324.60" width="16.85" height="1.05" fill="#661f88"/>
<rect x="138.60" y="324.60" width="16.85" height="1.05" fill="#c94a67"/>
<rect x="155.40" y="324.60" width="16.85" height="1.05" fill="#e0784d"/>
<rect x="172.20" y="324.60" width="16.85" height="1.05" fill="#aa2579"/>
<rect x="21.00" y="325.60" width="16.85" height="1.05" fill="#951f81"/>
<rect x="37.80" y="325.60" width="16.85" height="1.05" fill="#681f88"/>
<rect x="54.60" y="325.60" width="16.85" height="1.05" fill="#671f88"/>
<rect x="71.40" y="325.60" width="16.85" height="1.05" fill="#f4e424"/>
<rect x="88.20" y="325.60" width="16.85" height="1.05" fill="#911f82"/>
<rect x="105.00" y="325.60" width="16.85" height="1.05" fill="#a2217c"/>
<rect x="121.80" y="325.60" width="16.85" height="1.05" fill="#3f2081"/>
<rect x="138.60" y="325.60" width="16.85" height="1.05" fill="#bd3a6e"/>
<rect x="155.40" y="325.60" width="16.85" height="1.05" fill="#871d86"/>
<rect x="172.20" y="325.60" width="16.85" height="1.05" fill="#a8227a"/>
<rect x="21.00" y="326.60" width="16.85" height="1.05" fill="#b53173"/>
<rect x="37.80" y="326.60" width="16.85" height="1.05" fill="#631f88"/>
<rect x="54.60" y="326.60" width="16.85" height="1.05" fill="#472186"/>
<rect x="71.40" y="326.60" width="16.85" height="1.05" fill="#f4e124"/>
<rect x="88.20" y="326.60" width="16.85" height="1.05" fill="#a3217c"/>
<rect x="105.00" y="326.60" width="16.85" height="1.05" fill="#781d88"/>
<rect x="121.80" y="326.60" width="16.85" height="1.05" fill="#482287"/>
<rect x="138.60" y="326.60" width="16.85" height="1.05" fill="#a8237a"/>
<rect x="155.40" y="326.60" width="16.85" height="1.05" fill="#7d1c88"/>
<rect x="172.20" y="326.60" width="16.85" height="1.05" fill="#3b1f7e"/>
<rect x="21.00" y="327.60" width="16.85" height="1.05" fill="#be3c6e"/>
<rect x="37.80" y="327.60" width="16.85" height="1.05" fill="#891d85"/>
<rect x="54.60" y="327.60" width="16.85" height="1.05" fill="#941f81"/>
<rect x="71.40" y="327.60" width="16.85" height="1.05" fill="#f4dd25"/>
<rect x="88.20" y="327.60" width="16.85" height="1.05" fill="#ea933e"/>
<rect x="105.00" y="327.60" width="16.85" height="1.05" fill="#a9237a"/>
<rect x="121.80" y="327.60" width="16.85" height="1.05" fill="#7b1d88"/>
<rect x="138.60" y="327.60" width="16.85" height="1.05" fill="#c5456a"/>
<rect x="155.40" y="327.60" width="16.85" height="1.05" fill="#ac2678"/>
<rect x="172.20" y="327.60" width="16.85" height="1.05" fill="#6b1e88"/>
<rect x="21.00" y="328.60" width="16.85" height="1.05" fill="#c94967"/>
<rect x="37.80" y="328.60" width="16.85" height="1.05" fill="#961f80"/>
<rect x="54.60" y="328.60" width="16.85" height="1.05" fill="#5f2088"/>
<rect x="71.40" y="328.60" width="16.85" height="1.05" fill="#f4d826"/>
<rect x="88.20" y="328.60" width="16.85" height="1.05" fill="#e0794c"/>
<rect x="105.00" y="328.60" width="16.85" height="1.05" fill="#a5217b"/>
<rect x="121.80" y="328.60" width="16.85" height="1.05" fill="#8a1d85"/>
<rect x="138.60" y="328.60" width="16.85" height="1.05" fill="#bf3d6d"/>
<rect x="155.40" y="328.60" width="16.85" height="1.05" fill="#a3217c"/>
<rect x="172.20" y="328.60" width="16.85" height="1.05" fill="#a7227a"/>
<rect x="21.00" y="329.60" width="16.85" height="1.05" fill="#aa2579"/>
<rect x="37.80" y="329.60" width="16.85" height="1.05" fill="#9b207e"/>
<rect x="54.60" y="329.60" width="16.85" height="1.05" fill="#901e82"/>
<rect x="71.40" y="329.60" width="16.85" height="1.05" fill="#f4e424"/>
<rect x="88.20" y="329.60" width="16.85" height="1.05" fill="#ea933e"/>
<rect x="105.00" y="329.60" width="16.85" height="1.05" fill="#931f81"/>
<rect x="121.80" y="329.60" width="16.85" height="1.05" fill="#ad2777"/>
<rect x="138.60" y="329.60" width="16.85" height="1.05" fill="#b93671"/>
<rect x="155.40" y="329.60" width="16.85" height="1.05" fill="#7e1c88"/>
<rect x="172.20" y="329.60" width="16.85" height="1.05" fill="#982080"/>
<rect x="21.00" y="330.60" width="16.85" height="1.05" fill="#d35e5c"/>
<rect x="37.80" y="330.60" width="16.85" height="1.05" fill="#a6227b"/>
<rect x="54.60" y="330.60" width="16.85" height="1.05" fill="#6f1e88"/>
<rect x="71.40" y="330.60" width="16.85" height="1.05" fill="#f4dc26"/>
<rect x="88.20" y="330.60" width="16.85" height="1.05" fill="#df774d"/>
<rect x="105.00" y="330.60" width="16.85" height="1.05" fill="#b73372"/>
<rect x="121.80" y="330.60" width="16.85" height="1.05" fill="#ea933e"/>
<rect x="138.60" y="330.60" width="16.85" height="1.05" fill="#d56359"/>
<rect x="155.40" y="330.60" width="16.85" height="1.05" fill="#af2a76"/>
<rect x="172.20" y="330.60" width="16.85" height="1.05" fill="#971f80"/>
<rect x="21.00" y="331.60" width="16.85" height="1.05" fill="#a0217d"/>
<rect x="37.80" y="331.60" width="16.85" height="1.05" fill="#751d88"/>
<rect x="54.60" y="331.60" width="16.85" height="1.05" fill="#c03e6d"/>
<rect x="71.40" y="331.60" width="16.85" height="1.05" fill="#f4e025"/>
<rect x="88.20" y="331.60" width="16.85" height="1.05" fill="#aa2479"/>
<rect x="105.00" y="331.60" width="16.85" height="1.05" fill="#b32f74"/>
<rect x="121.80" y="331.60" width="16.85" height="1.05" fill="#b63272"/>
<rect x="138.60" y="331.60" width="16.85" height="1.05" fill="#801c88"/>
<rect x="155.40" y="331.60" width="16.85" height="1.05" fill="#af2b76"/>
<rect x="172.20" y="331.60" width="16.85" height="1.05" fill="#711e88"/>
<rect x="21.00" y="332.60" width="16.85" height="1.05" fill="#a2217c"/>
<rect x="37.80" y="332.60" width="16.85" height="1.05" fill="#8a1d85"/>
<rect x="54.60" y="332.60" width="16.85" height="1.05" fill="#a2217c"/>
<rect x="71.40" y="332.60" width="16.85" height="1.05" fill="#f4e424"/>
<rect x="88.20" y="332.60" width="16.85" height="1.05" fill="#c1406c"/>
<rect x="105.00" y="332.60" width="16.85" height="1.05" fill="#8b1e84"/>
<rect x="121.80" y="332.60" width="16.85" height="1.05" fill="#631f88"/>
<rect x="138.60" y="332.60" width="16.85" height="1.05" fill="#3f2081"/>
<rect x="155.40" y="332.60" width="16.85" height="1.05" fill="#9a207f"/>
<rect x="172.20" y="332.60" width="16.85" height="1.05" fill="#9d207e"/>
<rect x="21.00" y="333.60" width="16.85" height="1.05" fill="#d76557"/>
<rect x="37.80" y="333.60" width="16.85" height="1.05" fill="#d25b5d"/>
<rect x="54.60" y="333.60" width="16.85" height="1.05" fill="#b53272"/>
<rect x="71.40" y="333.60" width="16.85" height="1.05" fill="#f4e424"/>
<rect x="88.20" y="333.60" width="16.85" height="1.05" fill="#a92379"/>
<rect x="105.00" y="333.60" width="16.85" height="1.05" fill="#bc396f"/>
<rect x="121.80" y="333.60" width="16.85" height="1.05" fill="#99207f"/>
<rect x="138.60" y="333.60" width="16.85" height="1.05" fill="#791d88"/>
<rect x="155.40" y="333.60" width="16.85" height="1.05" fill="#a1217c"/>
<rect x="172.20" y="333.60" width="16.85" height="1.05" fill="#8d1e84"/>
<rect x="21.00" y="334.60" width="16.85" height="1.05" fill="#da6d53"/>
<rect x="37.80" y="334.60" width="16.85" height="1.05" fill="#aa2479"/>
<rect x="54.60" y="334.60" width="16.85" height="1.05" fill="#b73472"/>
<rect x="71.40" y="334.60" width="16.85" height="1.05" fill="#f4dd25"/>
<rect x="88.20" y="334.60" width="16.85" height="1.05" fill="#b53173"/>
<rect x="105.00" y="334.60" width="16.85" height="1.05" fill="#8f1e83"/>
<rect x="121.80" y="334.60" width="16.85" height="1.05" fill="#9d207e"/>
<rect x="138.60" y="334.60" width="16.85" height="1.05" fill="#7d1c88"/>
<rect x="155.40" y="334.60" width="16.85" height="1.05" fill="#a2217c"/>
<rect x="172.20" y="334.60" width="16.85" height="1.05" fill="#7a1d88"/>
<rect x="21.00" y="335.60" width="16.85" height="1.05" fill="#ae2977"/>
<rect x="37.80" y="335.60" width="16.85" height="1.05" fill="#af2a76"/>
<rect x="54.60" y="335.60" width="16.85" height="1.05" fill="#ca4c66"/>
<rect x="71.40" y="335.60" width="16.85" height="1.05" fill="#f4e025"/>
<rect x="88.20" y="335.60" width="16.85" height="1.05" fill="#c13f6c"/>
<rect x="105.00" y="335.60" width="16.85" height="1.05" fill="#9f217d"/>
<rect x="121.80" y="335.60" width="16.85" height="1.05" fill="#961f80"/>
<rect x="138.60" y="335.60" width="16.85" height="1.05" fill="#4d2288"/>
<rect x="155.40" y="335.60" width="16.85" height="1.05" fill="#99207f"/>
<rect x="172.20" y="335.60" width="16.85" height="1.05" fill="#5a2088"/>
<rect x="21.00" y="336.60" width="16.85" height="1.05" fill="#cf5760"/>
<rect x="37.80" y="336.60" width="16.85" height="1.05" fill="#c74768"/>
<rect x="54.60" y="336.60" width="16.85" height="1.05" fill="#861d86"/>
<rect x="71.40" y="336.60" width="16.85" height="1.05" fill="#f4e424"/>
<rect x="88.20" y="336.60" width="16.85" height="1.05" fill="#df774d"/>
<rect x="105.00" y="336.60" width="16.85" height="1.05" fill="#911f82"/>
<rect x="121.80" y="336.60" width="16.85" height="1.05" fill="#c4436b"/>
<rect x="138.60" y="336.60" width="16.85" height="1.05" fill="#881d85"/>
<rect x="155.40" y="336.60" width="16.85" height="1.05" fill="#a92379"/>
<rect x="172.20" y="336.60" width="16.85" height="1.05" fill="#751d88"/>
<rect x="21.00" y="337.60" width="16.85" height="1.05" fill="#9e217d"/>
<rect x="37.80" y="337.60" width="16.85" height="1.05" fill="#e78943"/>
<rect x="54.60" y="337.60" width="16.85" height="1.05" fill="#861d86"/>
<rect x="71.40" y="337.60" width="16.85" height="1.05" fill="#f4e424"/>
<rect x="88.20" y="337.60" width="16.85" height="1.05" fill="#b02c75"/>
<rect x="105.00" y="337.60" width="16.85" height="1.05" fill="#731d88"/>
<rect x="121.80" y="337.60" width="16.85" height="1.05" fill="#8c1e84"/>
<rect x="138.60" y="337.60" width="16.85" height="1.05" fill="#621f88"/>
<rect x="155.40" y="337.60" width="16.85" height="1.05" fill="#a8227a"/>
<rect x="172.20" y="337.60" width="16.85" height="1.05" fill="#671f88"/>
<rect x="21.00" y="338.60" width="16.85" height="1.05" fill="#8f1e83"/>
<rect x="37.80" y="338.60" width="16.85" height="1.05" fill="#e78844"/>
<rect x="54.60" y="338.60" width="16.85" height="1.05" fill="#a2217c"/>
<rect x="71.40" y="338.60" width="16.85" height="1.05" fill="#f4e424"/>
<rect x="88.20" y="338.60" width="16.85" height="1.05" fill="#c3426b"/>
<rect x="105.00" y="338.60" width="16.85" height="1.05" fill="#801c88"/>
<rect x="121.80" y="338.60" width="16.85" height="1.05" fill="#c1406c"/>
<rect x="138.60" y="338.60" width="16.85" height="1.05" fill="#801c88"/>
<rect x="155.40" y="338.60" width="16.85" height="1.05" fill="#ad2877"/>
<rect x="172.20" y="338.60" width="16.85" height="1.05" fill="#721e88"/>
<rect x="21.00" y="339.60" width="16.85" height="1.05" fill="#8a1d85"/>
<rect x="37.80" y="339.60" width="16.85" height="1.05" fill="#cb4e65"/>
<rect x="54.60" y="339.60" width="16.85" height="1.05" fill="#a9237a"/>
<rect x="71.40" y="339.60" width="16.85" height="1.05" fill="#f4dd25"/>
<rect x="88.20" y="339.60" width="16.85" height="1.05" fill="#971f80"/>
<rect x="105.00" y="339.60" width="16.85" height="1.05" fill="#99207f"/>
<rect x="121.80" y="339.60" width="16.85" height="1.05" fill="#c3426b"/>
<rect x="138.60" y="339.60" width="16.85" height="1.05" fill="#9c207e"/>
<rect x="155.40" y="339.60" width="16.85" height="1.05" fill="#811c88"/>
<rect x="172.20" y="339.60" width="16.85" height="1.05" fill="#901e82"/>
<rect x="21.00" y="340.60" width="16.85" height="1.05" fill="#a0217d"/>
<rect x="37.80" y="340.60" width="16.85" height="1.05" fill="#c2406c"/>
<rect x="54.60" y="340.60" width="16.85" height="1.05" fill="#a0217d"/>
<rect x="71.40" y="340.60" width="16.85" height="1.05" fill="#f4e424"/>
<rect x="88.20" y="340.60" width="16.85" height="1.05" fill="#c4446a"/>
<rect x="105.00" y="340.60" width="16.85" height="1.05" fill="#921f82"/>
<rect x="121.80" y="340.60" width="16.85" height="1.05" fill="#891d85"/>
<rect x="138.60" y="340.60" width="16.85" height="1.05" fill="#9b207e"/>
<rect x="155.40" y="340.60" width="16.85" height="1.05" fill="#951f81"/>
<rect x="172.20" y="340.60" width="16.85" height="1.05" fill="#5f2088"/>
<rect x="21.00" y="341.60" width="16.85" height="1.05" fill="#a8227a"/>
<rect x="37.80" y="341.60" width="16.85" height="1.05" fill="#a0217d"/>
<rect x="54.60" y="341.60" width="16.85" height="1.05" fill="#99207f"/>
<rect x="71.40" y="341.60" width="16.85" height="1.05" fill="#f3d627"/>
<rect x="88.20" y="341.60" width="16.85" height="1.05" fill="#ce5561"/>
<rect x="105.00" y="341.60" width="16.85" height="1.05" fill="#bf3e6d"/>
<rect x="121.80" y="341.60" width="16.85" height="1.05" fill="#7e1c88"/>
<rect x="138.60" y="341.60" width="16.85" height="1.05" fill="#7b1d88"/>
<rect x="155.40" y="341.60" width="16.85" height="1.05" fill="#6b1e88"/>
<rect x="172.20" y="341.60" width="16.85" height="1.05" fill="#871d86"/>
<rect x="21.00" y="342.60" width="16.85" height="1.05" fill="#941f81"/>
<rect x="37.80" y="342.60" width="16.85" height="1.05" fill="#c13f6c"/>
<rect x="54.60" y="342.60" width="16.85" height="1.05" fill="#b83471"/>
<rect x="71.40" y="342.60" width="16.85" height="1.05" fill="#f4e424"/>
<rect x="88.20" y="342.60" width="16.85" height="1.05" fill="#9d207e"/>
<rect x="105.00" y="342.60" width="16.85" height="1.05" fill="#b53173"/>
<rect x="121.80" y="342.60" width="16.85" height="1.05" fill="#9f217d"/>
<rect x="138.60" y="342.60" width="16.85" height="1.05" fill="#6b1e88"/>
<rect x="155.40" y="342.60" width="16.85" height="1.05" fill="#a0217d"/>
<rect x="172.20" y="342.60" width="16.85" height="1.05" fill="#ba3770"/>
<rect x="21.00" y="343.60" width="16.85" height="1.05" fill="#911f82"/>
<rect x="37.80" y="343.60" width="16.85" height="1.05" fill="#961f80"/>
<rect x="54.60" y="343.60" width="16.85" height="1.05" fill="#d66458"/>
<rect x="71.40" y="343.60" width="16.85" height="1.05" fill="#c5446a"/>
<rect x="88.20" y="343.60" width="16.85" height="1.05" fill="#f4e424"/>
<rect x="105.00" y="343.60" width="16.85" height="1.05" fill="#df764e"/>
<rect x="121.80" y="343.60" width="16.85" height="1.05" fill="#621f88"/>
<rect x="138.60" y="343.60" width="16.85" height="1.05" fill="#a5227b"/>
<rect x="155.40" y="343.60" width="16.85" height="1.05" fill="#731d88"/>
<rect x="172.20" y="343.60" width="16.85" height="1.05" fill="#cd5262"/>
<rect x="21.00" y="344.60" width="16.85" height="1.05" fill="#9f217d"/>
<rect x="37.80" y="344.60" width="16.85" height="1.05" fill="#951f81"/>
<rect x="54.60" y="344.60" width="16.85" height="1.05" fill="#e27c4b"/>
<rect x="71.40" y="344.60" width="16.85" height="1.05" fill="#d4615a"/>
<rect x="88.20" y="344.60" width="16.85" height="1.05" fill="#f3d527"/>
<rect x="105.00" y="344.60" width="16.85" height="1.05" fill="#cb4e64"/>
<rect x="121.80" y="344.60" width="16.85" height="1.05" fill="#4f2188"/>
<rect x="138.60" y="344.60" width="16.85" height="1.05" fill="#ea933e"/>
<rect x="155.40" y="344.60" width="16.85" height="1.05" fill="#841d87"/>
<rect x="172.20" y="344.60" width="16.85" height="1.05" fill="#db6e52"/>
<rect x="21.00" y="345.60" width="16.85" height="1.05" fill="#d76657"/>
<rect x="37.80" y="345.60" width="16.85" height="1.05" fill="#bd3b6e"/>
<rect x="54.60" y="345.60" width="16.85" height="1.05" fill="#ea933e"/>
<rect x="71.40" y="345.60" width="16.85" height="1.05" fill="#ac2778"/>
<rect x="88.20" y="345.60" width="16.85" height="1.05" fill="#f4e025"/>
<rect x="105.00" y="345.60" width="16.85" height="1.05" fill="#b32f74"/>
<rect x="121.80" y="345.60" width="16.85" height="1.05" fill="#502188"/>
<rect x="138.60" y="345.60" width="16.85" height="1.05" fill="#ea933e"/>
<rect x="155.40" y="345.60" width="16.85" height="1.05" fill="#641f88"/>
<rect x="172.20" y="345.60" width="16.85" height="1.05" fill="#d4605b"/>
<rect x="21.00" y="346.60" width="16.85" height="1.05" fill="#cc5064"/>
<rect x="37.80" y="346.60" width="16.85" height="1.05" fill="#af2b76"/>
<rect x="54.60" y="346.60" width="16.85" height="1.05" fill="#b32f74"/>
<rect x="71.40" y="346.60" width="16.85" height="1.05" fill="#cc4f64"/>
<rect x="88.20" y="346.60" width="16.85" height="1.05" fill="#f4e424"/>
<rect x="105.00" y="346.60" width="16.85" height="1.05" fill="#bc3a6f"/>
<rect x="121.80" y="346.60" width="16.85" height="1.05" fill="#412082"/>
<rect x="138.60" y="346.60" width="16.85" height="1.05" fill="#d0585f"/>
<rect x="155.40" y="346.60" width="16.85" height="1.05" fill="#562188"/>
<rect x="172.20" y="346.60" width="16.85" height="1.05" fill="#a0217d"/>
<rect x="21.00" y="347.60" width="16.85" height="1.05" fill="#ca4d65"/>
<rect x="37.80" y="347.60" width="16.85" height="1.05" fill="#e47f49"/>
<rect x="54.60" y="347.60" width="16.85" height="1.05" fill="#b83571"/>
<rect x="71.40" y="347.60" width="16.85" height="1.05" fill="#c1406c"/>
<rect x="88.20" y="347.60" width="16.85" height="1.05" fill="#f4dc25"/>
<rect x="105.00" y="347.60" width="16.85" height="1.05" fill="#b02b76"/>
<rect x="121.80" y="347.60" width="16.85" height="1.05" fill="#331e79"/>
<rect x="138.60" y="347.60" width="16.85" height="1.05" fill="#bc3a6f"/>
<rect x="155.40" y="347.60" width="16.85" height="1.05" fill="#9e217d"/>
<rect x="172.20" y="347.60" width="16.85" height="1.05" fill="#ad2877"/>
<rect x="21.00" y="348.60" width="16.85" height="1.05" fill="#bd3b6e"/>
<rect x="37.80" y="348.60" width="16.85" height="1.05" fill="#d35d5c"/>
<rect x="54.60" y="348.60" width="16.85" height="1.05" fill="#bd3b6e"/>
<rect x="71.40" y="348.60" width="16.85" height="1.05" fill="#c84967"/>
<rect x="88.20" y="348.60" width="16.85" height="1.05" fill="#f4de25"/>
<rect x="105.00" y="348.60" width="16.85" height="1.05" fill="#a3217c"/>
<rect x="121.80" y="348.60" width="16.85" height="1.05" fill="#291c72"/>
<rect x="138.60" y="348.60" width="16.85" height="1.05" fill="#b53173"/>
<rect x="155.40" y="348.60" width="16.85" height="1.05" fill="#7f1c88"/>
<rect x="172.20" y="348.60" width="16.85" height="1.05" fill="#941f81"/>
<rect x="21.00" y="349.60" width="16.85" height="1.05" fill="#aa2579"/>
<rect x="37.80" y="349.60" width="16.85" height="1.05" fill="#aa2579"/>
<rect x="54.60" y="349.60" width="16.85" height="1.05" fill="#a7227a"/>
<rect x="71.40" y="349.60" width="16.85" height="1.05" fill="#db6e53"/>
<rect x="88.20" y="349.60" width="16.85" height="1.05" fill="#f4e025"/>
<rect x="105.00" y="349.60" width="16.85" height="1.05" fill="#8b1e84"/>
<rect x="121.80" y="349.60" width="16.85" height="1.05" fill="#3f2081"/>
<rect x="138.60" y="349.60" width="16.85" height="1.05" fill="#9a207f"/>
<rect x="155.40" y="349.60" width="16.85" height="1.05" fill="#6a1e88"/>
<rect x="172.20" y="349.60" width="16.85" height="1.05" fill="#982080"/>
<rect x="21.00" y="350.60" width="16.85" height="1.05" fill="#3a1f7d"/>
<rect x="37.80" y="350.60" width="16.85" height="1.05" fill="#901e82"/>
<rect x="54.60" y="350.60" width="16.85" height="1.05" fill="#b32f74"/>
<rect x="71.40" y="350.60" width="16.85" height="1.05" fill="#8b1e84"/>
<rect x="88.20" y="350.60" width="16.85" height="1.05" fill="#f4da26"/>
<rect x="105.00" y="350.60" width="16.85" height="1.05" fill="#9b207f"/>
<rect x="121.80" y="350.60" width="16.85" height="1.05" fill="#1f1a6c"/>
<rect x="138.60" y="350.60" width="16.85" height="1.05" fill="#7f1c88"/>
<rect x="155.40" y="350.60" width="16.85" height="1.05" fill="#492288"/>
<rect x="172.20" y="350.60" width="16.85" height="1.05" fill="#811c88"/>
<rect x="21.00" y="351.60" width="16.85" height="1.05" fill="#751d88"/>
<rect x="37.80" y="351.60" width="16.85" height="1.05" fill="#7b1d88"/>
<rect x="54.60" y="351.60" width="16.85" height="1.05" fill="#ac2778"/>
<rect x="71.40" y="351.60" width="16.85" height="1.05" fill="#861d86"/>
<rect x="88.20" y="351.60" width="16.85" height="1.05" fill="#f3cd28"/>
<rect x="105.00" y="351.60" width="16.85" height="1.05" fill="#941f81"/>
<rect x="121.80" y="351.60" width="16.85" height="1.05" fill="#1f1a6c"/>
<rect x="138.60" y="351.60" width="16.85" height="1.05" fill="#901e82"/>
<rect x="155.40" y="351.60" width="16.85" height="1.05" fill="#482287"/>
<rect x="172.20" y="351.60" width="16.85" height="1.05" fill="#771d88"/>
<rect x="21.00" y="352.60" width="16.85" height="1.05" fill="#aa2479"/>
<rect x="37.80" y="352.60" width="16.85" height="1.05" fill="#a0217d"/>
<rect x="54.60" y="352.60" width="16.85" height="1.05" fill="#99207f"/>
<rect x="71.40" y="352.60" width="16.85" height="1.05" fill="#a3217c"/>
<rect x="88.20" y="352.60" width="16.85" height="1.05" fill="#f4e424"/>
<rect x="105.00" y="352.60" width="16.85" height="1.05" fill="#b83571"/>
<rect x="121.80" y="352.60" width="16.85" height="1.05" fill="#1f1a6c"/>
<rect x="138.60" y="352.60" width="16.85" height="1.05" fill="#ab2678"/>
<rect x="155.40" y="352.60" width="16.85" height="1.05" fill="#6d1e88"/>
<rect x="172.20" y="352.60" width="16.85" height="1.05" fill="#ab2678"/>
<rect x="21.00" y="353.60" width="16.85" height="1.05" fill="#b22e74"/>
<rect x="37.80" y="353.60" width="16.85" height="1.05" fill="#d0585f"/>
<rect x="54.60" y="353.60" width="16.85" height="1.05" fill="#7b1d88"/>
<rect x="71.40" y="353.60" width="16.85" height="1.05" fill="#8e1e83"/>
<rect x="88.20" y="353.60" width="16.85" height="1.05" fill="#f3d128"/>
<rect x="105.00" y="353.60" width="16.85" height="1.05" fill="#891d85"/>
<rect x="121.80" y="353.60" width="16.85" height="1.05" fill="#492288"/>
<rect x="138.60" y="353.60" width="16.85" height="1.05" fill="#bd3b6e"/>
<rect x="155.40" y="353.60" width="16.85" height="1.05" fill="#b12d75"/>
<rect x="172.20" y="353.60" width="16.85" height="1.05" fill="#6c1e88"/>
<rect x="21.00" y="354.60" width="16.85" height="1.05" fill="#c84868"/>
<rect x="37.80" y="354.60" width="16.85" height="1.05" fill="#c3426b"/>
<rect x="54.60" y="354.60" width="16.85" height="1.05" fill="#a0217d"/>
<rect x="71.40" y="354.60" width="16.85" height="1.05" fill="#ac2778"/>
<rect x="88.20" y="354.60" width="16.85" height="1.05" fill="#f4e424"/>
<rect x="105.00" y="354.60" width="16.85" height="1.05" fill="#901e82"/>
<rect x="121.80" y="354.60" width="16.85" height="1.05" fill="#452185"/>
<rect x="138.60" y="354.60" width="16.85" height="1.05" fill="#ca4b66"/>
<rect x="155.40" y="354.60" width="16.85" height="1.05" fill="#982080"/>
<rect x="172.20" y="354.60" width="16.85" height="1.05" fill="#801c88"/>
<rect x="21.00" y="355.60" width="16.85" height="1.05" fill="#ae2977"/>
<rect x="37.80" y="355.60" width="16.85" height="1.05" fill="#a9237a"/>
<rect x="54.60" y="355.60" width="16.85" height="1.05" fill="#c94967"/>
<rect x="71.40" y="355.60" width="16.85" height="1.05" fill="#bb396f"/>
<rect x="88.20" y="355.60" width="16.85" height="1.05" fill="#f4e224"/>
<rect x="105.00" y="355.60" width="16.85" height="1.05" fill="#e58247"/>
<rect x="121.80" y="355.60" width="16.85" height="1.05" fill="#6e1e88"/>
<rect x="138.60" y="355.60" width="16.85" height="1.05" fill="#cd5163"/>
<rect x="155.40" y="355.60" width="16.85" height="1.05" fill="#cb4e65"/>
<rect x="172.20" y="355.60" width="16.85" height="1.05" fill="#df774d"/>
<rect x="21.00" y="356.60" width="16.85" height="1.05" fill="#801c88"/>
<rect x="37.80" y="356.60" width="16.85" height="1.05" fill="#871d86"/>
<rect x="54.60" y="356.60" width="16.85" height="1.05" fill="#951f81"/>
<rect x="71.40" y="356.60" width="16.85" height="1.05" fill="#d86856"/>
<rect x="88.20" y="356.60" width="16.85" height="1.05" fill="#f4e424"/>
<rect x="105.00" y="356.60" width="16.85" height="1.05" fill="#b22e74"/>
<rect x="121.80" y="356.60" width="16.85" height="1.05" fill="#5a2088"/>
<rect x="138.60" y="356.60" width="16.85" height="1.05" fill="#9c207e"/>
<rect x="155.40" y="356.60" width="16.85" height="1.05" fill="#901e83"/>
<rect x="172.20" y="356.60" width="16.85" height="1.05" fill="#b22e74"/>
<rect x="21.00" y="357.60" width="16.85" height="1.05" fill="#711e88"/>
<rect x="37.80" y="357.60" width="16.85" height="1.05" fill="#b43073"/>
<rect x="54.60" y="357.60" width="16.85" height="1.05" fill="#de744f"/>
<rect x="71.40" y="357.60" width="16.85" height="1.05" fill="#ea933e"/>
<rect x="88.20" y="357.60" width="16.85" height="1.05" fill="#f4e424"/>
<rect x="105.00" y="357.60" width="16.85" height="1.05" fill="#d96a55"/>
<rect x="121.80" y="357.60" width="16.85" height="1.05" fill="#7f1c88"/>
<rect x="138.60" y="357.60" width="16.85" height="1.05" fill="#c84868"/>
<rect x="155.40" y="357.60" width="16.85" height="1.05" fill="#9e207e"/>
<rect x="172.20" y="357.60" width="16.85" height="1.05" fill="#e88c42"/>
<rect x="21.00" y="358.60" width="16.85" height="1.05" fill="#661f88"/>
<rect x="37.80" y="358.60" width="16.85" height="1.05" fill="#731d88"/>
<rect x="54.60" y="358.60" width="16.85" height="1.05" fill="#99207f"/>
<rect x="71.40" y="358.60" width="16.85" height="1.05" fill="#811c88"/>
<rect x="88.20" y="358.60" width="16.85" height="1.05" fill="#f4e025"/>
<rect x="105.00" y="358.60" width="16.85" height="1.05" fill="#b22e74"/>
<rect x="121.80" y="358.60" width="16.85" height="1.05" fill="#522188"/>
<rect x="138.60" y="358.60" width="16.85" height="1.05" fill="#bf3d6d"/>
<rect x="155.40" y="358.60" width="16.85" height="1.05" fill="#7b1d88"/>
<rect x="172.20" y="358.60" width="16.85" height="1.05" fill="#9f217d"/>
<rect x="21.00" y="359.60" width="16.85" height="1.05" fill="#a0217d"/>
<rect x="37.80" y="359.60" width="16.85" height="1.05" fill="#6c1e88"/>
<rect x="54.60" y="359.60" width="16.85" height="1.05" fill="#811c88"/>
<rect x="71.40" y="359.60" width="16.85" height="1.05" fill="#841d87"/>
<rect x="88.20" y="359.60" width="16.85" height="1.05" fill="#f4e424"/>
<rect x="105.00" y="359.60" width="16.85" height="1.05" fill="#d35e5b"/>
<rect x="121.80" y="359.60" width="16.85" height="1.05" fill="#452184"/>
<rect x="138.60" y="359.60" width="16.85" height="1.05" fill="#cb4e65"/>
<rect x="155.40" y="359.60" width="16.85" height="1.05" fill="#ab2678"/>
<rect x="172.20" y="359.60" width="16.85" height="1.05" fill="#ca4d65"/>
<rect x="21.00" y="360.60" width="16.85" height="1.05" fill="#911e82"/>
<rect x="37.80" y="360.60" width="16.85" height="1.05" fill="#971f80"/>
<rect x="54.60" y="360.60" width="16.85" height="1.05" fill="#cc4f64"/>
<rect x="71.40" y="360.60" width="16.85" height="1.05" fill="#b93670"/>
<rect x="88.20" y="360.60" width="16.85" height="1.05" fill="#f4d826"/>
<rect x="105.00" y="360.60" width="16.85" height="1.05" fill="#c84868"/>
<rect x="121.80" y="360.60" width="16.85" height="1.05" fill="#3b1f7e"/>
<rect x="138.60" y="360.60" width="16.85" height="1.05" fill="#bb386f"/>
<rect x="155.40" y="360.60" width="16.85" height="1.05" fill="#871d85"/>
<rect x="172.20" y="360.60" width="16.85" height="1.05" fill="#9f217d"/>
<rect x="21.00" y="361.60" width="16.85" height="1.05" fill="#cc5163"/>
<rect x="37.80" y="361.60" width="16.85" height="1.05" fill="#a7227a"/>
<rect x="54.60" y="361.60" width="16.85" height="1.05" fill="#cc4f64"/>
<rect x="71.40" y="361.60" width="16.85" height="1.05" fill="#ba3770"/>
<rect x="88.20" y="361.60" width="16.85" height="1.05" fill="#f4dc26"/>
<rect x="105.00" y="361.60" width="16.85" height="1.05" fill="#bb386f"/>
<rect x="121.80" y="361.60" width="16.85" height="1.05" fill="#6d1e88"/>
<rect x="138.60" y="361.60" width="16.85" height="1.05" fill="#d35e5b"/>
<rect x="155.40" y="361.60" width="16.85" height="1.05" fill="#c94a67"/>
<rect x="172.20" y="361.60" width="16.85" height="1.05" fill="#a8227a"/>
<rect x="21.00" y="362.60" width="16.85" height="1.05" fill="#8d1e83"/>
<rect x="37.80" y="362.60" width="16.85" height="1.05" fill="#a3217c"/>
<rect x="54.60" y="362.60" width="16.85" height="1.05" fill="#8d1e83"/>
<rect x="71.40" y="362.60" width="16.85" height="1.05" fill="#d96b54"/>
<rect x="88.20" y="362.60" width="16.85" height="1.05" fill="#f4dd25"/>
<rect x="105.00" y="362.60" width="16.85" height="1.05" fill="#b63272"/>
<rect x="121.80" y="362.60" width="16.85" height="1.05" fill="#3c1f7f"/>
<rect x="138.60" y="362.60" width="16.85" height="1.05" fill="#bd3b6e"/>
<rect x="155.40" y="362.60" width="16.85" height="1.05" fill="#9a207f"/>
<rect x="172.20" y="362.60" width="16.85" height="1.05" fill="#c03f6c"/>
<rect x="21.00" y="363.60" width="16.85" height="1.05" fill="#771d88"/>
<rect x="37.80" y="363.60" width="16.85" height="1.05" fill="#602088"/>
<rect x="54.60" y="363.60" width="16.85" height="1.05" fill="#9c207e"/>
<rect x="71.40" y="363.60" width="16.85" height="1.05" fill="#bf3d6d"/>
<rect x="88.20" y="363.60" width="16.85" height="1.05" fill="#f4d826"/>
<rect x="105.00" y="363.60" width="16.85" height="1.05" fill="#c64569"/>
<rect x="121.80" y="363.60" width="16.85" height="1.05" fill="#442184"/>
<rect x="138.60" y="363.60" width="16.85" height="1.05" fill="#c3426b"/>
<rect x="155.40" y="363.60" width="16.85" height="1.05" fill="#8c1e84"/>
<rect x="172.20" y="363.60" width="16.85" height="1.05" fill="#a2217c"/>
<rect x="21.00" y="364.60" width="16.85" height="1.05" fill="#4b2288"/>
<rect x="37.80" y="364.60" width="16.85" height="1.05" fill="#8b1e84"/>
<rect x="54.60" y="364.60" width="16.85" height="1.05" fill="#ba3770"/>
<rect x="71.40" y="364.60" width="16.85" height="1.05" fill="#811c88"/>
<rect x="88.20" y="364.60" width="16.85" height="1.05" fill="#8d1e84"/>
<rect x="105.00" y="364.60" width="16.85" height="1.05" fill="#f3ce28"/>
<rect x="121.80" y="364.60" width="16.85" height="1.05" fill="#502188"/>
<rect x="138.60" y="364.60" width="16.85" height="1.05" fill="#d96955"/>
<rect x="155.40" y="364.60" width="16.85" height="1.05" fill="#841d87"/>
<rect x="172.20" y="364.60" width="16.85" height="1.05" fill="#921f82"/>
<rect x="21.00" y="365.60" width="16.85" height="1.05" fill="#482287"/>
<rect x="37.80" y="365.60" width="16.85" height="1.05" fill="#4d2288"/>
<rect x="54.60" y="365.60" width="16.85" height="1.05" fill="#971f80"/>
<rect x="71.40" y="365.60" width="16.85" height="1.05" fill="#921f82"/>
<rect x="88.20" y="365.60" width="16.85" height="1.05" fill="#99207f"/>
<rect x="105.00" y="365.60" width="16.85" height="1.05" fill="#f3ce28"/>
<rect x="121.80" y="365.60" width="16.85" height="1.05" fill="#4b2288"/>
<rect x="138.60" y="365.60" width="16.85" height="1.05" fill="#a92379"/>
<rect x="155.40" y="365.60" width="16.85" height="1.05" fill="#8e1e83"/>
<rect x="172.20" y="365.60" width="16.85" height="1.05" fill="#831c87"/>
<rect x="21.00" y="366.60" width="16.85" height="1.05" fill="#c13f6c"/>
<rect x="37.80" y="366.60" width="16.85" height="1.05" fill="#a6227b"/>
<rect x="54.60" y="366.60" width="16.85" height="1.05" fill="#a5227b"/>
<rect x="71.40" y="366.60" width="16.85" height="1.05" fill="#ad2877"/>
<rect x="88.20" y="366.60" width="16.85" height="1.05" fill="#be3c6e"/>
<rect x="105.00" y="366.60" width="16.85" height="1.05" fill="#eea037"/>
<rect x="121.80" y="366.60" width="16.85" height="1.05" fill="#7f1c88"/>
<rect x="138.60" y="366.60" width="16.85" height="1.05" fill="#db6d53"/>
<rect x="155.40" y="366.60" width="16.85" height="1.05" fill="#c64569"/>
<rect x="172.20" y="366.60" width="16.85" height="1.05" fill="#ad2877"/>
<rect x="21.00" y="367.60" width="16.85" height="1.05" fill="#831c87"/>
<rect x="37.80" y="367.60" width="16.85" height="1.05" fill="#851d86"/>
<rect x="54.60" y="367.60" width="16.85" height="1.05" fill="#c03e6d"/>
<rect x="71.40" y="367.60" width="16.85" height="1.05" fill="#c4446a"/>
<rect x="88.20" y="367.60" width="16.85" height="1.05" fill="#b83571"/>
<rect x="105.00" y="367.60" width="16.85" height="1.05" fill="#f2b92c"/>
<rect x="121.80" y="367.60" width="16.85" height="1.05" fill="#6c1e88"/>
<rect x="138.60" y="367.60" width="16.85" height="1.05" fill="#d0585f"/>
<rect x="155.40" y="367.60" width="16.85" height="1.05" fill="#c1406c"/>
<rect x="172.20" y="367.60" width="16.85" height="1.05" fill="#a5227b"/>
<rect x="21.00" y="368.60" width="16.85" height="1.05" fill="#9c207e"/>
<rect x="37.80" y="368.60" width="16.85" height="1.05" fill="#8b1e84"/>
<rect x="54.60" y="368.60" width="16.85" height="1.05" fill="#a7227a"/>
<rect x="71.40" y="368.60" width="16.85" height="1.05" fill="#be3c6e"/>
<rect x="88.20" y="368.60" width="16.85" height="1.05" fill="#ab2578"/>
<rect x="105.00" y="368.60" width="16.85" height="1.05" fill="#f2af2f"/>
<rect x="121.80" y="368.60" width="16.85" height="1.05" fill="#2c1c74"/>
<rect x="138.60" y="368.60" width="16.85" height="1.05" fill="#c03f6c"/>
<rect x="155.40" y="368.60" width="16.85" height="1.05" fill="#b32f74"/>
<rect x="172.20" y="368.60" width="16.85" height="1.05" fill="#901e82"/>
<rect x="21.00" y="369.60" width="16.85" height="1.05" fill="#a0217d"/>
<rect x="37.80" y="369.60" width="16.85" height="1.05" fill="#9b207f"/>
<rect x="54.60" y="369.60" width="16.85" height="1.05" fill="#ae2977"/>
<rect x="71.40" y="369.60" width="16.85" height="1.05" fill="#bb396f"/>
<rect x="88.20" y="369.60" width="16.85" height="1.05" fill="#951f81"/>
<rect x="105.00" y="369.60" width="16.85" height="1.05" fill="#eea236"/>
<rect x="121.80" y="369.60" width="16.85" height="1.05" fill="#442184"/>
<rect x="138.60" y="369.60" width="16.85" height="1.05" fill="#ae2977"/>
<rect x="155.40" y="369.60" width="16.85" height="1.05" fill="#a5227b"/>
<rect x="172.20" y="369.60" width="16.85" height="1.05" fill="#dd7250"/>
<rect x="21.00" y="370.60" width="16.85" height="1.05" fill="#b22e74"/>
<rect x="37.80" y="370.60" width="16.85" height="1.05" fill="#7b1d88"/>
<rect x="54.60" y="370.60" width="16.85" height="1.05" fill="#c84968"/>
<rect x="71.40" y="370.60" width="16.85" height="1.05" fill="#d76756"/>
<rect x="88.20" y="370.60" width="16.85" height="1.05" fill="#99207f"/>
<rect x="105.00" y="370.60" width="16.85" height="1.05" fill="#f1ab31"/>
<rect x="121.80" y="370.60" width="16.85" height="1.05" fill="#251b70"/>
<rect x="138.60" y="370.60" width="16.85" height="1.05" fill="#d25c5d"/>
<rect x="155.40" y="370.60" width="16.85" height="1.05" fill="#a1217c"/>
<rect x="172.20" y="370.60" width="16.85" height="1.05" fill="#de7350"/>
<rect x="21.00" y="371.60" width="16.85" height="1.05" fill="#ae2977"/>
<rect x="37.80" y="371.60" width="16.85" height="1.05" fill="#ad2877"/>
<rect x="54.60" y="371.60" width="16.85" height="1.05" fill="#d25c5d"/>
<rect x="71.40" y="371.60" width="16.85" height="1.05" fill="#cc5064"/>
<rect x="88.20" y="371.60" width="16.85" height="1.05" fill="#a0217d"/>
<rect x="105.00" y="371.60" width="16.85" height="1.05" fill="#ed9d38"/>
<rect x="121.80" y="371.60" width="16.85" height="1.05" fill="#6a1e88"/>
<rect x="138.60" y="371.60" width="16.85" height="1.05" fill="#e58247"/>
<rect x="155.40" y="371.60" width="16.85" height="1.05" fill="#8c1e84"/>
<rect x="172.20" y="371.60" width="16.85" height="1.05" fill="#dc7051"/>
<rect x="21.00" y="372.60" width="16.85" height="1.05" fill="#681f88"/>
<rect x="37.80" y="372.60" width="16.85" height="1.05" fill="#b32f74"/>
<rect x="54.60" y="372.60" width="16.85" height="1.05" fill="#971f80"/>
<rect x="71.40" y="372.60" width="16.85" height="1.05" fill="#ce5461"/>
<rect x="88.20" y="372.60" width="16.85" height="1.05" fill="#961f80"/>
<rect x="105.00" y="372.60" width="16.85" height="1.05" fill="#f3c729"/>
<rect x="121.80" y="372.60" width="16.85" height="1.05" fill="#602088"/>
<rect x="138.60" y="372.60" width="16.85" height="1.05" fill="#e0784d"/>
<rect x="155.40" y="372.60" width="16.85" height="1.05" fill="#8b1e84"/>
<rect x="172.20" y="372.60" width="16.85" height="1.05" fill="#be3d6d"/>
<rect x="21.00" y="373.60" width="16.85" height="1.05" fill="#a6227b"/>
<rect x="37.80" y="373.60" width="16.85" height="1.05" fill="#a2217c"/>
<rect x="54.60" y="373.60" width="16.85" height="1.05" fill="#ca4d65"/>
<rect x="71.40" y="373.60" width="16.85" height="1.05" fill="#e78844"/>
<rect x="88.20" y="373.60" width="16.85" height="1.05" fill="#a1217c"/>
<rect x="105.00" y="373.60" width="16.85" height="1.05" fill="#f2bb2c"/>
<rect x="121.80" y="373.60" width="16.85" height="1.05" fill="#552188"/>
<rect x="138.60" y="373.60" width="16.85" height="1.05" fill="#d15a5e"/>
<rect x="155.40" y="373.60" width="16.85" height="1.05" fill="#a1217d"/>
<rect x="172.20" y="373.60" width="16.85" height="1.05" fill="#aa2479"/>
<rect x="21.00" y="374.60" width="16.85" height="1.05" fill="#941f81"/>
<rect x="37.80" y="374.60" width="16.85" height="1.05" fill="#951f81"/>
<rect x="54.60" y="374.60" width="16.85" height="1.05" fill="#c3416b"/>
<rect x="71.40" y="374.60" width="16.85" height="1.05" fill="#d86756"/>
<rect x="88.20" y="374.60" width="16.85" height="1.05" fill="#621f88"/>
<rect x="105.00" y="374.60" width="16.85" height="1.05" fill="#f3d527"/>
<rect x="121.80" y="374.60" width="16.85" height="1.05" fill="#462186"/>
<rect x="138.60" y="374.60" width="16.85" height="1.05" fill="#aa2479"/>
<rect x="155.40" y="374.60" width="16.85" height="1.05" fill="#871d85"/>
<rect x="172.20" y="374.60" width="16.85" height="1.05" fill="#a1217c"/>
<rect x="21.00" y="375.60" width="16.85" height="1.05" fill="#9b207e"/>
<rect x="37.80" y="375.60" width="16.85" height="1.05" fill="#a9237a"/>
<rect x="54.60" y="375.60" width="16.85" height="1.05" fill="#a4217b"/>
<rect x="71.40" y="375.60" width="16.85" height="1.05" fill="#d76657"/>
<rect x="88.20" y="375.60" width="16.85" height="1.05" fill="#8c1e84"/>
<rect x="105.00" y="375.60" width="16.85" height="1.05" fill="#efa733"/>
<rect x="121.80" y="375.60" width="16.85" height="1.05" fill="#791d88"/>
<rect x="138.60" y="375.60" width="16.85" height="1.05" fill="#e78943"/>
<rect x="155.40" y="375.60" width="16.85" height="1.05" fill="#bb396f"/>
<rect x="172.20" y="375.60" width="16.85" height="1.05" fill="#941f81"/>
<rect x="21.00" y="376.60" width="16.85" height="1.05" fill="#9d207e"/>
<rect x="37.80" y="376.60" width="16.85" height="1.05" fill="#aa2479"/>
<rect x="54.60" y="376.60" width="16.85" height="1.05" fill="#ab2678"/>
<rect x="71.40" y="376.60" width="16.85" height="1.05" fill="#da6d53"/>
<rect x="88.20" y="376.60" width="16.85" height="1.05" fill="#b12d75"/>
<rect x="105.00" y="376.60" width="16.85" height="1.05" fill="#f2b42d"/>
<rect x="121.80" y="376.60" width="16.85" height="1.05" fill="#711e88"/>
<rect x="138.60" y="376.60" width="16.85" height="1.05" fill="#dc7051"/>
<rect x="155.40" y="376.60" width="16.85" height="1.05" fill="#ad2877"/>
<rect x="172.20" y="376.60" width="16.85" height="1.05" fill="#bb3870"/>
<rect x="21.00" y="377.60" width="16.85" height="1.05" fill="#881d85"/>
<rect x="37.80" y="377.60" width="16.85" height="1.05" fill="#8b1e84"/>
<rect x="54.60" y="377.60" width="16.85" height="1.05" fill="#8f1e83"/>
<rect x="71.40" y="377.60" width="16.85" height="1.05" fill="#b53273"/>
<rect x="88.20" y="377.60" width="16.85" height="1.05" fill="#711e88"/>
<rect x="105.00" y="377.60" width="16.85" height="1.05" fill="#f2bb2c"/>
<rect x="121.80" y="377.60" width="16.85" height="1.05" fill="#661f88"/>
<rect x="138.60" y="377.60" width="16.85" height="1.05" fill="#ba3870"/>
<rect x="155.40" y="377.60" width="16.85" height="1.05" fill="#c03e6d"/>
<rect x="172.20" y="377.60" width="16.85" height="1.05" fill="#831c87"/>
<rect x="21.00" y="378.60" width="16.85" height="1.05" fill="#a7227a"/>
<rect x="37.80" y="378.60" width="16.85" height="1.05" fill="#891d85"/>
<rect x="54.60" y="378.60" width="16.85" height="1.05" fill="#a7227a"/>
<rect x="71.40" y="378.60" width="16.85" height="1.05" fill="#d15b5e"/>
<rect x="88.20" y="378.60" width="16.85" height="1.05" fill="#931f81"/>
<rect x="105.00" y="378.60" width="16.85" height="1.05" fill="#f2b72d"/>
<rect x="121.80" y="378.60" width="16.85" height="1.05" fill="#931f81"/>
<rect x="138.60" y="378.60" width="16.85" height="1.05" fill="#ca4c66"/>
<rect x="155.40" y="378.60" width="16.85" height="1.05" fill="#8a1d85"/>
<rect x="172.20" y="378.60" width="16.85" height="1.05" fill="#7f1c88"/>
<rect x="21.00" y="379.60" width="16.85" height="1.05" fill="#a3217c"/>
<rect x="37.80" y="379.60" width="16.85" height="1.05" fill="#751d88"/>
<rect x="54.60" y="379.60" width="16.85" height="1.05" fill="#801c88"/>
<rect x="71.40" y="379.60" width="16.85" height="1.05" fill="#d0585f"/>
<rect x="88.20" y="379.60" width="16.85" height="1.05" fill="#c84868"/>
<rect x="105.00" y="379.60" width="16.85" height="1.05" fill="#eb953d"/>
<rect x="121.80" y="379.60" width="16.85" height="1.05" fill="#412082"/>
<rect x="138.60" y="379.60" width="16.85" height="1.05" fill="#d4615a"/>
<rect x="155.40" y="379.60" width="16.85" height="1.05" fill="#871d85"/>
<rect x="172.20" y="379.60" width="16.85" height="1.05" fill="#861d86"/>
<rect x="21.00" y="380.60" width="16.85" height="1.05" fill="#7c1c88"/>
<rect x="37.80" y="380.60" width="16.85" height="1.05" fill="#871d86"/>
<rect x="54.60" y="380.60" width="16.85" height="1.05" fill="#ad2877"/>
<rect x="71.40" y="380.60" width="16.85" height="1.05" fill="#c4436a"/>
<rect x="88.20" y="380.60" width="16.85" height="1.05" fill="#a0217d"/>
<rect x="105.00" y="380.60" width="16.85" height="1.05" fill="#f3cb29"/>
<rect x="121.80" y="380.60" width="16.85" height="1.05" fill="#412082"/>
<rect x="138.60" y="380.60" width="16.85" height="1.05" fill="#d1595e"/>
<rect x="155.40" y="380.60" width="16.85" height="1.05" fill="#6b1e88"/>
<rect x="172.20" y="380.60" width="16.85" height="1.05" fill="#961f80"/>
<rect x="21.00" y="381.60" width="16.85" height="1.05" fill="#b83571"/>
<rect x="37.80" y="381.60" width="16.85" height="1.05" fill="#982080"/>
<rect x="54.60" y="381.60" width="16.85" height="1.05" fill="#ca4b66"/>
<rect x="71.40" y="381.60" width="16.85" height="1.05" fill="#b53272"/>
<rect x="88.20" y="381.60" width="16.85" height="1.05" fill="#c3416b"/>
<rect x="105.00" y="381.60" width="16.85" height="1.05" fill="#f3c42a"/>
<rect x="121.80" y="381.60" width="16.85" height="1.05" fill="#751d88"/>
<rect x="138.60" y="381.60" width="16.85" height="1.05" fill="#c94967"/>
<rect x="155.40" y="381.60" width="16.85" height="1.05" fill="#671f88"/>
<rect x="172.20" y="381.60" width="16.85" height="1.05" fill="#9e207e"/>
<rect x="21.00" y="382.60" width="16.85" height="1.05" fill="#8f1e83"/>
<rect x="37.80" y="382.60" width="16.85" height="1.05" fill="#a0217d"/>
<rect x="54.60" y="382.60" width="16.85" height="1.05" fill="#d4605b"/>
<rect x="71.40" y="382.60" width="16.85" height="1.05" fill="#b73472"/>
<rect x="88.20" y="382.60" width="16.85" height="1.05" fill="#ca4d65"/>
<rect x="105.00" y="382.60" width="16.85" height="1.05" fill="#f2ba2c"/>
<rect x="121.80" y="382.60" width="16.85" height="1.05" fill="#452185"/>
<rect x="138.60" y="382.60" width="16.85" height="1.05" fill="#ae2977"/>
<rect x="155.40" y="382.60" width="16.85" height="1.05" fill="#6d1e88"/>
<rect x="172.20" y="382.60" width="16.85" height="1.05" fill="#a6227b"/>
<rect x="21.00" y="383.60" width="16.85" height="1.05" fill="#a3217c"/>
<rect x="37.80" y="383.60" width="16.85" height="1.05" fill="#c1406c"/>
<rect x="54.60" y="383.60" width="16.85" height="1.05" fill="#c13f6c"/>
<rect x="71.40" y="383.60" width="16.85" height="1.05" fill="#bc3a6f"/>
<rect x="88.20" y="383.60" width="16.85" height="1.05" fill="#e48148"/>
<rect x="105.00" y="383.60" width="16.85" height="1.05" fill="#f2bb2c"/>
<rect x="121.80" y="383.60" width="16.85" height="1.05" fill="#791d88"/>
<rect x="138.60" y="383.60" width="16.85" height="1.05" fill="#8c1e84"/>
<rect x="155.40" y="383.60" width="16.85" height="1.05" fill="#5c2088"/>
<rect x="172.20" y="383.60" width="16.85" height="1.05" fill="#911f82"/>
<rect x="21.00" y="384.60" width="16.85" height="1.05" fill="#ce5461"/>
<rect x="37.80" y="384.60" width="16.85" height="1.05" fill="#a2217c"/>
<rect x="54.60" y="384.60" width="16.85" height="1.05" fill="#ab2579"/>
<rect x="71.40" y="384.60" width="16.85" height="1.05" fill="#a1217d"/>
<rect x="88.20" y="384.60" width="16.85" height="1.05" fill="#b83671"/>
<rect x="105.00" y="384.60" width="16.85" height="1.05" fill="#f3be2b"/>
<rect x="121.80" y="384.60" width="16.85" height="1.05" fill="#671f88"/>
<rect x="138.60" y="384.60" width="16.85" height="1.05" fill="#d66558"/>
<rect x="155.40" y="384.60" width="16.85" height="1.05" fill="#931f81"/>
<rect x="172.20" y="384.60" width="16.85" height="1.05" fill="#851d86"/>
<rect x="21.00" y="385.60" width="16.85" height="1.05" fill="#b02c75"/>
<rect x="37.80" y="385.60" width="16.85" height="1.05" fill="#c94967"/>
<rect x="54.60" y="385.60" width="16.85" height="1.05" fill="#ad2877"/>
<rect x="71.40" y="385.60" width="16.85" height="1.05" fill="#8c1e84"/>
<rect x="88.20" y="385.60" width="16.85" height="1.05" fill="#b63272"/>
<rect x="105.00" y="385.60" width="16.85" height="1.05" fill="#cb4e64"/>
<rect x="121.80" y="385.60" width="16.85" height="1.05" fill="#f4e324"/>
<rect x="138.60" y="385.60" width="16.85" height="1.05" fill="#7b1d88"/>
<rect x="155.40" y="385.60" width="16.85" height="1.05" fill="#c84968"/>
<rect x="172.20" y="385.60" width="16.85" height="1.05" fill="#9c207e"/>
<rect x="21.00" y="386.60" width="16.85" height="1.05" fill="#c03e6d"/>
<rect x="37.80" y="386.60" width="16.85" height="1.05" fill="#b53272"/>
<rect x="54.60" y="386.60" width="16.85" height="1.05" fill="#8f1e83"/>
<rect x="71.40" y="386.60" width="16.85" height="1.05" fill="#9a207f"/>
<rect x="88.20" y="386.60" width="16.85" height="1.05" fill="#741d88"/>
<rect x="105.00" y="386.60" width="16.85" height="1.05" fill="#b93671"/>
<rect x="121.80" y="386.60" width="16.85" height="1.05" fill="#f3d627"/>
<rect x="138.60" y="386.60" width="16.85" height="1.05" fill="#5b2088"/>
<rect x="155.40" y="386.60" width="16.85" height="1.05" fill="#8a1e84"/>
<rect x="172.20" y="386.60" width="16.85" height="1.05" fill="#881d85"/>
<rect x="21.00" y="387.60" width="16.85" height="1.05" fill="#b83571"/>
<rect x="37.80" y="387.60" width="16.85" height="1.05" fill="#a0217d"/>
<rect x="54.60" y="387.60" width="16.85" height="1.05" fill="#d15b5d"/>
<rect x="71.40" y="387.60" width="16.85" height="1.05" fill="#9b207f"/>
<rect x="88.20" y="387.60" width="16.85" height="1.05" fill="#b93770"/>
<rect x="105.00" y="387.60" width="16.85" height="1.05" fill="#b43173"/>
<rect x="121.80" y="387.60" width="16.85" height="1.05" fill="#f3d427"/>
<rect x="138.60" y="387.60" width="16.85" height="1.05" fill="#a3217c"/>
<rect x="155.40" y="387.60" width="16.85" height="1.05" fill="#a4217b"/>
<rect x="172.20" y="387.60" width="16.85" height="1.05" fill="#bd3a6e"/>
<rect x="21.00" y="388.60" width="16.85" height="1.05" fill="#8e1e83"/>
<rect x="37.80" y="388.60" width="16.85" height="1.05" fill="#b12d75"/>
<rect x="54.60" y="388.60" width="16.85" height="1.05" fill="#b63372"/>
<rect x="71.40" y="388.60" width="16.85" height="1.05" fill="#b63372"/>
<rect x="88.20" y="388.60" width="16.85" height="1.05" fill="#b02c75"/>
<rect x="105.00" y="388.60" width="16.85" height="1.05" fill="#982080"/>
<rect x="121.80" y="388.60" width="16.85" height="1.05" fill="#f4e424"/>
<rect x="138.60" y="388.60" width="16.85" height="1.05" fill="#a5227b"/>
<rect x="155.40" y="388.60" width="16.85" height="1.05" fill="#af2b76"/>
<rect x="172.20" y="388.60" width="16.85" height="1.05" fill="#cc5063"/>
<rect x="21.00" y="389.60" width="16.85" height="1.05" fill="#851d86"/>
<rect x="37.80" y="389.60" width="16.85" height="1.05" fill="#ad2877"/>
<rect x="54.60" y="389.60" width="16.85" height="1.05" fill="#a5217b"/>
<rect x="71.40" y="389.60" width="16.85" height="1.05" fill="#c2416b"/>
<rect x="88.20" y="389.60" width="16.85" height="1.05" fill="#b12c75"/>
<rect x="105.00" y="389.60" width="16.85" height="1.05" fill="#ad2877"/>
<rect x="121.80" y="389.60" width="16.85" height="1.05" fill="#f4e424"/>
<rect x="138.60" y="389.60" width="16.85" height="1.05" fill="#801c88"/>
<rect x="155.40" y="389.60" width="16.85" height="1.05" fill="#891d85"/>
<rect x="172.20" y="389.60" width="16.85" height="1.05" fill="#ce5461"/>
<rect x="21.00" y="390.60" width="16.85" height="1.05" fill="#ab2678"/>
<rect x="37.80" y="390.60" width="16.85" height="1.05" fill="#bd3b6e"/>
<rect x="54.60" y="390.60" width="16.85" height="1.05" fill="#b83571"/>
<rect x="71.40" y="390.60" width="16.85" height="1.05" fill="#e37d4a"/>
<rect x="88.20" y="390.60" width="16.85" height="1.05" fill="#c1406c"/>
<rect x="105.00" y="390.60" width="16.85" height="1.05" fill="#aa2579"/>
<rect x="121.80" y="390.60" width="16.85" height="1.05" fill="#f4e224"/>
<rect x="138.60" y="390.60" width="16.85" height="1.05" fill="#761d88"/>
<rect x="155.40" y="390.60" width="16.85" height="1.05" fill="#b22e74"/>
<rect x="172.20" y="390.60" width="16.85" height="1.05" fill="#bf3e6d"/>
<rect x="21.00" y="391.60" width="16.85" height="1.05" fill="#b83471"/>
<rect x="37.80" y="391.60" width="16.85" height="1.05" fill="#c03e6d"/>
<rect x="54.60" y="391.60" width="16.85" height="1.05" fill="#6d1e88"/>
<rect x="71.40" y="391.60" width="16.85" height="1.05" fill="#9c207e"/>
<rect x="88.20" y="391.60" width="16.85" height="1.05" fill="#8d1e83"/>
<rect x="105.00" y="391.60" width="16.85" height="1.05" fill="#8e1e83"/>
<rect x="121.80" y="391.60" width="16.85" height="1.05" fill="#f3d527"/>
<rect x="138.60" y="391.60" width="16.85" height="1.05" fill="#731d88"/>
<rect x="155.40" y="391.60" width="16.85" height="1.05" fill="#761d88"/>
<rect x="172.20" y="391.60" width="16.85" height="1.05" fill="#b83571"/>
<rect x="21.00" y="392.60" width="16.85" height="1.05" fill="#ae2977"/>
<rect x="37.80" y="392.60" width="16.85" height="1.05" fill="#b43073"/>
<rect x="54.60" y="392.60" width="16.85" height="1.05" fill="#951f81"/>
<rect x="71.40" y="392.60" width="16.85" height="1.05" fill="#b02b76"/>
<rect x="88.20" y="392.60" width="16.85" height="1.05" fill="#621f88"/>
<rect x="105.00" y="392.60" width="16.85" height="1.05" fill="#881d85"/>
<rect x="121.80" y="392.60" width="16.85" height="1.05" fill="#f4e424"/>
<rect x="138.60" y="392.60" width="16.85" height="1.05" fill="#781d88"/>
<rect x="155.40" y="392.60" width="16.85" height="1.05" fill="#99207f"/>
<rect x="172.20" y="392.60" width="16.85" height="1.05" fill="#a7227a"/>
<rect x="21.00" y="393.60" width="16.85" height="1.05" fill="#841d87"/>
<rect x="37.80" y="393.60" width="16.85" height="1.05" fill="#e78844"/>
<rect x="54.60" y="393.60" width="16.85" height="1.05" fill="#6b1e88"/>
<rect x="71.40" y="393.60" width="16.85" height="1.05" fill="#c74769"/>
<rect x="88.20" y="393.60" width="16.85" height="1.05" fill="#7a1d88"/>
<rect x="105.00" y="393.60" width="16.85" height="1.05" fill="#941f81"/>
<rect x="121.80" y="393.60" width="16.85" height="1.05" fill="#f4e424"/>
<rect x="138.60" y="393.60" width="16.85" height="1.05" fill="#582088"/>
<rect x="155.40" y="393.60" width="16.85" height="1.05" fill="#c94967"/>
<rect x="172.20" y="393.60" width="16.85" height="1.05" fill="#ad2877"/>
<rect x="21.00" y="394.60" width="16.85" height="1.05" fill="#8e1e83"/>
<rect x="37.80" y="394.60" width="16.85" height="1.05" fill="#d86955"/>
<rect x="54.60" y="394.60" width="16.85" height="1.05" fill="#681f88"/>
<rect x="71.40" y="394.60" width="16.85" height="1.05" fill="#b22e74"/>
<rect x="88.20" y="394.60" width="16.85" height="1.05" fill="#791d88"/>
<rect x="105.00" y="394.60" width="16.85" height="1.05" fill="#b63272"/>
<rect x="121.80" y="394.60" width="16.85" height="1.05" fill="#f4e424"/>
<rect x="138.60" y="394.60" width="16.85" height="1.05" fill="#321d78"/>
<rect x="155.40" y="394.60" width="16.85" height="1.05" fill="#c2416b"/>
<rect x="172.20" y="394.60" width="16.85" height="1.05" fill="#cb4f64"/>
<rect x="21.00" y="395.60" width="16.85" height="1.05" fill="#631f88"/>
<rect x="37.80" y="395.60" width="16.85" height="1.05" fill="#d35e5c"/>
<rect x="54.60" y="395.60" width="16.85" height="1.05" fill="#701e88"/>
<rect x="71.40" y="395.60" width="16.85" height="1.05" fill="#911f82"/>
<rect x="88.20" y="395.60" width="16.85" height="1.05" fill="#532188"/>
<rect x="105.00" y="395.60" width="16.85" height="1.05" fill="#aa2579"/>
<rect x="121.80" y="395.60" width="16.85" height="1.05" fill="#f4de25"/>
<rect x="138.60" y="395.60" width="16.85" height="1.05" fill="#402081"/>
<rect x="155.40" y="395.60" width="16.85" height="1.05" fill="#be3c6e"/>
<rect x="172.20" y="395.60" width="16.85" height="1.05" fill="#c5446a"/>
<rect x="21.00" y="396.60" width="16.85" height="1.05" fill="#721e88"/>
<rect x="37.80" y="396.60" width="16.85" height="1.05" fill="#c94b66"/>
<rect x="54.60" y="396.60" width="16.85" height="1.05" fill="#891d85"/>
<rect x="71.40" y="396.60" width="16.85" height="1.05" fill="#a2217c"/>
<rect x="88.20" y="396.60" width="16.85" height="1.05" fill="#661f88"/>
<rect x="105.00" y="396.60" width="16.85" height="1.05" fill="#ab2678"/>
<rect x="121.80" y="396.60" width="16.85" height="1.05" fill="#f4de25"/>
<rect x="138.60" y="396.60" width="16.85" height="1.05" fill="#442184"/>
<rect x="155.40" y="396.60" width="16.85" height="1.05" fill="#c64669"/>
<rect x="172.20" y="396.60" width="16.85" height="1.05" fill="#da6b54"/>
<rect x="21.00" y="397.60" width="16.85" height="1.05" fill="#911e82"/>
<rect x="37.80" y="397.60" width="16.85" height="1.05" fill="#c4436a"/>
<rect x="54.60" y="397.60" width="16.85" height="1.05" fill="#941f81"/>
<rect x="71.40" y="397.60" width="16.85" height="1.05" fill="#b12c75"/>
<rect x="88.20" y="397.60" width="16.85" height="1.05" fill="#671f88"/>
<rect x="105.00" y="397.60" width="16.85" height="1.05" fill="#b93671"/>
<rect x="121.80" y="397.60" width="16.85" height="1.05" fill="#f4e424"/>
<rect x="138.60" y="397.60" width="16.85" height="1.05" fill="#1f1a6c"/>
<rect x="155.40" y="397.60" width="16.85" height="1.05" fill="#c84868"/>
<rect x="172.20" y="397.60" width="16.85" height="1.05" fill="#d35d5c"/>
<rect x="21.00" y="398.60" width="16.85" height="1.05" fill="#901e82"/>
<rect x="37.80" y="398.60" width="16.85" height="1.05" fill="#d25d5c"/>
<rect x="54.60" y="398.60" width="16.85" height="1.05" fill="#bc3a6f"/>
<rect x="71.40" y="398.60" width="16.85" height="1.05" fill="#a9237a"/>
<rect x="88.20" y="398.60" width="16.85" height="1.05" fill="#b63272"/>
<rect x="105.00" y="398.60" width="16.85" height="1.05" fill="#d56259"/>
<rect x="121.80" y="398.60" width="16.85" height="1.05" fill="#f4dc26"/>
<rect x="138.60" y="398.60" width="16.85" height="1.05" fill="#221b6e"/>
<rect x="155.40" y="398.60" width="16.85" height="1.05" fill="#ce5561"/>
<rect x="172.20" y="398.60" width="16.85" height="1.05" fill="#ea933e"/>
<rect x="21.00" y="399.60" width="16.85" height="1.05" fill="#5a2088"/>
<rect x="37.80" y="399.60" width="16.85" height="1.05" fill="#a0217d"/>
<rect x="54.60" y="399.60" width="16.85" height="1.05" fill="#cd5163"/>
<rect x="71.40" y="399.60" width="16.85" height="1.05" fill="#af2a76"/>
<rect x="88.20" y="399.60" width="16.85" height="1.05" fill="#a2217c"/>
<rect x="105.00" y="399.60" width="16.85" height="1.05" fill="#dc7151"/>
<rect x="121.80" y="399.60" width="16.85" height="1.05" fill="#f4e424"/>
<rect x="138.60" y="399.60" width="16.85" height="1.05" fill="#502188"/>
<rect x="155.40" y="399.60" width="16.85" height="1.05" fill="#d76558"/>
<rect x="172.20" y="399.60" width="16.85" height="1.05" fill="#d66458"/>
<rect x="21.00" y="400.60" width="16.85" height="1.05" fill="#6c1e88"/>
<rect x="37.80" y="400.60" width="16.85" height="1.05" fill="#c74669"/>
<rect x="54.60" y="400.60" width="16.85" height="1.05" fill="#cd5263"/>
<rect x="71.40" y="400.60" width="16.85" height="1.05" fill="#ac2778"/>
<rect x="88.20" y="400.60" width="16.85" height="1.05" fill="#a1217c"/>
<rect x="105.00" y="400.60" width="16.85" height="1.05" fill="#cb4e65"/>
<rect x="121.80" y="400.60" width="16.85" height="1.05" fill="#f3d128"/>
<rect x="138.60" y="400.60" width="16.85" height="1.05" fill="#522188"/>
<rect x="155.40" y="400.60" width="16.85" height="1.05" fill="#d66558"/>
<rect x="172.20" y="400.60" width="16.85" height="1.05" fill="#9e207e"/>
<rect x="21.00" y="401.60" width="16.85" height="1.05" fill="#871d86"/>
<rect x="37.80" y="401.60" width="16.85" height="1.05" fill="#bb386f"/>
<rect x="54.60" y="401.60" width="16.85" height="1.05" fill="#781d88"/>
<rect x="71.40" y="401.60" width="16.85" height="1.05" fill="#9c207e"/>
<rect x="88.20" y="401.60" width="16.85" height="1.05" fill="#811c88"/>
<rect x="105.00" y="401.60" width="16.85" height="1.05" fill="#c2416b"/>
<rect x="121.80" y="401.60" width="16.85" height="1.05" fill="#f4e125"/>
<rect x="138.60" y="401.60" width="16.85" height="1.05" fill="#3d2080"/>
<rect x="155.40" y="401.60" width="16.85" height="1.05" fill="#a2217c"/>
<rect x="172.20" y="401.60" width="16.85" height="1.05" fill="#931f81"/>
<rect x="21.00" y="402.60" width="16.85" height="1.05" fill="#851d86"/>
<rect x="37.80" y="402.60" width="16.85" height="1.05" fill="#b43173"/>
<rect x="54.60" y="402.60" width="16.85" height="1.05" fill="#7e1c88"/>
<rect x="71.40" y="402.60" width="16.85" height="1.05" fill="#b73471"/>
<rect x="88.20" y="402.60" width="16.85" height="1.05" fill="#741d88"/>
<rect x="105.00" y="402.60" width="16.85" height="1.05" fill="#972080"/>
<rect x="121.80" y="402.60" width="16.85" height="1.05" fill="#f4da26"/>
<rect x="138.60" y="402.60" width="16.85" height="1.05" fill="#761d88"/>
<rect x="155.40" y="402.60" width="16.85" height="1.05" fill="#a9237a"/>
<rect x="172.20" y="402.60" width="16.85" height="1.05" fill="#b93670"/>
<rect x="21.00" y="403.60" width="16.85" height="1.05" fill="#891d85"/>
<rect x="37.80" y="403.60" width="16.85" height="1.05" fill="#cd5362"/>
<rect x="54.60" y="403.60" width="16.85" height="1.05" fill="#a6227b"/>
<rect x="71.40" y="403.60" width="16.85" height="1.05" fill="#b63272"/>
<rect x="88.20" y="403.60" width="16.85" height="1.05" fill="#781d88"/>
<rect x="105.00" y="403.60" width="16.85" height="1.05" fill="#aa2479"/>
<rect x="121.80" y="403.60" width="16.85" height="1.05" fill="#f3d627"/>
<rect x="138.60" y="403.60" width="16.85" height="1.05" fill="#701e88"/>
<rect x="155.40" y="403.60" width="16.85" height="1.05" fill="#ab2678"/>
<rect x="172.20" y="403.60" width="16.85" height="1.05" fill="#c94a67"/>
<rect x="21.00" y="404.60" width="16.85" height="1.05" fill="#7e1c88"/>
<rect x="37.80" y="404.60" width="16.85" height="1.05" fill="#d4605a"/>
<rect x="54.60" y="404.60" width="16.85" height="1.05" fill="#c3426b"/>
<rect x="71.40" y="404.60" width="16.85" height="1.05" fill="#ae2976"/>
<rect x="88.20" y="404.60" width="16.85" height="1.05" fill="#6f1e88"/>
<rect x="105.00" y="404.60" width="16.85" height="1.05" fill="#ba3770"/>
<rect x="121.80" y="404.60" width="16.85" height="1.05" fill="#f3ca29"/>
<rect x="138.60" y="404.60" width="16.85" height="1.05" fill="#592088"/>
<rect x="155.40" y="404.60" width="16.85" height="1.05" fill="#c2416b"/>
<rect x="172.20" y="404.60" width="16.85" height="1.05" fill="#e88a43"/>
<rect x="21.00" y="405.60" width="16.85" height="1.05" fill="#ab2678"/>
<rect x="37.80" y="405.60" width="16.85" height="1.05" fill="#ea933e"/>
<rect x="54.60" y="405.60" width="16.85" height="1.05" fill="#d96955"/>
<rect x="71.40" y="405.60" width="16.85" height="1.05" fill="#5b2088"/>
<rect x="88.20" y="405.60" width="16.85" height="1.05" fill="#951f81"/>
<rect x="105.00" y="405.60" width="16.85" height="1.05" fill="#b12c75"/>
<rect x="121.80" y="405.60" width="16.85" height="1.05" fill="#f4e424"/>
<rect x="138.60" y="405.60" width="16.85" height="1.05" fill="#4e2288"/>
<rect x="155.40" y="405.60" width="16.85" height="1.05" fill="#a6227b"/>
<rect x="172.20" y="405.60" width="16.85" height="1.05" fill="#c5446a"/>
<rect x="21.00" y="406.60" width="16.85" height="1.05" fill="#cd5262"/>
<rect x="37.80" y="406.60" width="16.85" height="1.05" fill="#e37f49"/>
<rect x="54.60" y="406.60" width="16.85" height="1.05" fill="#dc7051"/>
<rect x="71.40" y="406.60" width="16.85" height="1.05" fill="#cc4f64"/>
<rect x="88.20" y="406.60" width="16.85" height="1.05" fill="#dc7051"/>
<rect x="105.00" y="406.60" width="16.85" height="1.05" fill="#ae2977"/>
<rect x="121.80" y="406.60" width="16.85" height="1.05" fill="#681f88"/>
<rect x="138.60" y="406.60" width="16.85" height="1.05" fill="#f4dc26"/>
<rect x="155.40" y="406.60" width="16.85" height="1.05" fill="#9e217d"/>
<rect x="172.20" y="406.60" width="16.85" height="1.05" fill="#ac2678"/>
<rect x="21.00" y="407.60" width="16.85" height="1.05" fill="#741d88"/>
<rect x="37.80" y="407.60" width="16.85" height="1.05" fill="#cf5560"/>
<rect x="54.60" y="407.60" width="16.85" height="1.05" fill="#8c1e84"/>
<rect x="71.40" y="407.60" width="16.85" height="1.05" fill="#8c1e84"/>
<rect x="88.20" y="407.60" width="16.85" height="1.05" fill="#b63372"/>
<rect x="105.00" y="407.60" width="16.85" height="1.05" fill="#b22e74"/>
<rect x="121.80" y="407.60" width="16.85" height="1.05" fill="#711e88"/>
<rect x="138.60" y="407.60" width="16.85" height="1.05" fill="#f4e025"/>
<rect x="155.40" y="407.60" width="16.85" height="1.05" fill="#661f88"/>
<rect x="172.20" y="407.60" width="16.85" height="1.05" fill="#791d88"/>
<rect x="21.00" y="408.60" width="16.85" height="1.05" fill="#751d88"/>
<rect x="37.80" y="408.60" width="16.85" height="1.05" fill="#cf5660"/>
<rect x="54.60" y="408.60" width="16.85" height="1.05" fill="#771d88"/>
<rect x="71.40" y="408.60" width="16.85" height="1.05" fill="#901e82"/>
<rect x="88.20" y="408.60" width="16.85" height="1.05" fill="#b22e74"/>
<rect x="105.00" y="408.60" width="16.85" height="1.05" fill="#a6227b"/>
<rect x="121.80" y="408.60" width="16.85" height="1.05" fill="#562188"/>
<rect x="138.60" y="408.60" width="16.85" height="1.05" fill="#f4dc26"/>
<rect x="155.40" y="408.60" width="16.85" height="1.05" fill="#602088"/>
<rect x="172.20" y="408.60" width="16.85" height="1.05" fill="#721e88"/>
<rect x="21.00" y="409.60" width="16.85" height="1.05" fill="#8b1e84"/>
<rect x="37.80" y="409.60" width="16.85" height="1.05" fill="#791d88"/>
<rect x="54.60" y="409.60" width="16.85" height="1.05" fill="#a8227a"/>
<rect x="71.40" y="409.60" width="16.85" height="1.05" fill="#b22e74"/>
<rect x="88.20" y="409.60" width="16.85" height="1.05" fill="#ab2678"/>
<rect x="105.00" y="409.60" width="16.85" height="1.05" fill="#a5227b"/>
<rect x="121.80" y="409.60" width="16.85" height="1.05" fill="#1f1a6c"/>
<rect x="138.60" y="409.60" width="16.85" height="1.05" fill="#f3d227"/>
<rect x="155.40" y="409.60" width="16.85" height="1.05" fill="#ab2678"/>
<rect x="172.20" y="409.60" width="16.85" height="1.05" fill="#ca4b66"/>
<rect x="21.00" y="410.60" width="16.85" height="1.05" fill="#921f82"/>
<rect x="37.80" y="410.60" width="16.85" height="1.05" fill="#ab2678"/>
<rect x="54.60" y="410.60" width="16.85" height="1.05" fill="#cd5262"/>
<rect x="71.40" y="410.60" width="16.85" height="1.05" fill="#ae2977"/>
<rect x="88.20" y="410.60" width="16.85" height="1.05" fill="#e99040"/>
<rect x="105.00" y="410.60" width="16.85" height="1.05" fill="#a1217c"/>
<rect x="121.80" y="410.60" width="16.85" height="1.05" fill="#592088"/>
<rect x="138.60" y="410.60" width="16.85" height="1.05" fill="#f4d826"/>
<rect x="155.40" y="410.60" width="16.85" height="1.05" fill="#c5456a"/>
<rect x="172.20" y="410.60" width="16.85" height="1.05" fill="#c84968"/>
<rect x="21.00" y="411.60" width="16.85" height="1.05" fill="#731d88"/>
<rect x="37.80" y="411.60" width="16.85" height="1.05" fill="#ae2a76"/>
<rect x="54.60" y="411.60" width="16.85" height="1.05" fill="#e37e49"/>
<rect x="71.40" y="411.60" width="16.85" height="1.05" fill="#971f80"/>
<rect x="88.20" y="411.60" width="16.85" height="1.05" fill="#df764e"/>
<rect x="105.00" y="411.60" width="16.85" height="1.05" fill="#a92379"/>
<rect x="121.80" y="411.60" width="16.85" height="1.05" fill="#4f2188"/>
<rect x="138.60" y="411.60" width="16.85" height="1.05" fill="#f4e125"/>
<rect x="155.40" y="411.60" width="16.85" height="1.05" fill="#d76558"/>
<rect x="172.20" y="411.60" width="16.85" height="1.05" fill="#cf5660"/>
<rect x="21.00" y="412.60" width="16.85" height="1.05" fill="#8c1e84"/>
<rect x="37.80" y="412.60" width="16.85" height="1.05" fill="#921f82"/>
<rect x="54.60" y="412.60" width="16.85" height="1.05" fill="#cb4e64"/>
<rect x="71.40" y="412.60" width="16.85" height="1.05" fill="#d86856"/>
<rect x="88.20" y="412.60" width="16.85" height="1.05" fill="#e78645"/>
<rect x="105.00" y="412.60" width="16.85" height="1.05" fill="#7b1d88"/>
<rect x="121.80" y="412.60" width="16.85" height="1.05" fill="#251b70"/>
<rect x="138.60" y="412.60" width="16.85" height="1.05" fill="#f4dd25"/>
<rect x="155.40" y="412.60" width="16.85" height="1.05" fill="#c5456a"/>
<rect x="172.20" y="412.60" width="16.85" height="1.05" fill="#aa2479"/>
<rect x="21.00" y="413.60" width="16.85" height="1.05" fill="#951f81"/>
<rect x="37.80" y="413.60" width="16.85" height="1.05" fill="#b43073"/>
<rect x="54.60" y="413.60" width="16.85" height="1.05" fill="#b83671"/>
<rect x="71.40" y="413.60" width="16.85" height="1.05" fill="#e58347"/>
<rect x="88.20" y="413.60" width="16.85" height="1.05" fill="#ac2778"/>
<rect x="105.00" y="413.60" width="16.85" height="1.05" fill="#8f1e83"/>
<rect x="121.80" y="413.60" width="16.85" height="1.05" fill="#452185"/>
<rect x="138.60" y="413.60" width="16.85" height="1.05" fill="#f3d427"/>
<rect x="155.40" y="413.60" width="16.85" height="1.05" fill="#cf5660"/>
<rect x="172.20" y="413.60" width="16.85" height="1.05" fill="#6d1e88"/>
<rect x="21.00" y="414.60" width="16.85" height="1.05" fill="#d0585f"/>
<rect x="37.80" y="414.60" width="16.85" height="1.05" fill="#c94a67"/>
<rect x="54.60" y="414.60" width="16.85" height="1.05" fill="#ab2678"/>
<rect x="71.40" y="414.60" width="16.85" height="1.05" fill="#e88a43"/>
<rect x="88.20" y="414.60" width="16.85" height="1.05" fill="#c5446a"/>
<rect x="105.00" y="414.60" width="16.85" height="1.05" fill="#641f88"/>
<rect x="121.80" y="414.60" width="16.85" height="1.05" fill="#532188"/>
<rect x="138.60" y="414.60" width="16.85" height="1.05" fill="#f4e424"/>
<rect x="155.40" y="414.60" width="16.85" height="1.05" fill="#aa2479"/>
<rect x="172.20" y="414.60" width="16.85" height="1.05" fill="#751d88"/>
<rect x="21.00" y="415.60" width="16.85" height="1.05" fill="#cf5561"/>
<rect x="37.80" y="415.60" width="16.85" height="1.05" fill="#b53273"/>
<rect x="54.60" y="415.60" width="16.85" height="1.05" fill="#9a207f"/>
<rect x="71.40" y="415.60" width="16.85" height="1.05" fill="#c03f6c"/>
<rect x="88.20" y="415.60" width="16.85" height="1.05" fill="#ac2778"/>
<rect x="105.00" y="415.60" width="16.85" height="1.05" fill="#871d86"/>
<rect x="121.80" y="415.60" width="16.85" height="1.05" fill="#6f1e88"/>
<rect x="138.60" y="415.60" width="16.85" height="1.05" fill="#f4e025"/>
<rect x="155.40" y="415.60" width="16.85" height="1.05" fill="#8c1e84"/>
<rect x="172.20" y="415.60" width="16.85" height="1.05" fill="#931f81"/>
<rect x="21.00" y="416.60" width="16.85" height="1.05" fill="#dc7051"/>
<rect x="37.80" y="416.60" width="16.85" height="1.05" fill="#af2a76"/>
<rect x="54.60" y="416.60" width="16.85" height="1.05" fill="#99207f"/>
<rect x="71.40" y="416.60" width="16.85" height="1.05" fill="#d4605a"/>
<rect x="88.20" y="416.60" width="16.85" height="1.05" fill="#de744f"/>
<rect x="105.00" y="416.60" width="16.85" height="1.05" fill="#951f81"/>
<rect x="121.80" y="416.60" width="16.85" height="1.05" fill="#711e88"/>
<rect x="138.60" y="416.60" width="16.85" height="1.05" fill="#f4da26"/>
<rect x="155.40" y="416.60" width="16.85" height="1.05" fill="#921f82"/>
<rect x="172.20" y="416.60" width="16.85" height="1.05" fill="#b73471"/>
<rect x="21.00" y="417.60" width="16.85" height="1.05" fill="#e0794c"/>
<rect x="37.80" y="417.60" width="16.85" height="1.05" fill="#8b1e84"/>
<rect x="54.60" y="417.60" width="16.85" height="1.05" fill="#bb396f"/>
<rect x="71.40" y="417.60" width="16.85" height="1.05" fill="#bd3b6e"/>
<rect x="88.20" y="417.60" width="16.85" height="1.05" fill="#e37d4a"/>
<rect x="105.00" y="417.60" width="16.85" height="1.05" fill="#592088"/>
<rect x="121.80" y="417.60" width="16.85" height="1.05" fill="#721e88"/>
<rect x="138.60" y="417.60" width="16.85" height="1.05" fill="#f4da26"/>
<rect x="155.40" y="417.60" width="16.85" height="1.05" fill="#c4436a"/>
<rect x="172.20" y="417.60" width="16.85" height="1.05" fill="#b53173"/>
<rect x="21.00" y="418.60" width="16.85" height="1.05" fill="#c1406c"/>
<rect x="37.80" y="418.60" width="16.85" height="1.05" fill="#d96955"/>
<rect x="54.60" y="418.60" width="16.85" height="1.05" fill="#ad2877"/>
<rect x="71.40" y="418.60" width="16.85" height="1.05" fill="#ea933e"/>
<rect x="88.20" y="418.60" width="16.85" height="1.05" fill="#d0575f"/>
<rect x="105.00" y="418.60" width="16.85" height="1.05" fill="#631f88"/>
<rect x="121.80" y="418.60" width="16.85" height="1.05" fill="#921f82"/>
<rect x="138.60" y="418.60" width="16.85" height="1.05" fill="#f4e025"/>
<rect x="155.40" y="418.60" width="16.85" height="1.05" fill="#bc3a6f"/>
<rect x="172.20" y="418.60" width="16.85" height="1.05" fill="#8c1e84"/>
<rect x="21.00" y="419.60" width="16.85" height="1.05" fill="#a8227a"/>
<rect x="37.80" y="419.60" width="16.85" height="1.05" fill="#ad2877"/>
<rect x="54.60" y="419.60" width="16.85" height="1.05" fill="#a8227a"/>
<rect x="71.40" y="419.60" width="16.85" height="1.05" fill="#9a207f"/>
<rect x="88.20" y="419.60" width="16.85" height="1.05" fill="#d25d5c"/>
<rect x="105.00" y="419.60" width="16.85" height="1.05" fill="#631f88"/>
<rect x="121.80" y="419.60" width="16.85" height="1.05" fill="#9e207e"/>
<rect x="138.60" y="419.60" width="16.85" height="1.05" fill="#f4e025"/>
<rect x="155.40" y="419.60" width="16.85" height="1.05" fill="#921f82"/>
<rect x="172.20" y="419.60" width="16.85" height="1.05" fill="#791d88"/>
<rect x="21.00" y="420.60" width="16.85" height="1.05" fill="#b73472"/>
<rect x="37.80" y="420.60" width="16.85" height="1.05" fill="#a92379"/>
<rect x="54.60" y="420.60" width="16.85" height="1.05" fill="#941f81"/>
<rect x="71.40" y="420.60" width="16.85" height="1.05" fill="#bf3d6d"/>
<rect x="88.20" y="420.60" width="16.85" height="1.05" fill="#e0784d"/>
<rect x="105.00" y="420.60" width="16.85" height="1.05" fill="#4d2288"/>
<rect x="121.80" y="420.60" width="16.85" height="1.05" fill="#6c1e88"/>
<rect x="138.60" y="420.60" width="16.85" height="1.05" fill="#f4dd25"/>
<rect x="155.40" y="420.60" width="16.85" height="1.05" fill="#cc5163"/>
<rect x="172.20" y="420.60" width="16.85" height="1.05" fill="#b02c75"/>
<rect x="21.00" y="421.60" width="16.85" height="1.05" fill="#bf3d6d"/>
<rect x="37.80" y="421.60" width="16.85" height="1.05" fill="#961f80"/>
<rect x="54.60" y="421.60" width="16.85" height="1.05" fill="#c03f6c"/>
<rect x="71.40" y="421.60" width="16.85" height="1.05" fill="#bd3b6e"/>
<rect x="88.20" y="421.60" width="16.85" height="1.05" fill="#c5456a"/>
<rect x="105.00" y="421.60" width="16.85" height="1.05" fill="#b02b76"/>
<rect x="121.80" y="421.60" width="16.85" height="1.05" fill="#472186"/>
<rect x="138.60" y="421.60" width="16.85" height="1.05" fill="#f4e424"/>
<rect x="155.40" y="421.60" width="16.85" height="1.05" fill="#c74669"/>
<rect x="172.20" y="421.60" width="16.85" height="1.05" fill="#931f81"/>
<rect x="21.00" y="422.60" width="16.85" height="1.05" fill="#941f81"/>
<rect x="37.80" y="422.60" width="16.85" height="1.05" fill="#a7227a"/>
<rect x="54.60" y="422.60" width="16.85" height="1.05" fill="#9e217d"/>
<rect x="71.40" y="422.60" width="16.85" height="1.05" fill="#9d207e"/>
<rect x="88.20" y="422.60" width="16.85" height="1.05" fill="#ea933e"/>
<rect x="105.00" y="422.60" width="16.85" height="1.05" fill="#951f81"/>
<rect x="121.80" y="422.60" width="16.85" height="1.05" fill="#701e88"/>
<rect x="138.60" y="422.60" width="16.85" height="1.05" fill="#f4e324"/>
<rect x="155.40" y="422.60" width="16.85" height="1.05" fill="#c64669"/>
<rect x="172.20" y="422.60" width="16.85" height="1.05" fill="#6e1e88"/>
<rect x="21.00" y="423.60" width="16.85" height="1.05" fill="#2d1d75"/>
<rect x="37.80" y="423.60" width="16.85" height="1.05" fill="#bc3a6f"/>
<rect x="54.60" y="423.60" width="16.85" height="1.05" fill="#a0217d"/>
<rect x="71.40" y="423.60" width="16.85" height="1.05" fill="#811c88"/>
<rect x="88.20" y="423.60" width="16.85" height="1.05" fill="#e78844"/>
<rect x="105.00" y="423.60" width="16.85" height="1.05" fill="#9b207f"/>
<rect x="121.80" y="423.60" width="16.85" height="1.05" fill="#b43173"/>
<rect x="138.60" y="423.60" width="16.85" height="1.05" fill="#f4e424"/>
<rect x="155.40" y="423.60" width="16.85" height="1.05" fill="#c3426b"/>
<rect x="172.20" y="423.60" width="16.85" height="1.05" fill="#871d86"/>
<rect x="21.00" y="424.60" width="16.85" height="1.05" fill="#6a1e88"/>
<rect x="37.80" y="424.60" width="16.85" height="1.05" fill="#bd3b6e"/>
<rect x="54.60" y="424.60" width="16.85" height="1.05" fill="#c3426b"/>
<rect x="71.40" y="424.60" width="16.85" height="1.05" fill="#cf5760"/>
<rect x="88.20" y="424.60" width="16.85" height="1.05" fill="#c84868"/>
<rect x="105.00" y="424.60" width="16.85" height="1.05" fill="#891d85"/>
<rect x="121.80" y="424.60" width="16.85" height="1.05" fill="#a1217c"/>
<rect x="138.60" y="424.60" width="16.85" height="1.05" fill="#f4e424"/>
<rect x="155.40" y="424.60" width="16.85" height="1.05" fill="#bd3b6e"/>
<rect x="172.20" y="424.60" width="16.85" height="1.05" fill="#6d1e88"/>
<rect x="21.00" y="425.60" width="16.85" height="1.05" fill="#9b207f"/>
<rect x="37.80" y="425.60" width="16.85" height="1.05" fill="#e88b42"/>
<rect x="54.60" y="425.60" width="16.85" height="1.05" fill="#be3c6e"/>
<rect x="71.40" y="425.60" width="16.85" height="1.05" fill="#ea933e"/>
<rect x="88.20" y="425.60" width="16.85" height="1.05" fill="#b43073"/>
<rect x="105.00" y="425.60" width="16.85" height="1.05" fill="#af2a76"/>
<rect x="121.80" y="425.60" width="16.85" height="1.05" fill="#911e82"/>
<rect x="138.60" y="425.60" width="16.85" height="1.05" fill="#f3d727"/>
<rect x="155.40" y="425.60" width="16.85" height="1.05" fill="#ae2977"/>
<rect x="172.20" y="425.60" width="16.85" height="1.05" fill="#ac2778"/>
<rect x="21.00" y="426.60" width="16.85" height="1.05" fill="#971f80"/>
<rect x="37.80" y="426.60" width="16.85" height="1.05" fill="#ea933e"/>
<rect x="54.60" y="426.60" width="16.85" height="1.05" fill="#d0575f"/>
<rect x="71.40" y="426.60" width="16.85" height="1.05" fill="#ea933e"/>
<rect x="88.20" y="426.60" width="16.85" height="1.05" fill="#c74768"/>
<rect x="105.00" y="426.60" width="16.85" height="1.05" fill="#b53272"/>
<rect x="121.80" y="426.60" width="16.85" height="1.05" fill="#6e1e88"/>
<rect x="138.60" y="426.60" width="16.85" height="1.05" fill="#f4e324"/>
<rect x="155.40" y="426.60" width="16.85" height="1.05" fill="#b43073"/>
<rect x="172.20" y="426.60" width="16.85" height="1.05" fill="#971f80"/>
<rect x="21.00" y="427.60" width="16.85" height="1.05" fill="#b73472"/>
<rect x="37.80" y="427.60" width="16.85" height="1.05" fill="#b83671"/>
<rect x="54.60" y="427.60" width="16.85" height="1.05" fill="#d96955"/>
<rect x="71.40" y="427.60" width="16.85" height="1.05" fill="#bd3b6e"/>
<rect x="88.20" y="427.60" width="16.85" height="1.05" fill="#a1217d"/>
<rect x="105.00" y="427.60" width="16.85" height="1.05" fill="#a7227a"/>
<rect x="121.80" y="427.60" width="16.85" height="1.05" fill="#731d88"/>
<rect x="138.60" y="427.60" width="16.85" height="1.05" fill="#a1217c"/>
<rect x="155.40" y="427.60" width="16.85" height="1.05" fill="#eb973c"/>
<rect x="172.20" y="427.60" width="16.85" height="1.05" fill="#a4217b"/>
<rect x="21.00" y="428.60" width="16.85" height="1.05" fill="#9a207f"/>
<rect x="37.80" y="428.60" width="16.85" height="1.05" fill="#bc3a6f"/>
<rect x="54.60" y="428.60" width="16.85" height="1.05" fill="#e98e40"/>
<rect x="71.40" y="428.60" width="16.85" height="1.05" fill="#861d86"/>
<rect x="88.20" y="428.60" width="16.85" height="1.05" fill="#a4217c"/>
<rect x="105.00" y="428.60" width="16.85" height="1.05" fill="#a2217c"/>
<rect x="121.80" y="428.60" width="16.85" height="1.05" fill="#99207f"/>
<rect x="138.60" y="428.60" width="16.85" height="1.05" fill="#ca4b66"/>
<rect x="155.40" y="428.60" width="16.85" height="1.05" fill="#ed9e38"/>
<rect x="172.20" y="428.60" width="16.85" height="1.05" fill="#6c1e88"/>
<rect x="21.00" y="429.60" width="16.85" height="1.05" fill="#cd5262"/>
<rect x="37.80" y="429.60" width="16.85" height="1.05" fill="#c03f6c"/>
<rect x="54.60" y="429.60" width="16.85" height="1.05" fill="#dc7051"/>
<rect x="71.40" y="429.60" width="16.85" height="1.05" fill="#921f82"/>
<rect x="88.20" y="429.60" width="16.85" height="1.05" fill="#e88d41"/>
<rect x="105.00" y="429.60" width="16.85" height="1.05" fill="#851d86"/>
<rect x="121.80" y="429.60" width="16.85" height="1.05" fill="#6d1e88"/>
<rect x="138.60" y="429.60" width="16.85" height="1.05" fill="#d86756"/>
<rect x="155.40" y="429.60" width="16.85" height="1.05" fill="#f0a832"/>
<rect x="172.20" y="429.60" width="16.85" height="1.05" fill="#99207f"/>
<rect x="21.00" y="430.60" width="16.85" height="1.05" fill="#e98d41"/>
<rect x="37.80" y="430.60" width="16.85" height="1.05" fill="#d15a5e"/>
<rect x="54.60" y="430.60" width="16.85" height="1.05" fill="#bc3a6f"/>
<rect x="71.40" y="430.60" width="16.85" height="1.05" fill="#c1406c"/>
<rect x="88.20" y="430.60" width="16.85" height="1.05" fill="#b63272"/>
<rect x="105.00" y="430.60" width="16.85" height="1.05" fill="#5b2088"/>
<rect x="121.80" y="430.60" width="16.85" height="1.05" fill="#9c207e"/>
<rect x="138.60" y="430.60" width="16.85" height="1.05" fill="#b63372"/>
<rect x="155.40" y="430.60" width="16.85" height="1.05" fill="#db6f52"/>
<rect x="172.20" y="430.60" width="16.85" height="1.05" fill="#941f81"/>
<rect x="21.00" y="431.60" width="16.85" height="1.05" fill="#db6f52"/>
<rect x="37.80" y="431.60" width="16.85" height="1.05" fill="#ad2877"/>
<rect x="54.60" y="431.60" width="16.85" height="1.05" fill="#982080"/>
<rect x="71.40" y="431.60" width="16.85" height="1.05" fill="#a3217c"/>
<rect x="88.20" y="431.60" width="16.85" height="1.05" fill="#bf3d6d"/>
<rect x="105.00" y="431.60" width="16.85" height="1.05" fill="#522188"/>
<rect x="121.80" y="431.60" width="16.85" height="1.05" fill="#8c1e84"/>
<rect x="138.60" y="431.60" width="16.85" height="1.05" fill="#881d85"/>
<rect x="155.40" y="431.60" width="16.85" height="1.05" fill="#f1ac30"/>
<rect x="172.20" y="431.60" width="16.85" height="1.05" fill="#ba3770"/>
<rect x="21.00" y="432.60" width="16.85" height="1.05" fill="#ea933e"/>
<rect x="37.80" y="432.60" width="16.85" height="1.05" fill="#b93671"/>
<rect x="54.60" y="432.60" width="16.85" height="1.05" fill="#921f82"/>
<rect x="71.40" y="432.60" width="16.85" height="1.05" fill="#b12d75"/>
<rect x="88.20" y="432.60" width="16.85" height="1.05" fill="#c4446a"/>
<rect x="105.00" y="432.60" width="16.85" height="1.05" fill="#8b1e84"/>
<rect x="121.80" y="432.60" width="16.85" height="1.05" fill="#831c87"/>
<rect x="138.60" y="432.60" width="16.85" height="1.05" fill="#b02b76"/>
<rect x="155.40" y="432.60" width="16.85" height="1.05" fill="#ea913f"/>
<rect x="172.20" y="432.60" width="16.85" height="1.05" fill="#b32f74"/>
<rect x="21.00" y="433.60" width="16.85" height="1.05" fill="#bc396f"/>
<rect x="37.80" y="433.60" width="16.85" height="1.05" fill="#c13f6c"/>
<rect x="54.60" y="433.60" width="16.85" height="1.05" fill="#9e207e"/>
<rect x="71.40" y="433.60" width="16.85" height="1.05" fill="#b63372"/>
<rect x="88.20" y="433.60" width="16.85" height="1.05" fill="#b73472"/>
<rect x="105.00" y="433.60" width="16.85" height="1.05" fill="#4f2188"/>
<rect x="121.80" y="433.60" width="16.85" height="1.05" fill="#562188"/>
<rect x="138.60" y="433.60" width="16.85" height="1.05" fill="#8d1e84"/>
<rect x="155.40" y="433.60" width="16.85" height="1.05" fill="#f2b92c"/>
<rect x="172.20" y="433.60" width="16.85" height="1.05" fill="#8f1e83"/>
<rect x="21.00" y="434.60" width="16.85" height="1.05" fill="#a8227a"/>
<rect x="37.80" y="434.60" width="16.85" height="1.05" fill="#9c207e"/>
<rect x="54.60" y="434.60" width="16.85" height="1.05" fill="#a0217d"/>
<rect x="71.40" y="434.60" width="16.85" height="1.05" fill="#d96955"/>
<rect x="88.20" y="434.60" width="16.85" height="1.05" fill="#8c1e84"/>
<rect x="105.00" y="434.60" width="16.85" height="1.05" fill="#741d88"/>
<rect x="121.80" y="434.60" width="16.85" height="1.05" fill="#801c88"/>
<rect x="138.60" y="434.60" width="16.85" height="1.05" fill="#a2217c"/>
<rect x="155.40" y="434.60" width="16.85" height="1.05" fill="#eea136"/>
<rect x="172.20" y="434.60" width="16.85" height="1.05" fill="#ac2778"/>
<rect x="21.00" y="435.60" width="16.85" height="1.05" fill="#951f81"/>
<rect x="37.80" y="435.60" width="16.85" height="1.05" fill="#aa2579"/>
<rect x="54.60" y="435.60" width="16.85" height="1.05" fill="#911e82"/>
<rect x="71.40" y="435.60" width="16.85" height="1.05" fill="#c5456a"/>
<rect x="88.20" y="435.60" width="16.85" height="1.05" fill="#c4436a"/>
<rect x="105.00" y="435.60" width="16.85" height="1.05" fill="#c94967"/>
<rect x="121.80" y="435.60" width="16.85" height="1.05" fill="#ac2678"/>
<rect x="138.60" y="435.60" width="16.85" height="1.05" fill="#ae2977"/>
<rect x="155.40" y="435.60" width="16.85" height="1.05" fill="#e9903f"/>
<rect x="172.20" y="435.60" width="16.85" height="1.05" fill="#891d85"/>
<rect x="21.00" y="436.60" width="16.85" height="1.05" fill="#c1406c"/>
<rect x="37.80" y="436.60" width="16.85" height="1.05" fill="#8a1e84"/>
<rect x="54.60" y="436.60" width="16.85" height="1.05" fill="#d76557"/>
<rect x="71.40" y="436.60" width="16.85" height="1.05" fill="#dd7151"/>
<rect x="88.20" y="436.60" width="16.85" height="1.05" fill="#e78645"/>
<rect x="105.00" y="436.60" width="16.85" height="1.05" fill="#ce5461"/>
<rect x="121.80" y="436.60" width="16.85" height="1.05" fill="#6d1e88"/>
<rect x="138.60" y="436.60" width="16.85" height="1.05" fill="#a5227b"/>
<rect x="155.40" y="436.60" width="16.85" height="1.05" fill="#ed9e38"/>
<rect x="172.20" y="436.60" width="16.85" height="1.05" fill="#982080"/>
<rect x="21.00" y="437.60" width="16.85" height="1.05" fill="#b43073"/>
<rect x="37.80" y="437.60" width="16.85" height="1.05" fill="#931f81"/>
<rect x="54.60" y="437.60" width="16.85" height="1.05" fill="#cb4f64"/>
<rect x="71.40" y="437.60" width="16.85" height="1.05" fill="#d35e5c"/>
<rect x="88.20" y="437.60" width="16.85" height="1.05" fill="#bd3b6e"/>
<rect x="105.00" y="437.60" width="16.85" height="1.05" fill="#9d207e"/>
<rect x="121.80" y="437.60" width="16.85" height="1.05" fill="#371e7b"/>
<rect x="138.60" y="437.60" width="16.85" height="1.05" fill="#b43073"/>
<rect x="155.40" y="437.60" width="16.85" height="1.05" fill="#ed9d38"/>
<rect x="172.20" y="437.60" width="16.85" height="1.05" fill="#a1217d"/>
<rect x="21.00" y="438.60" width="16.85" height="1.05" fill="#a4217b"/>
<rect x="37.80" y="438.60" width="16.85" height="1.05" fill="#602088"/>
<rect x="54.60" y="438.60" width="16.85" height="1.05" fill="#8f1e83"/>
<rect x="71.40" y="438.60" width="16.85" height="1.05" fill="#c03e6d"/>
<rect x="88.20" y="438.60" width="16.85" height="1.05" fill="#b43173"/>
<rect x="105.00" y="438.60" width="16.85" height="1.05" fill="#971f80"/>
<rect x="121.80" y="438.60" width="16.85" height="1.05" fill="#422083"/>
<rect x="138.60" y="438.60" width="16.85" height="1.05" fill="#8c1e84"/>
<rect x="155.40" y="438.60" width="16.85" height="1.05" fill="#f3c32a"/>
<rect x="172.20" y="438.60" width="16.85" height="1.05" fill="#a7227a"/>
<rect x="21.00" y="439.60" width="16.85" height="1.05" fill="#901e82"/>
<rect x="37.80" y="439.60" width="16.85" height="1.05" fill="#831c87"/>
<rect x="54.60" y="439.60" width="16.85" height="1.05" fill="#a7227a"/>
<rect x="71.40" y="439.60" width="16.85" height="1.05" fill="#a5227b"/>
<rect x="88.20" y="439.60" width="16.85" height="1.05" fill="#e78744"/>
<rect x="105.00" y="439.60" width="16.85" height="1.05" fill="#5a2088"/>
<rect x="121.80" y="439.60" width="16.85" height="1.05" fill="#472186"/>
<rect x="138.60" y="439.60" width="16.85" height="1.05" fill="#9c207e"/>
<rect x="155.40" y="439.60" width="16.85" height="1.05" fill="#f2b92c"/>
<rect x="172.20" y="439.60" width="16.85" height="1.05" fill="#651f88"/>
<rect x="21.00" y="440.60" width="16.85" height="1.05" fill="#cb4d65"/>
<rect x="37.80" y="440.60" width="16.85" height="1.05" fill="#b12d75"/>
<rect x="54.60" y="440.60" width="16.85" height="1.05" fill="#a3217c"/>
<rect x="71.40" y="440.60" width="16.85" height="1.05" fill="#b12c75"/>
<rect x="88.20" y="440.60" width="16.85" height="1.05" fill="#ba3870"/>
<rect x="105.00" y="440.60" width="16.85" height="1.05" fill="#821c87"/>
<rect x="121.80" y="440.60" width="16.85" height="1.05" fill="#442184"/>
<rect x="138.60" y="440.60" width="16.85" height="1.05" fill="#621f88"/>
<rect x="155.40" y="440.60" width="16.85" height="1.05" fill="#e37f49"/>
<rect x="172.20" y="440.60" width="16.85" height="1.05" fill="#781d88"/>
<rect x="21.00" y="441.60" width="16.85" height="1.05" fill="#d4615a"/>
<rect x="37.80" y="441.60" width="16.85" height="1.05" fill="#bc3a6f"/>
<rect x="54.60" y="441.60" width="16.85" height="1.05" fill="#b83671"/>
<rect x="71.40" y="441.60" width="16.85" height="1.05" fill="#bc3a6e"/>
<rect x="88.20" y="441.60" width="16.85" height="1.05" fill="#c94967"/>
<rect x="105.00" y="441.60" width="16.85" height="1.05" fill="#881d85"/>
<rect x="121.80" y="441.60" width="16.85" height="1.05" fill="#6e1e88"/>
<rect x="138.60" y="441.60" width="16.85" height="1.05" fill="#811c88"/>
<rect x="155.40" y="441.60" width="16.85" height="1.05" fill="#f2b32d"/>
<rect x="172.20" y="441.60" width="16.85" height="1.05" fill="#572188"/>
<rect x="21.00" y="442.60" width="16.85" height="1.05" fill="#b22e75"/>
<rect x="37.80" y="442.60" width="16.85" height="1.05" fill="#c2416c"/>
<rect x="54.60" y="442.60" width="16.85" height="1.05" fill="#c3426b"/>
<rect x="71.40" y="442.60" width="16.85" height="1.05" fill="#a9237a"/>
<rect x="88.20" y="442.60" width="16.85" height="1.05" fill="#a4217c"/>
<rect x="105.00" y="442.60" width="16.85" height="1.05" fill="#801c88"/>
<rect x="121.80" y="442.60" width="16.85" height="1.05" fill="#931f81"/>
<rect x="138.60" y="442.60" width="16.85" height="1.05" fill="#8e1e83"/>
<rect x="155.40" y="442.60" width="16.85" height="1.05" fill="#ed9c39"/>
<rect x="172.20" y="442.60" width="16.85" height="1.05" fill="#5c2088"/>
<rect x="21.00" y="443.60" width="16.85" height="1.05" fill="#df764e"/>
<rect x="37.80" y="443.60" width="16.85" height="1.05" fill="#9d207e"/>
<rect x="54.60" y="443.60" width="16.85" height="1.05" fill="#b43073"/>
<rect x="71.40" y="443.60" width="16.85" height="1.05" fill="#dd7250"/>
<rect x="88.20" y="443.60" width="16.85" height="1.05" fill="#c03e6d"/>
<rect x="105.00" y="443.60" width="16.85" height="1.05" fill="#6d1e88"/>
<rect x="121.80" y="443.60" width="16.85" height="1.05" fill="#af2a76"/>
<rect x="138.60" y="443.60" width="16.85" height="1.05" fill="#751d88"/>
<rect x="155.40" y="443.60" width="16.85" height="1.05" fill="#f1ae2f"/>
<rect x="172.20" y="443.60" width="16.85" height="1.05" fill="#301d77"/>
<rect x="21.00" y="444.60" width="16.85" height="1.05" fill="#dd7150"/>
<rect x="37.80" y="444.60" width="16.85" height="1.05" fill="#7d1c88"/>
<rect x="54.60" y="444.60" width="16.85" height="1.05" fill="#941f81"/>
<rect x="71.40" y="444.60" width="16.85" height="1.05" fill="#c94a67"/>
<rect x="88.20" y="444.60" width="16.85" height="1.05" fill="#af2a76"/>
<rect x="105.00" y="444.60" width="16.85" height="1.05" fill="#691f88"/>
<rect x="121.80" y="444.60" width="16.85" height="1.05" fill="#7f1c88"/>
<rect x="138.60" y="444.60" width="16.85" height="1.05" fill="#b22e74"/>
<rect x="155.40" y="444.60" width="16.85" height="1.05" fill="#f3c62a"/>
<rect x="172.20" y="444.60" width="16.85" height="1.05" fill="#562188"/>
<rect x="21.00" y="445.60" width="16.85" height="1.05" fill="#bd3b6e"/>
<rect x="37.80" y="445.60" width="16.85" height="1.05" fill="#781d88"/>
<rect x="54.60" y="445.60" width="16.85" height="1.05" fill="#a8227a"/>
<rect x="71.40" y="445.60" width="16.85" height="1.05" fill="#e27d4a"/>
<rect x="88.20" y="445.60" width="16.85" height="1.05" fill="#9a207f"/>
<rect x="105.00" y="445.60" width="16.85" height="1.05" fill="#7d1c88"/>
<rect x="121.80" y="445.60" width="16.85" height="1.05" fill="#6e1e88"/>
<rect x="138.60" y="445.60" width="16.85" height="1.05" fill="#a9237a"/>
<rect x="155.40" y="445.60" width="16.85" height="1.05" fill="#ea923e"/>
<rect x="172.20" y="445.60" width="16.85" height="1.05" fill="#741d88"/>
<rect x="21.00" y="446.60" width="16.85" height="1.05" fill="#c64669"/>
<rect x="37.80" y="446.60" width="16.85" height="1.05" fill="#901e82"/>
<rect x="54.60" y="446.60" width="16.85" height="1.05" fill="#c2416b"/>
<rect x="71.40" y="446.60" width="16.85" height="1.05" fill="#c54569"/>
<rect x="88.20" y="446.60" width="16.85" height="1.05" fill="#e27c4a"/>
<rect x="105.00" y="446.60" width="16.85" height="1.05" fill="#781d88"/>
<rect x="121.80" y="446.60" width="16.85" height="1.05" fill="#841d87"/>
<rect x="138.60" y="446.60" width="16.85" height="1.05" fill="#a1217c"/>
<rect x="155.40" y="446.60" width="16.85" height="1.05" fill="#f3c62a"/>
<rect x="172.20" y="446.60" width="16.85" height="1.05" fill="#871d85"/>
<rect x="21.00" y="447.60" width="16.85" height="1.05" fill="#e27d4a"/>
<rect x="37.80" y="447.60" width="16.85" height="1.05" fill="#821c87"/>
<rect x="54.60" y="447.60" width="16.85" height="1.05" fill="#982080"/>
<rect x="71.40" y="447.60" width="16.85" height="1.05" fill="#b63272"/>
<rect x="88.20" y="447.60" width="16.85" height="1.05" fill="#c84968"/>
<rect x="105.00" y="447.60" width="16.85" height="1.05" fill="#641f88"/>
<rect x="121.80" y="447.60" width="16.85" height="1.05" fill="#721e88"/>
<rect x="138.60" y="447.60" width="16.85" height="1.05" fill="#8f1e83"/>
<rect x="155.40" y="447.60" width="16.85" height="1.05" fill="#f2b22e"/>
<rect x="172.20" y="447.60" width="16.85" height="1.05" fill="#941f81"/>
<rect x="21.00" y="448.60" width="16.85" height="1.05" fill="#c3436b"/>
<rect x="37.80" y="448.60" width="16.85" height="1.05" fill="#b32f74"/>
<rect x="54.60" y="448.60" width="16.85" height="1.05" fill="#aa2479"/>
<rect x="71.40" y="448.60" width="16.85" height="1.05" fill="#d86955"/>
<rect x="88.20" y="448.60" width="16.85" height="1.05" fill="#ce5362"/>
<rect x="105.00" y="448.60" width="16.85" height="1.05" fill="#941f81"/>
<rect x="121.80" y="448.60" width="16.85" height="1.05" fill="#b93671"/>
<rect x="138.60" y="448.60" width="16.85" height="1.05" fill="#3d2080"/>
<rect x="155.40" y="448.60" width="16.85" height="1.05" fill="#8b1e84"/>
<rect x="172.20" y="448.60" width="16.85" height="1.05" fill="#e78944"/>
<rect x="21.00" y="449.60" width="16.85" height="1.05" fill="#8c1e84"/>
<rect x="37.80" y="449.60" width="16.85" height="1.05" fill="#7f1c88"/>
<rect x="54.60" y="449.60" width="16.85" height="1.05" fill="#6f1e88"/>
<rect x="71.40" y="449.60" width="16.85" height="1.05" fill="#c84868"/>
<rect x="88.20" y="449.60" width="16.85" height="1.05" fill="#a4217c"/>
<rect x="105.00" y="449.60" width="16.85" height="1.05" fill="#d35f5b"/>
<rect x="121.80" y="449.60" width="16.85" height="1.05" fill="#b73471"/>
<rect x="138.60" y="449.60" width="16.85" height="1.05" fill="#2c1c74"/>
<rect x="155.40" y="449.60" width="16.85" height="1.05" fill="#b02c75"/>
<rect x="172.20" y="449.60" width="16.85" height="1.05" fill="#ed9d39"/>
<rect x="21.00" y="450.60" width="16.85" height="1.05" fill="#831d87"/>
<rect x="37.80" y="450.60" width="16.85" height="1.05" fill="#b93671"/>
<rect x="54.60" y="450.60" width="16.85" height="1.05" fill="#b93670"/>
<rect x="71.40" y="450.60" width="16.85" height="1.05" fill="#c1406c"/>
<rect x="88.20" y="450.60" width="16.85" height="1.05" fill="#9c207e"/>
<rect x="105.00" y="450.60" width="16.85" height="1.05" fill="#c74768"/>
<rect x="121.80" y="450.60" width="16.85" height="1.05" fill="#bc396f"/>
<rect x="138.60" y="450.60" width="16.85" height="1.05" fill="#971f80"/>
<rect x="155.40" y="450.60" width="16.85" height="1.05" fill="#de744f"/>
<rect x="172.20" y="450.60" width="16.85" height="1.05" fill="#f3bd2b"/>
<rect x="21.00" y="451.60" width="16.85" height="1.05" fill="#7f1c88"/>
<rect x="37.80" y="451.60" width="16.85" height="1.05" fill="#ad2777"/>
<rect x="54.60" y="451.60" width="16.85" height="1.05" fill="#a5227b"/>
<rect x="71.40" y="451.60" width="16.85" height="1.05" fill="#a7227b"/>
<rect x="88.20" y="451.60" width="16.85" height="1.05" fill="#941f81"/>
<rect x="105.00" y="451.60" width="16.85" height="1.05" fill="#ca4d65"/>
<rect x="121.80" y="451.60" width="16.85" height="1.05" fill="#a0217d"/>
<rect x="138.60" y="451.60" width="16.85" height="1.05" fill="#7f1c88"/>
<rect x="155.40" y="451.60" width="16.85" height="1.05" fill="#b32f74"/>
<rect x="172.20" y="451.60" width="16.85" height="1.05" fill="#eb963c"/>
<rect x="21.00" y="452.60" width="16.85" height="1.05" fill="#b02c75"/>
<rect x="37.80" y="452.60" width="16.85" height="1.05" fill="#a9237a"/>
<rect x="54.60" y="452.60" width="16.85" height="1.05" fill="#cf5561"/>
<rect x="71.40" y="452.60" width="16.85" height="1.05" fill="#a7227a"/>
<rect x="88.20" y="452.60" width="16.85" height="1.05" fill="#b93670"/>
<rect x="105.00" y="452.60" width="16.85" height="1.05" fill="#971f80"/>
<rect x="121.80" y="452.60" width="16.85" height="1.05" fill="#8d1e84"/>
<rect x="138.60" y="452.60" width="16.85" height="1.05" fill="#6f1e88"/>
<rect x="155.40" y="452.60" width="16.85" height="1.05" fill="#941f81"/>
<rect x="172.20" y="452.60" width="16.85" height="1.05" fill="#eb983b"/>
<rect x="21.00" y="453.60" width="16.85" height="1.05" fill="#9d207e"/>
<rect x="37.80" y="453.60" width="16.85" height="1.05" fill="#871d86"/>
<rect x="54.60" y="453.60" width="16.85" height="1.05" fill="#ba3770"/>
<rect x="71.40" y="453.60" width="16.85" height="1.05" fill="#9d207e"/>
<rect x="88.20" y="453.60" width="16.85" height="1.05" fill="#8e1e83"/>
<rect x="105.00" y="453.60" width="16.85" height="1.05" fill="#8e1e83"/>
<rect x="121.80" y="453.60" width="16.85" height="1.05" fill="#881d85"/>
<rect x="138.60" y="453.60" width="16.85" height="1.05" fill="#3e2080"/>
<rect x="155.40" y="453.60" width="16.85" height="1.05" fill="#911f82"/>
<rect x="172.20" y="453.60" width="16.85" height="1.05" fill="#f2b72d"/>
<rect x="21.00" y="454.60" width="16.85" height="1.05" fill="#b22e74"/>
<rect x="37.80" y="454.60" width="16.85" height="1.05" fill="#a5217b"/>
<rect x="54.60" y="454.60" width="16.85" height="1.05" fill="#a3217c"/>
<rect x="71.40" y="454.60" width="16.85" height="1.05" fill="#ce5362"/>
<rect x="88.20" y="454.60" width="16.85" height="1.05" fill="#dd7350"/>
<rect x="105.00" y="454.60" width="16.85" height="1.05" fill="#841d87"/>
<rect x="121.80" y="454.60" width="16.85" height="1.05" fill="#cb4f64"/>
<rect x="138.60" y="454.60" width="16.85" height="1.05" fill="#3f2081"/>
<rect x="155.40" y="454.60" width="16.85" height="1.05" fill="#c13f6c"/>
<rect x="172.20" y="454.60" width="16.85" height="1.05" fill="#dc6f52"/>
<rect x="21.00" y="455.60" width="16.85" height="1.05" fill="#bd3b6e"/>
<rect x="37.80" y="455.60" width="16.85" height="1.05" fill="#8a1d85"/>
<rect x="54.60" y="455.60" width="16.85" height="1.05" fill="#a0217d"/>
<rect x="71.40" y="455.60" width="16.85" height="1.05" fill="#b53273"/>
<rect x="88.20" y="455.60" width="16.85" height="1.05" fill="#bf3d6d"/>
<rect x="105.00" y="455.60" width="16.85" height="1.05" fill="#b12d75"/>
<rect x="121.80" y="455.60" width="16.85" height="1.05" fill="#bc3a6e"/>
<rect x="138.60" y="455.60" width="16.85" height="1.05" fill="#1f1a6c"/>
<rect x="155.40" y="455.60" width="16.85" height="1.05" fill="#b53173"/>
<rect x="172.20" y="455.60" width="16.85" height="1.05" fill="#efa434"/>
<rect x="21.00" y="456.60" width="16.85" height="1.05" fill="#d56359"/>
<rect x="37.80" y="456.60" width="16.85" height="1.05" fill="#542188"/>
<rect x="54.60" y="456.60" width="16.85" height="1.05" fill="#a9237a"/>
<rect x="71.40" y="456.60" width="16.85" height="1.05" fill="#b12c75"/>
<rect x="88.20" y="456.60" width="16.85" height="1.05" fill="#c4436a"/>
<rect x="105.00" y="456.60" width="16.85" height="1.05" fill="#851d86"/>
<rect x="121.80" y="456.60" width="16.85" height="1.05" fill="#801c88"/>
<rect x="138.60" y="456.60" width="16.85" height="1.05" fill="#321e79"/>
<rect x="155.40" y="456.60" width="16.85" height="1.05" fill="#a5227b"/>
<rect x="172.20" y="456.60" width="16.85" height="1.05" fill="#dc6f52"/>
<rect x="21.00" y="457.60" width="16.85" height="1.05" fill="#c4436a"/>
<rect x="37.80" y="457.60" width="16.85" height="1.05" fill="#8e1e83"/>
<rect x="54.60" y="457.60" width="16.85" height="1.05" fill="#641f88"/>
<rect x="71.40" y="457.60" width="16.85" height="1.05" fill="#c4436a"/>
<rect x="88.20" y="457.60" width="16.85" height="1.05" fill="#a4217b"/>
<rect x="105.00" y="457.60" width="16.85" height="1.05" fill="#8f1e83"/>
<rect x="121.80" y="457.60" width="16.85" height="1.05" fill="#a3217c"/>
<rect x="138.60" y="457.60" width="16.85" height="1.05" fill="#7d1c88"/>
<rect x="155.40" y="457.60" width="16.85" height="1.05" fill="#a8237a"/>
<rect x="172.20" y="457.60" width="16.85" height="1.05" fill="#eb983b"/>
<rect x="21.00" y="458.60" width="16.85" height="1.05" fill="#a92379"/>
<rect x="37.80" y="458.60" width="16.85" height="1.05" fill="#9c207e"/>
<rect x="54.60" y="458.60" width="16.85" height="1.05" fill="#861d86"/>
<rect x="71.40" y="458.60" width="16.85" height="1.05" fill="#af2a76"/>
<rect x="88.20" y="458.60" width="16.85" height="1.05" fill="#b83671"/>
<rect x="105.00" y="458.60" width="16.85" height="1.05" fill="#dc7151"/>
<rect x="121.80" y="458.60" width="16.85" height="1.05" fill="#b02b76"/>
<rect x="138.60" y="458.60" width="16.85" height="1.05" fill="#8e1e83"/>
<rect x="155.40" y="458.60" width="16.85" height="1.05" fill="#ad2977"/>
<rect x="172.20" y="458.60" width="16.85" height="1.05" fill="#f2b42d"/>
<rect x="21.00" y="459.60" width="16.85" height="1.05" fill="#871d86"/>
<rect x="37.80" y="459.60" width="16.85" height="1.05" fill="#982080"/>
<rect x="54.60" y="459.60" width="16.85" height="1.05" fill="#bb386f"/>
<rect x="71.40" y="459.60" width="16.85" height="1.05" fill="#aa2479"/>
<rect x="88.20" y="459.60" width="16.85" height="1.05" fill="#cc5064"/>
<rect x="105.00" y="459.60" width="16.85" height="1.05" fill="#c4436a"/>
<rect x="121.80" y="459.60" width="16.85" height="1.05" fill="#d25c5c"/>
<rect x="138.60" y="459.60" width="16.85" height="1.05" fill="#7e1c88"/>
<rect x="155.40" y="459.60" width="16.85" height="1.05" fill="#b12d75"/>
<rect x="172.20" y="459.60" width="16.85" height="1.05" fill="#ea943d"/>
<rect x="21.00" y="460.60" width="16.85" height="1.05" fill="#951f81"/>
<rect x="37.80" y="460.60" width="16.85" height="1.05" fill="#761d88"/>
<rect x="54.60" y="460.60" width="16.85" height="1.05" fill="#c64669"/>
<rect x="71.40" y="460.60" width="16.85" height="1.05" fill="#961f80"/>
<rect x="88.20" y="460.60" width="16.85" height="1.05" fill="#e68446"/>
<rect x="105.00" y="460.60" width="16.85" height="1.05" fill="#d56259"/>
<rect x="121.80" y="460.60" width="16.85" height="1.05" fill="#c13f6c"/>
<rect x="138.60" y="460.60" width="16.85" height="1.05" fill="#901e82"/>
<rect x="155.40" y="460.60" width="16.85" height="1.05" fill="#641f88"/>
<rect x="172.20" y="460.60" width="16.85" height="1.05" fill="#f3be2b"/>
<rect x="21.00" y="461.60" width="16.85" height="1.05" fill="#a2217c"/>
<rect x="37.80" y="461.60" width="16.85" height="1.05" fill="#c2416b"/>
<rect x="54.60" y="461.60" width="16.85" height="1.05" fill="#831c87"/>
<rect x="71.40" y="461.60" width="16.85" height="1.05" fill="#8c1e84"/>
<rect x="88.20" y="461.60" width="16.85" height="1.05" fill="#cc5064"/>
<rect x="105.00" y="461.60" width="16.85" height="1.05" fill="#c64569"/>
<rect x="121.80" y="461.60" width="16.85" height="1.05" fill="#701e88"/>
<rect x="138.60" y="461.60" width="16.85" height="1.05" fill="#542188"/>
<rect x="155.40" y="461.60" width="16.85" height="1.05" fill="#9b207f"/>
<rect x="172.20" y="461.60" width="16.85" height="1.05" fill="#e88d41"/>
<rect x="21.00" y="462.60" width="16.85" height="1.05" fill="#851d86"/>
<rect x="37.80" y="462.60" width="16.85" height="1.05" fill="#a1217c"/>
<rect x="54.60" y="462.60" width="16.85" height="1.05" fill="#6d1e88"/>
<rect x="71.40" y="462.60" width="16.85" height="1.05" fill="#b12d75"/>
<rect x="88.20" y="462.60" width="16.85" height="1.05" fill="#e1794c"/>
<rect x="105.00" y="462.60" width="16.85" height="1.05" fill="#c84968"/>
<rect x="121.80" y="462.60" width="16.85" height="1.05" fill="#831d87"/>
<rect x="138.60" y="462.60" width="16.85" height="1.05" fill="#6e1e88"/>
<rect x="155.40" y="462.60" width="16.85" height="1.05" fill="#b22e74"/>
<rect x="172.20" y="462.60" width="16.85" height="1.05" fill="#ea943d"/>
<rect x="21.00" y="463.60" width="16.85" height="1.05" fill="#cb4d65"/>
<rect x="37.80" y="463.60" width="16.85" height="1.05" fill="#d96a55"/>
<rect x="54.60" y="463.60" width="16.85" height="1.05" fill="#7e1c88"/>
<rect x="71.40" y="463.60" width="16.85" height="1.05" fill="#931f82"/>
<rect x="88.20" y="463.60" width="16.85" height="1.05" fill="#ea933e"/>
<rect x="105.00" y="463.60" width="16.85" height="1.05" fill="#d76657"/>
<rect x="121.80" y="463.60" width="16.85" height="1.05" fill="#b02c75"/>
<rect x="138.60" y="463.60" width="16.85" height="1.05" fill="#801c88"/>
<rect x="155.40" y="463.60" width="16.85" height="1.05" fill="#a4217b"/>
<rect x="172.20" y="463.60" width="16.85" height="1.05" fill="#f2b02e"/>
<rect x="21.00" y="464.60" width="16.85" height="1.05" fill="#dc7151"/>
<rect x="37.80" y="464.60" width="16.85" height="1.05" fill="#ab2678"/>
<rect x="54.60" y="464.60" width="16.85" height="1.05" fill="#bb386f"/>
<rect x="71.40" y="464.60" width="16.85" height="1.05" fill="#a2217c"/>
<rect x="88.20" y="464.60" width="16.85" height="1.05" fill="#d76558"/>
<rect x="105.00" y="464.60" width="16.85" height="1.05" fill="#d66558"/>
<rect x="121.80" y="464.60" width="16.85" height="1.05" fill="#a4217c"/>
<rect x="138.60" y="464.60" width="16.85" height="1.05" fill="#bf3d6d"/>
<rect x="155.40" y="464.60" width="16.85" height="1.05" fill="#b83571"/>
<rect x="172.20" y="464.60" width="16.85" height="1.05" fill="#eea037"/>
<rect x="21.00" y="465.60" width="16.85" height="1.05" fill="#c4436b"/>
<rect x="37.80" y="465.60" width="16.85" height="1.05" fill="#941f81"/>
<rect x="54.60" y="465.60" width="16.85" height="1.05" fill="#bd3b6e"/>
<rect x="71.40" y="465.60" width="16.85" height="1.05" fill="#ba3770"/>
<rect x="88.20" y="465.60" width="16.85" height="1.05" fill="#d1595e"/>
<rect x="105.00" y="465.60" width="16.85" height="1.05" fill="#9c207e"/>
<rect x="121.80" y="465.60" width="16.85" height="1.05" fill="#8a1e84"/>
<rect x="138.60" y="465.60" width="16.85" height="1.05" fill="#911f82"/>
<rect x="155.40" y="465.60" width="16.85" height="1.05" fill="#7f1c88"/>
<rect x="172.20" y="465.60" width="16.85" height="1.05" fill="#eea335"/>
<rect x="21.00" y="466.60" width="16.85" height="1.05" fill="#b63372"/>
<rect x="37.80" y="466.60" width="16.85" height="1.05" fill="#a1217c"/>
<rect x="54.60" y="466.60" width="16.85" height="1.05" fill="#a6227b"/>
<rect x="71.40" y="466.60" width="16.85" height="1.05" fill="#dc7151"/>
<rect x="88.20" y="466.60" width="16.85" height="1.05" fill="#d86955"/>
<rect x="105.00" y="466.60" width="16.85" height="1.05" fill="#961f80"/>
<rect x="121.80" y="466.60" width="16.85" height="1.05" fill="#9c207e"/>
<rect x="138.60" y="466.60" width="16.85" height="1.05" fill="#931f81"/>
<rect x="155.40" y="466.60" width="16.85" height="1.05" fill="#741d88"/>
<rect x="172.20" y="466.60" width="16.85" height="1.05" fill="#ea923e"/>
<rect x="21.00" y="467.60" width="16.85" height="1.05" fill="#6c1e88"/>
<rect x="37.80" y="467.60" width="16.85" height="1.05" fill="#811c88"/>
<rect x="54.60" y="467.60" width="16.85" height="1.05" fill="#bc3a6f"/>
<rect x="71.40" y="467.60" width="16.85" height="1.05" fill="#e17a4c"/>
<rect x="88.20" y="467.60" width="16.85" height="1.05" fill="#b63272"/>
<rect x="105.00" y="467.60" width="16.85" height="1.05" fill="#c2416c"/>
<rect x="121.80" y="467.60" width="16.85" height="1.05" fill="#d96a55"/>
<rect x="138.60" y="467.60" width="16.85" height="1.05" fill="#8e1e83"/>
<rect x="155.40" y="467.60" width="16.85" height="1.05" fill="#8e1e83"/>
<rect x="172.20" y="467.60" width="16.85" height="1.05" fill="#ec9c39"/>
<rect x="21.00" y="468.60" width="16.85" height="1.05" fill="#851d86"/>
<rect x="37.80" y="468.60" width="16.85" height="1.05" fill="#821c87"/>
<rect x="54.60" y="468.60" width="16.85" height="1.05" fill="#bc3a6f"/>
<rect x="71.40" y="468.60" width="16.85" height="1.05" fill="#e27c4b"/>
<rect x="88.20" y="468.60" width="16.85" height="1.05" fill="#a3217c"/>
<rect x="105.00" y="468.60" width="16.85" height="1.05" fill="#b02b76"/>
<rect x="121.80" y="468.60" width="16.85" height="1.05" fill="#b73472"/>
<rect x="138.60" y="468.60" width="16.85" height="1.05" fill="#9f217d"/>
<rect x="155.40" y="468.60" width="16.85" height="1.05" fill="#582088"/>
<rect x="172.20" y="468.60" width="16.85" height="1.05" fill="#ec9a3a"/>
</g>
<text x="30.3" y="481.8" font-size="8.4" text-anchor="middle" textLength="13.1" lengthAdjust="spacingAndGlyphs" transform="rotate(-45 30.3 481.8)">FL1</text>
<text x="47.1" y="481.8" font-size="8.4" text-anchor="middle" textLength="13.1" lengthAdjust="spacingAndGlyphs" transform="rotate(-45 47.1 481.8)">FL2</text>
<text x="64.0" y="481.8" font-size="8.4" text-anchor="middle" textLength="13.1" lengthAdjust="spacingAndGlyphs" transform="rotate(-45 64.0 481.8)">FL3</text>
<text x="80.8" y="481.8" font-size="8.4" text-anchor="middle" textLength="13.1" lengthAdjust="spacingAndGlyphs" transform="rotate(-45 80.8 481.8)">FL4</text>
<text x="97.6" y="481.8" font-size="8.4" text-anchor="middle" textLength="13.1" lengthAdjust="spacingAndGlyphs" transform="rotate(-45 97.6 481.8)">FL5</text>
<text x="114.4" y="481.8" font-size="8.4" text-anchor="middle" textLength="13.1" lengthAdjust="spacingAndGlyphs" transform="rotate(-45 114.4 481.8)">FL6</text>
<text x="131.2" y="481.8" font-size="8.4" text-anchor="middle" textLength="13.1" lengthAdjust="spacingAndGlyphs" transform="rotate(-45 131.2 481.8)">FL7</text>
<text x="148.0" y="481.8" font-size="8.4" text-anchor="middle" textLength="13.1" lengthAdjust="spacingAndGlyphs" transform="rotate(-45 148.0 481.8)">FL8</text>
<text x="164.8" y="481.8" font-size="8.4" text-anchor="middle" textLength="13.1" lengthAdjust="spacingAndGlyphs" transform="rotate(-45 164.8 481.8)">FL9</text>
<text x="181.6" y="481.8" font-size="8.4" text-anchor="middle" textLength="17.3" lengthAdjust="spacingAndGlyphs" transform="rotate(-45 181.6 481.8)">FL10</text>
<text x="193.0" y="269.3" font-size="8.8" textLength="75.3" lengthAdjust="spacingAndGlyphs">MTORC1 activation</text>
<text x="193.0" y="280.0" font-size="8.8" textLength="61.6" lengthAdjust="spacingAndGlyphs">MTOR signaling</text>
<text x="193.0" y="295.8" font-size="8.8" textLength="56.0" lengthAdjust="spacingAndGlyphs">IFN γ signaling</text>
<text x="193.0" y="309.0" font-size="8.8" textLength="66.2" lengthAdjust="spacingAndGlyphs">TNFR1 mediated</text>
<text x="193.0" y="319.8" font-size="8.8" textLength="61.6" lengthAdjust="spacingAndGlyphs">NFKB activation</text>
<text x="193.0" y="340.4" font-size="8.8" textLength="48.0" lengthAdjust="spacingAndGlyphs">transcription</text>
<text x="193.0" y="355.8" font-size="8.8" textLength="52.5" lengthAdjust="spacingAndGlyphs">CBL signaling</text>
<text x="193.0" y="372.0" font-size="8.8" textLength="77.0" lengthAdjust="spacingAndGlyphs">MAPK1/3 activation</text>
<text x="193.0" y="383.2" font-size="8.8" textLength="61.6" lengthAdjust="spacingAndGlyphs">NFKB activation</text>
<text x="193.0" y="398.1" font-size="8.8" textLength="72.4" lengthAdjust="spacingAndGlyphs">Activation of MMP</text>
<text x="193.0" y="419.0" font-size="8.8" textLength="73.7" lengthAdjust="spacingAndGlyphs">PI3K/AKT signaling</text>
<text x="193.0" y="439.7" font-size="8.8" textLength="51.0" lengthAdjust="spacingAndGlyphs">TLR signaling</text>
<text x="193.0" y="463.6" font-size="8.8" textLength="46.3" lengthAdjust="spacingAndGlyphs">Cell motility</text>
<text x="192.8" y="332.4" font-size="8.8" textLength="24.3" lengthAdjust="spacingAndGlyphs">FOXO</text>
<text x="222.6" y="332.4" font-size="8.8" textLength="36.5" lengthAdjust="spacingAndGlyphs">mediated</text>
<text x="248.5" y="486.3" font-size="8.4" text-anchor="middle" textLength="30.0" lengthAdjust="spacingAndGlyphs">Average</text>
<text x="248.7" y="496.2" font-size="8.4" text-anchor="middle" textLength="38.0" lengthAdjust="spacingAndGlyphs">expression</text>
<defs><linearGradient id="cb" x1="0" x2="1" y1="0" y2="0"><stop offset="0.0" stop-color="#1f1a6c"/><stop offset="0.18" stop-color="#4a2288"/><stop offset="0.36" stop-color="#801c88"/><stop offset="0.5" stop-color="#a8227a"/><stop offset="0.62" stop-color="#c84868"/><stop offset="0.76" stop-color="#e68446"/><stop offset="0.88" stop-color="#f2b02e"/><stop offset="1.0" stop-color="#f4e424"/></linearGradient></defs>
<rect x="227" y="498.3" width="43.3" height="7.6" fill="url(#cb)"/>
<text x="231.3" y="516.3" font-size="8.8" text-anchor="middle">−2</text>
<text x="248.2" y="516.3" font-size="8.8" text-anchor="middle">0</text>
<text x="265.4" y="516.3" font-size="8.8" text-anchor="middle">2</text>
<text x="286.9" y="253.5" font-size="12.5" font-weight="bold" fill="#000">C</text>
<line x1="343.1" y1="263.4" x2="343.1" y2="299.6" stroke="#111" stroke-width="1"/>
<line x1="340.2" y1="299.6" x2="343.1" y2="299.6" stroke="#111" stroke-width="0.9"/>
<text x="337.0" y="299.6" font-size="5.5" text-anchor="middle" transform="rotate(-90 337.0 299.6)">0</text>
<line x1="340.2" y1="293.6" x2="343.1" y2="293.6" stroke="#111" stroke-width="0.9"/>
<text x="337.0" y="293.6" font-size="5.5" text-anchor="middle" transform="rotate(-90 337.0 293.6)">1</text>
<line x1="340.2" y1="287.5" x2="343.1" y2="287.5" stroke="#111" stroke-width="0.9"/>
<text x="337.0" y="287.5" font-size="5.5" text-anchor="middle" transform="rotate(-90 337.0 287.5)">2</text>
<line x1="340.2" y1="281.5" x2="343.1" y2="281.5" stroke="#111" stroke-width="0.9"/>
<text x="337.0" y="281.5" font-size="5.5" text-anchor="middle" transform="rotate(-90 337.0 281.5)">3</text>
<line x1="340.2" y1="275.5" x2="343.1" y2="275.5" stroke="#111" stroke-width="0.9"/>
<text x="337.0" y="275.5" font-size="5.5" text-anchor="middle" transform="rotate(-90 337.0 275.5)">4</text>
<line x1="340.2" y1="269.5" x2="343.1" y2="269.5" stroke="#111" stroke-width="0.9"/>
<text x="337.0" y="269.5" font-size="5.5" text-anchor="middle" transform="rotate(-90 337.0 269.5)">5</text>
<line x1="340.2" y1="263.4" x2="343.1" y2="263.4" stroke="#111" stroke-width="0.9"/>
<text x="337.0" y="263.4" font-size="5.5" text-anchor="middle" transform="rotate(-90 337.0 263.4)">6</text>
<rect x="345.15" y="269.75" width="8.9" height="29.55" fill="#4f8a3f" stroke="#3c7a2e" stroke-width="0.6"/>
<rect x="357.52" y="281.81" width="8.9" height="17.49" fill="#4f8a3f" stroke="#3c7a2e" stroke-width="0.6"/>
<rect x="357.52" y="275.78" width="8.9" height="5.43" fill="#7f4798" stroke="#6a3585" stroke-width="0.6"/>
<rect x="357.52" y="269.75" width="8.9" height="5.43" fill="#c8101c" stroke="#b00a14" stroke-width="0.6"/>
<rect x="369.89" y="287.84" width="8.9" height="11.46" fill="#4f8a3f" stroke="#3c7a2e" stroke-width="0.6"/>
<rect x="369.89" y="281.81" width="8.9" height="5.43" fill="#c8101c" stroke="#b00a14" stroke-width="0.6"/>
<rect x="382.26" y="275.78" width="8.9" height="23.52" fill="#4f8a3f" stroke="#3c7a2e" stroke-width="0.6"/>
<rect x="394.63" y="293.87" width="8.9" height="5.43" fill="#4f8a3f" stroke="#3c7a2e" stroke-width="0.6"/>
<rect x="394.63" y="287.84" width="8.9" height="5.43" fill="#a6d0b8" stroke="#94c0a6" stroke-width="0.6"/>
<rect x="407.00" y="287.84" width="8.9" height="11.46" fill="#4f8a3f" stroke="#3c7a2e" stroke-width="0.6"/>
<rect x="407.00" y="281.81" width="8.9" height="5.43" fill="#e8a020" stroke="#d89010" stroke-width="0.6"/>
<rect x="419.37" y="287.84" width="8.9" height="11.46" fill="#4f8a3f" stroke="#3c7a2e" stroke-width="0.6"/>
<rect x="431.74" y="269.75" width="8.9" height="29.55" fill="#4f8a3f" stroke="#3c7a2e" stroke-width="0.6"/>
<rect x="431.74" y="263.72" width="8.9" height="5.43" fill="#141414" stroke="#000000" stroke-width="0.6"/>
<rect x="343.80" y="302.90" width="11.3" height="11.0" fill="#4f8a3f" stroke="#3c7a2e" stroke-width="0.6"/>
<rect x="356.17" y="302.90" width="11.3" height="11.0" fill="#7f4798" stroke="#6a3585" stroke-width="0.6"/>
<rect x="368.54" y="302.90" width="11.3" height="11.0" fill="#4f8a3f" stroke="#3c7a2e" stroke-width="0.6"/>
<rect x="380.91" y="302.90" width="11.3" height="11.0" fill="#4f8a3f" stroke="#3c7a2e" stroke-width="0.6"/>
<rect x="393.28" y="302.90" width="11.3" height="11.0" fill="#4f8a3f" stroke="#3c7a2e" stroke-width="0.6"/>
<rect x="405.65" y="302.90" width="11.3" height="11.0" fill="#4f8a3f" stroke="#3c7a2e" stroke-width="0.6"/>
<rect x="418.02" y="302.90" width="11.3" height="11.0" fill="#4f8a3f" stroke="#3c7a2e" stroke-width="0.6"/>
<rect x="430.09" y="302.60" width="11.9" height="11.6" fill="#d4d4d4"/>
<text x="339.7" y="310.9" font-size="9.3" text-anchor="end" textLength="32.1" lengthAdjust="spacingAndGlyphs">CREBBP</text>
<rect x="343.80" y="315.62" width="11.3" height="11.0" fill="#4f8a3f" stroke="#3c7a2e" stroke-width="0.6"/>
<rect x="356.17" y="315.62" width="11.3" height="11.0" fill="#c8101c" stroke="#b00a14" stroke-width="0.6"/>
<rect x="368.54" y="315.62" width="11.3" height="11.0" fill="#c8101c" stroke="#b00a14" stroke-width="0.6"/>
<rect x="380.91" y="315.62" width="11.3" height="11.0" fill="#4f8a3f" stroke="#3c7a2e" stroke-width="0.6"/>
<rect x="392.98" y="315.32" width="11.9" height="11.6" fill="#d4d4d4"/>
<rect x="405.35" y="315.32" width="11.9" height="11.6" fill="#d4d4d4"/>
<rect x="417.72" y="315.32" width="11.9" height="11.6" fill="#d4d4d4"/>
<rect x="430.39" y="315.62" width="11.3" height="11.0" fill="#4f8a3f" stroke="#3c7a2e" stroke-width="0.6"/>
<text x="339.7" y="323.6" font-size="9.3" text-anchor="end" textLength="20.2" lengthAdjust="spacingAndGlyphs">BCL2</text>
<rect x="343.80" y="328.34" width="11.3" height="11.0" fill="#4f8a3f" stroke="#3c7a2e" stroke-width="0.6"/>
<rect x="355.87" y="328.04" width="11.9" height="11.6" fill="#d4d4d4"/>
<rect x="368.24" y="328.04" width="11.9" height="11.6" fill="#d4d4d4"/>
<rect x="380.61" y="328.04" width="11.9" height="11.6" fill="#d4d4d4"/>
<rect x="393.28" y="328.34" width="11.3" height="11.0" fill="#a6d0b8" stroke="#94c0a6" stroke-width="0.6"/>
<rect x="405.35" y="328.04" width="11.9" height="11.6" fill="#d4d4d4"/>
<rect x="417.72" y="328.04" width="11.9" height="11.6" fill="#d4d4d4"/>
<rect x="430.39" y="328.34" width="11.3" height="11.0" fill="#4f8a3f" stroke="#3c7a2e" stroke-width="0.6"/>
<text x="339.7" y="336.3" font-size="9.3" text-anchor="end" textLength="39.9" lengthAdjust="spacingAndGlyphs">TNFRSF14</text>
<rect x="343.80" y="341.06" width="11.3" height="11.0" fill="#4f8a3f" stroke="#3c7a2e" stroke-width="0.6"/>
<rect x="355.87" y="340.76" width="11.9" height="11.6" fill="#d4d4d4"/>
<rect x="368.24" y="340.76" width="11.9" height="11.6" fill="#d4d4d4"/>
<rect x="380.61" y="340.76" width="11.9" height="11.6" fill="#d4d4d4"/>
<rect x="392.98" y="340.76" width="11.9" height="11.6" fill="#d4d4d4"/>
<rect x="405.35" y="340.76" width="11.9" height="11.6" fill="#d4d4d4"/>
<rect x="417.72" y="340.76" width="11.9" height="11.6" fill="#d4d4d4"/>
<rect x="430.39" y="341.06" width="11.3" height="11.0" fill="#141414" stroke="#000000" stroke-width="0.6"/>
<text x="339.7" y="349.1" font-size="9.3" text-anchor="end" textLength="30.4" lengthAdjust="spacingAndGlyphs">ARID1A</text>
<rect x="343.80" y="353.78" width="11.3" height="11.0" fill="#4f8a3f" stroke="#3c7a2e" stroke-width="0.6"/>
<rect x="356.17" y="353.78" width="11.3" height="11.0" fill="#4f8a3f" stroke="#3c7a2e" stroke-width="0.6"/>
<rect x="368.24" y="353.48" width="11.9" height="11.6" fill="#d4d4d4"/>
<rect x="380.61" y="353.48" width="11.9" height="11.6" fill="#d4d4d4"/>
<rect x="392.98" y="353.48" width="11.9" height="11.6" fill="#d4d4d4"/>
<rect x="405.35" y="353.48" width="11.9" height="11.6" fill="#d4d4d4"/>
<rect x="417.72" y="353.48" width="11.9" height="11.6" fill="#d4d4d4"/>
<rect x="430.09" y="353.48" width="11.9" height="11.6" fill="#d4d4d4"/>
<text x="339.7" y="361.8" font-size="9.3" text-anchor="end" textLength="20.7" lengthAdjust="spacingAndGlyphs">EZH2</text>
<rect x="343.50" y="366.20" width="11.9" height="11.6" fill="#d4d4d4"/>
<rect x="355.87" y="366.20" width="11.9" height="11.6" fill="#d4d4d4"/>
<rect x="368.54" y="366.50" width="11.3" height="11.0" fill="#4f8a3f" stroke="#3c7a2e" stroke-width="0.6"/>
<rect x="380.61" y="366.20" width="11.9" height="11.6" fill="#d4d4d4"/>
<rect x="392.98" y="366.20" width="11.9" height="11.6" fill="#d4d4d4"/>
<rect x="405.35" y="366.20" width="11.9" height="11.6" fill="#d4d4d4"/>
<rect x="417.72" y="366.20" width="11.9" height="11.6" fill="#d4d4d4"/>
<rect x="430.39" y="366.50" width="11.3" height="11.0" fill="#4f8a3f" stroke="#3c7a2e" stroke-width="0.6"/>
<text x="339.7" y="374.5" font-size="9.3" text-anchor="end" textLength="23.9" lengthAdjust="spacingAndGlyphs">EP300</text>
<rect x="343.50" y="378.92" width="11.9" height="11.6" fill="#d4d4d4"/>
<rect x="355.87" y="378.92" width="11.9" height="11.6" fill="#d4d4d4"/>
<rect x="368.24" y="378.92" width="11.9" height="11.6" fill="#d4d4d4"/>
<rect x="380.91" y="379.22" width="11.3" height="11.0" fill="#4f8a3f" stroke="#3c7a2e" stroke-width="0.6"/>
<rect x="392.98" y="378.92" width="11.9" height="11.6" fill="#d4d4d4"/>
<rect x="405.65" y="379.22" width="11.3" height="11.0" fill="#4f8a3f" stroke="#3c7a2e" stroke-width="0.6"/>
<rect x="417.72" y="378.92" width="11.9" height="11.6" fill="#d4d4d4"/>
<rect x="430.09" y="378.92" width="11.9" height="11.6" fill="#d4d4d4"/>
<text x="339.7" y="387.2" font-size="9.3" text-anchor="end" textLength="23.8" lengthAdjust="spacingAndGlyphs">STAT6</text>
<rect x="343.50" y="391.64" width="11.9" height="11.6" fill="#d4d4d4"/>
<rect x="355.87" y="391.64" width="11.9" height="11.6" fill="#d4d4d4"/>
<rect x="368.24" y="391.64" width="11.9" height="11.6" fill="#d4d4d4"/>
<rect x="380.61" y="391.64" width="11.9" height="11.6" fill="#d4d4d4"/>
<rect x="392.98" y="391.64" width="11.9" height="11.6" fill="#d4d4d4"/>
<rect x="405.35" y="391.64" width="11.9" height="11.6" fill="#d4d4d4"/>
<rect x="417.72" y="391.64" width="11.9" height="11.6" fill="#d4d4d4"/>
<rect x="430.39" y="391.94" width="11.3" height="11.0" fill="#4f8a3f" stroke="#3c7a2e" stroke-width="0.6"/>
<text x="339.7" y="399.9" font-size="9.3" text-anchor="end" textLength="33.3" lengthAdjust="spacingAndGlyphs">TNFAIP3</text>
<rect x="343.50" y="404.36" width="11.9" height="11.6" fill="#d4d4d4"/>
<rect x="356.17" y="404.66" width="11.3" height="11.0" fill="#4f8a3f" stroke="#3c7a2e" stroke-width="0.6"/>
<rect x="368.24" y="404.36" width="11.9" height="11.6" fill="#d4d4d4"/>
<rect x="380.61" y="404.36" width="11.9" height="11.6" fill="#d4d4d4"/>
<rect x="392.98" y="404.36" width="11.9" height="11.6" fill="#d4d4d4"/>
<rect x="405.35" y="404.36" width="11.9" height="11.6" fill="#d4d4d4"/>
<rect x="417.72" y="404.36" width="11.9" height="11.6" fill="#d4d4d4"/>
<rect x="430.09" y="404.36" width="11.9" height="11.6" fill="#d4d4d4"/>
<text x="339.7" y="412.7" font-size="9.3" text-anchor="end" textLength="28.7" lengthAdjust="spacingAndGlyphs">FOXO1</text>
<rect x="343.50" y="417.08" width="11.9" height="11.6" fill="#d4d4d4"/>
<rect x="355.87" y="417.08" width="11.9" height="11.6" fill="#d4d4d4"/>
<rect x="368.24" y="417.08" width="11.9" height="11.6" fill="#d4d4d4"/>
<rect x="380.61" y="417.08" width="11.9" height="11.6" fill="#d4d4d4"/>
<rect x="392.98" y="417.08" width="11.9" height="11.6" fill="#d4d4d4"/>
<rect x="405.65" y="417.38" width="11.3" height="11.0" fill="#e8a020" stroke="#d89010" stroke-width="0.6"/>
<rect x="417.72" y="417.08" width="11.9" height="11.6" fill="#d4d4d4"/>
<rect x="430.09" y="417.08" width="11.9" height="11.6" fill="#d4d4d4"/>
<text x="339.7" y="425.4" font-size="9.3" text-anchor="end" textLength="16.7" lengthAdjust="spacingAndGlyphs">IRF8</text>
<rect x="343.50" y="429.80" width="11.9" height="11.6" fill="#d4d4d4"/>
<rect x="355.87" y="429.80" width="11.9" height="11.6" fill="#d4d4d4"/>
<rect x="368.24" y="429.80" width="11.9" height="11.6" fill="#d4d4d4"/>
<rect x="380.61" y="429.80" width="11.9" height="11.6" fill="#d4d4d4"/>
<rect x="392.98" y="429.80" width="11.9" height="11.6" fill="#d4d4d4"/>
<rect x="405.35" y="429.80" width="11.9" height="11.6" fill="#d4d4d4"/>
<rect x="418.02" y="430.10" width="11.3" height="11.0" fill="#4f8a3f" stroke="#3c7a2e" stroke-width="0.6"/>
<rect x="430.09" y="429.80" width="11.9" height="11.6" fill="#d4d4d4"/>
<text x="339.7" y="438.1" font-size="9.3" text-anchor="end" textLength="22.0" lengthAdjust="spacingAndGlyphs">IKZF3</text>
<rect x="343.50" y="442.52" width="11.9" height="11.6" fill="#d4d4d4"/>
<rect x="355.87" y="442.52" width="11.9" height="11.6" fill="#d4d4d4"/>
<rect x="368.24" y="442.52" width="11.9" height="11.6" fill="#d4d4d4"/>
<rect x="380.91" y="442.82" width="11.3" height="11.0" fill="#4f8a3f" stroke="#3c7a2e" stroke-width="0.6"/>
<rect x="392.98" y="442.52" width="11.9" height="11.6" fill="#d4d4d4"/>
<rect x="405.35" y="442.52" width="11.9" height="11.6" fill="#d4d4d4"/>
<rect x="417.72" y="442.52" width="11.9" height="11.6" fill="#d4d4d4"/>
<rect x="430.09" y="442.52" width="11.9" height="11.6" fill="#d4d4d4"/>
<text x="339.7" y="450.8" font-size="9.3" text-anchor="end" textLength="20.3" lengthAdjust="spacingAndGlyphs">BCL6</text>
<rect x="343.50" y="455.24" width="11.9" height="11.6" fill="#d4d4d4"/>
<rect x="355.87" y="455.24" width="11.9" height="11.6" fill="#d4d4d4"/>
<rect x="368.24" y="455.24" width="11.9" height="11.6" fill="#d4d4d4"/>
<rect x="380.61" y="455.24" width="11.9" height="11.6" fill="#d4d4d4"/>
<rect x="392.98" y="455.24" width="11.9" height="11.6" fill="#d4d4d4"/>
<rect x="405.35" y="455.24" width="11.9" height="11.6" fill="#d4d4d4"/>
<rect x="417.72" y="455.24" width="11.9" height="11.6" fill="#d4d4d4"/>
<rect x="430.39" y="455.54" width="11.3" height="11.0" fill="#4f8a3f" stroke="#3c7a2e" stroke-width="0.6"/>
<text x="339.7" y="463.5" font-size="9.3" text-anchor="end" textLength="19.4" lengthAdjust="spacingAndGlyphs">PIM1</text>
<rect x="343.50" y="467.96" width="11.9" height="11.6" fill="#d4d4d4"/>
<rect x="356.17" y="468.26" width="11.3" height="11.0" fill="#4f8a3f" stroke="#3c7a2e" stroke-width="0.6"/>
<rect x="368.24" y="467.96" width="11.9" height="11.6" fill="#d4d4d4"/>
<rect x="380.61" y="467.96" width="11.9" height="11.6" fill="#d4d4d4"/>
<rect x="392.98" y="467.96" width="11.9" height="11.6" fill="#d4d4d4"/>
<rect x="405.35" y="467.96" width="11.9" height="11.6" fill="#d4d4d4"/>
<rect x="417.72" y="467.96" width="11.9" height="11.6" fill="#d4d4d4"/>
<rect x="430.09" y="467.96" width="11.9" height="11.6" fill="#d4d4d4"/>
<text x="339.7" y="476.3" font-size="9.3" text-anchor="end" textLength="29.0" lengthAdjust="spacingAndGlyphs">PRDM1</text>
<text x="353.1" y="486.3" font-size="8.4" text-anchor="end" transform="rotate(-45 353.1 486.3)">FL8</text>
<text x="365.5" y="486.3" font-size="8.4" text-anchor="end" transform="rotate(-45 365.5 486.3)">FL2</text>
<text x="377.8" y="486.3" font-size="8.4" text-anchor="end" transform="rotate(-45 377.8 486.3)">FL9</text>
<text x="390.2" y="486.3" font-size="8.4" text-anchor="end" transform="rotate(-45 390.2 486.3)">FL6</text>
<text x="402.6" y="486.3" font-size="8.4" text-anchor="end" transform="rotate(-45 402.6 486.3)">FL10</text>
<text x="414.9" y="486.3" font-size="8.4" text-anchor="end" transform="rotate(-45 414.9 486.3)">FL3</text>
<text x="427.3" y="486.3" font-size="8.4" text-anchor="end" transform="rotate(-45 427.3 486.3)">FL1</text>
<text x="439.7" y="486.3" font-size="8.4" text-anchor="end" transform="rotate(-45 439.7 486.3)">FL5</text>
<text x="452.5" y="370.3" font-size="8.4" textLength="35.8" lengthAdjust="spacingAndGlyphs">Alteration</text>
<rect x="452.3" y="373.50" width="6.6" height="6.2" fill="#4f8a3f"/>
<text x="462.3" y="379.1" font-size="8.4" textLength="32.5" lengthAdjust="spacingAndGlyphs">missense</text>
<rect x="452.3" y="381.06" width="6.6" height="6.2" fill="#7f4798"/>
<text x="462.3" y="386.7" font-size="8.4" textLength="43.3" lengthAdjust="spacingAndGlyphs">in frame del</text>
<rect x="452.3" y="388.62" width="6.6" height="6.2" fill="#c8101c"/>
<text x="462.3" y="394.2" font-size="8.4" textLength="29.6" lengthAdjust="spacingAndGlyphs">multi hit</text>
<rect x="452.3" y="396.18" width="6.6" height="6.2" fill="#e8a020"/>
<text x="462.3" y="401.8" font-size="8.4" textLength="49.8" lengthAdjust="spacingAndGlyphs">frameshift del</text>
<rect x="452.3" y="403.74" width="6.6" height="6.2" fill="#a6d0b8"/>
<text x="462.3" y="409.3" font-size="8.4" textLength="34.6" lengthAdjust="spacingAndGlyphs">start site</text>
<rect x="452.3" y="411.30" width="6.6" height="6.2" fill="#141414"/>
<text x="462.3" y="416.9" font-size="8.4" textLength="33.9" lengthAdjust="spacingAndGlyphs">nonsense</text>
</svg>
<div class="frame"></div>
</body></html>
